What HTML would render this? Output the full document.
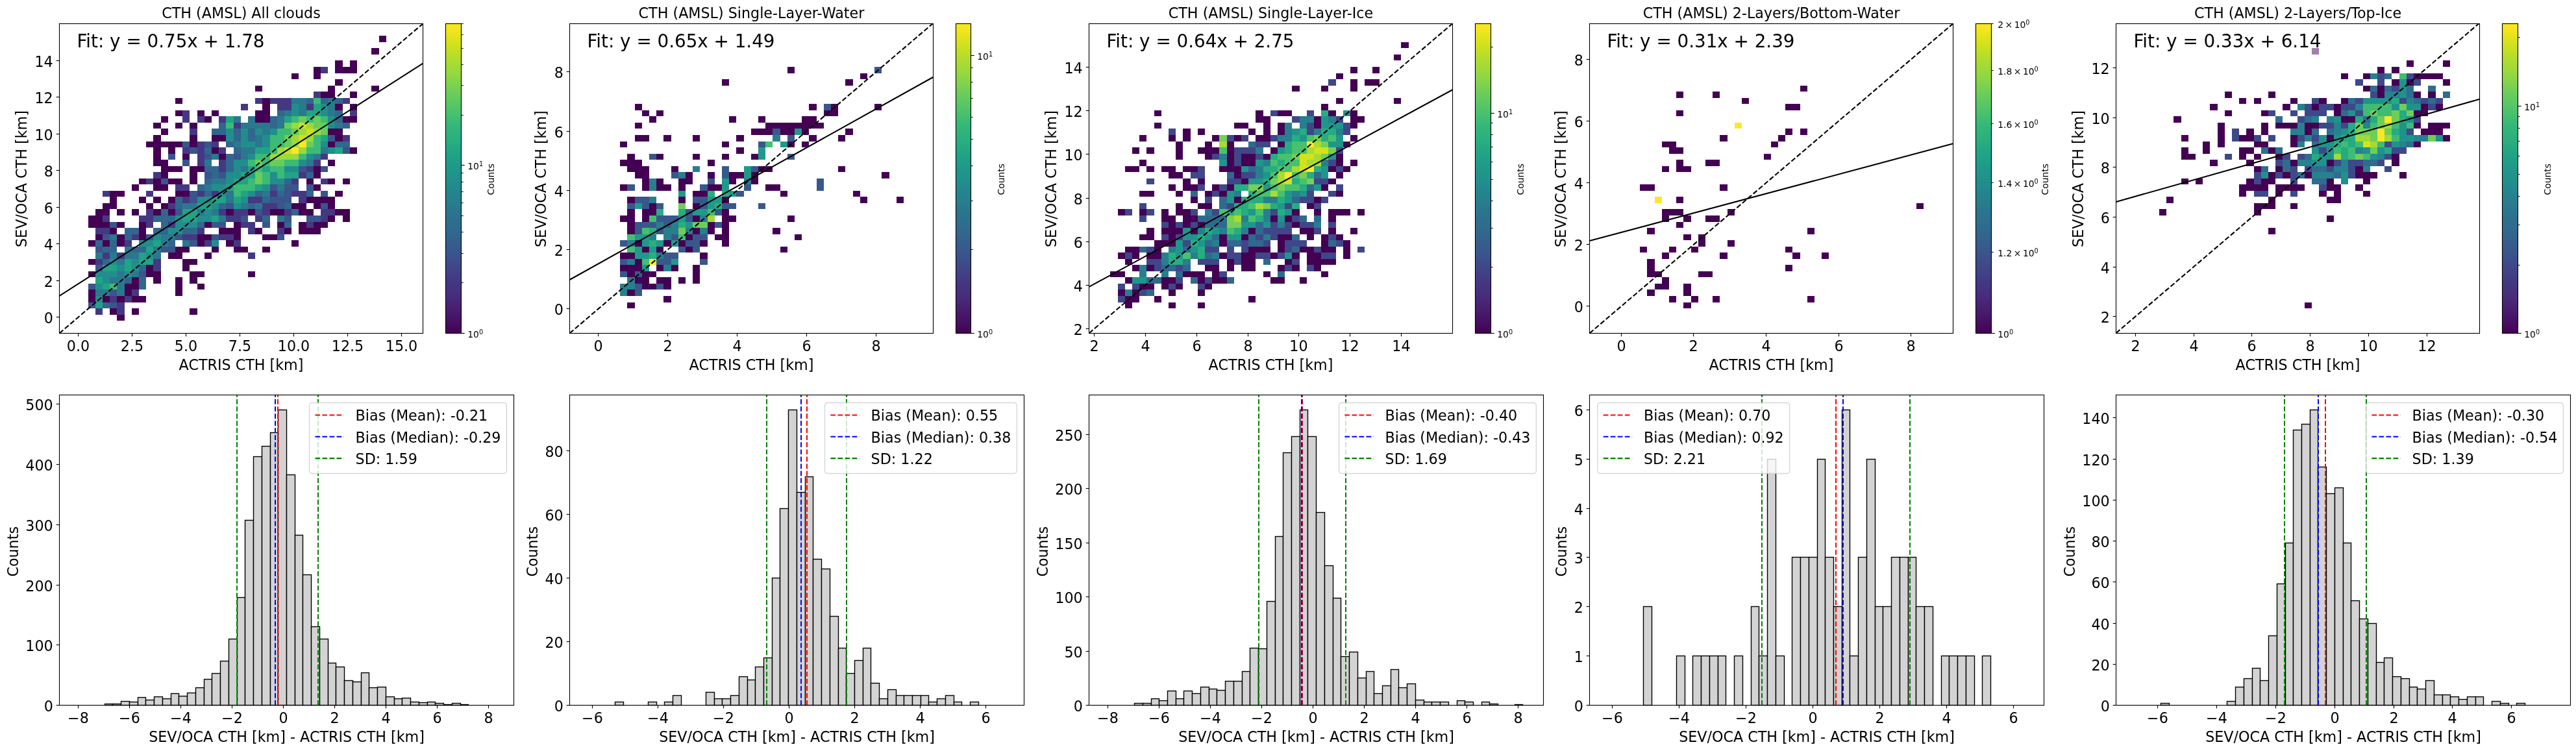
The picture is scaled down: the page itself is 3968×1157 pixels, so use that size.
<!DOCTYPE html><html><head><meta charset="utf-8"><title>CTH comparison</title><style>html,body{margin:0;padding:0;background:#fff}svg{display:block;will-change:transform}text{font-family:"DejaVu Sans", "Liberation Sans", sans-serif;fill:#000}</style></head><body>
<svg width="3968" height="1157" viewBox="0 0 3968 1157">
<rect width="3968" height="1157" fill="#fff"/>
<g shape-rendering="crispEdges">
<rect x="583.6" y="55.33" width="11.2" height="9.54" fill="#440154"/>
<rect x="572.4" y="74.41" width="11.2" height="9.54" fill="#440154"/>
<rect x="516.4" y="93.49" width="11.2" height="9.54" fill="#440154"/>
<rect x="538.8" y="93.49" width="11.2" height="9.54" fill="#440154"/>
<rect x="482.8" y="103.03" width="11.2" height="9.54" fill="#440154"/>
<rect x="494" y="103.03" width="11.2" height="9.54" fill="#453882"/>
<rect x="516.4" y="103.03" width="33.6" height="9.54" fill="#440154"/>
<rect x="449.2" y="112.57" width="11.2" height="9.54" fill="#440154"/>
<rect x="482.8" y="112.57" width="11.2" height="9.54" fill="#440154"/>
<rect x="516.4" y="122.11" width="11.2" height="9.54" fill="#440154"/>
<rect x="393.2" y="131.65" width="11.2" height="9.54" fill="#440154"/>
<rect x="505.2" y="131.65" width="11.2" height="9.54" fill="#440154"/>
<rect x="572.4" y="131.65" width="11.2" height="9.54" fill="#440154"/>
<rect x="482.8" y="141.19" width="11.2" height="9.54" fill="#453882"/>
<rect x="494" y="141.19" width="22.4" height="9.54" fill="#440154"/>
<rect x="538.8" y="141.19" width="11.2" height="9.54" fill="#440154"/>
<rect x="270" y="150.73" width="11.2" height="9.54" fill="#440154"/>
<rect x="393.2" y="150.73" width="11.2" height="9.54" fill="#453882"/>
<rect x="404.4" y="150.73" width="11.2" height="9.54" fill="#440154"/>
<rect x="415.6" y="150.73" width="33.6" height="9.54" fill="#453882"/>
<rect x="449.2" y="150.73" width="22.4" height="9.54" fill="#2a788e"/>
<rect x="471.6" y="150.73" width="11.2" height="9.54" fill="#31668e"/>
<rect x="482.8" y="150.73" width="11.2" height="9.54" fill="#3bbb75"/>
<rect x="494" y="150.73" width="11.2" height="9.54" fill="#31668e"/>
<rect x="505.2" y="150.73" width="11.2" height="9.54" fill="#2a788e"/>
<rect x="516.4" y="150.73" width="11.2" height="9.54" fill="#31668e"/>
<rect x="527.6" y="150.73" width="11.2" height="9.54" fill="#453882"/>
<rect x="370.8" y="160.27" width="11.2" height="9.54" fill="#453882"/>
<rect x="404.4" y="160.27" width="11.2" height="9.54" fill="#440154"/>
<rect x="426.8" y="160.27" width="22.4" height="9.54" fill="#453882"/>
<rect x="449.2" y="160.27" width="11.2" height="9.54" fill="#218e8d"/>
<rect x="460.4" y="160.27" width="11.2" height="9.54" fill="#2a788e"/>
<rect x="471.6" y="160.27" width="11.2" height="9.54" fill="#453882"/>
<rect x="482.8" y="160.27" width="11.2" height="9.54" fill="#20a386"/>
<rect x="494" y="160.27" width="11.2" height="9.54" fill="#218e8d"/>
<rect x="505.2" y="160.27" width="11.2" height="9.54" fill="#2a788e"/>
<rect x="516.4" y="160.27" width="11.2" height="9.54" fill="#440154"/>
<rect x="538.8" y="160.27" width="11.2" height="9.54" fill="#440154"/>
<rect x="270" y="169.81" width="11.2" height="9.54" fill="#440154"/>
<rect x="281.2" y="169.81" width="11.2" height="9.54" fill="#453882"/>
<rect x="303.6" y="169.81" width="11.2" height="9.54" fill="#440154"/>
<rect x="326" y="169.81" width="11.2" height="9.54" fill="#440154"/>
<rect x="393.2" y="169.81" width="22.4" height="9.54" fill="#440154"/>
<rect x="426.8" y="169.81" width="11.2" height="9.54" fill="#31668e"/>
<rect x="438" y="169.81" width="11.2" height="9.54" fill="#2a788e"/>
<rect x="449.2" y="169.81" width="11.2" height="9.54" fill="#218e8d"/>
<rect x="460.4" y="169.81" width="11.2" height="9.54" fill="#2a788e"/>
<rect x="471.6" y="169.81" width="22.4" height="9.54" fill="#20a386"/>
<rect x="494" y="169.81" width="11.2" height="9.54" fill="#218e8d"/>
<rect x="505.2" y="169.81" width="11.2" height="9.54" fill="#2a788e"/>
<rect x="516.4" y="169.81" width="11.2" height="9.54" fill="#31668e"/>
<rect x="538.8" y="169.81" width="11.2" height="9.54" fill="#453882"/>
<rect x="247.6" y="179.35" width="11.2" height="9.54" fill="#440154"/>
<rect x="281.2" y="179.35" width="11.2" height="9.54" fill="#453882"/>
<rect x="303.6" y="179.35" width="11.2" height="9.54" fill="#453882"/>
<rect x="314.8" y="179.35" width="11.2" height="9.54" fill="#440154"/>
<rect x="337.2" y="179.35" width="11.2" height="9.54" fill="#453882"/>
<rect x="348.4" y="179.35" width="11.2" height="9.54" fill="#20a386"/>
<rect x="359.6" y="179.35" width="11.2" height="9.54" fill="#2a788e"/>
<rect x="382" y="179.35" width="11.2" height="9.54" fill="#2a788e"/>
<rect x="393.2" y="179.35" width="22.4" height="9.54" fill="#440154"/>
<rect x="415.6" y="179.35" width="11.2" height="9.54" fill="#31668e"/>
<rect x="426.8" y="179.35" width="11.2" height="9.54" fill="#2a788e"/>
<rect x="438" y="179.35" width="11.2" height="9.54" fill="#20a386"/>
<rect x="449.2" y="179.35" width="11.2" height="9.54" fill="#3bbb75"/>
<rect x="460.4" y="179.35" width="11.2" height="9.54" fill="#69cd5b"/>
<rect x="471.6" y="179.35" width="11.2" height="9.54" fill="#3bbb75"/>
<rect x="482.8" y="179.35" width="11.2" height="9.54" fill="#69cd5b"/>
<rect x="494" y="179.35" width="11.2" height="9.54" fill="#3bbb75"/>
<rect x="505.2" y="179.35" width="11.2" height="9.54" fill="#218e8d"/>
<rect x="516.4" y="179.35" width="11.2" height="9.54" fill="#31668e"/>
<rect x="527.6" y="179.35" width="22.4" height="9.54" fill="#440154"/>
<rect x="236.4" y="188.89" width="11.2" height="9.54" fill="#440154"/>
<rect x="270" y="188.89" width="11.2" height="9.54" fill="#440154"/>
<rect x="292.4" y="188.89" width="11.2" height="9.54" fill="#440154"/>
<rect x="337.2" y="188.89" width="11.2" height="9.54" fill="#31668e"/>
<rect x="348.4" y="188.89" width="11.2" height="9.54" fill="#3bbb75"/>
<rect x="359.6" y="188.89" width="11.2" height="9.54" fill="#453882"/>
<rect x="370.8" y="188.89" width="44.8" height="9.54" fill="#2a788e"/>
<rect x="415.6" y="188.89" width="11.2" height="9.54" fill="#31668e"/>
<rect x="426.8" y="188.89" width="11.2" height="9.54" fill="#2a788e"/>
<rect x="438" y="188.89" width="11.2" height="9.54" fill="#69cd5b"/>
<rect x="449.2" y="188.89" width="11.2" height="9.54" fill="#9bd93c"/>
<rect x="460.4" y="188.89" width="11.2" height="9.54" fill="#cae11f"/>
<rect x="471.6" y="188.89" width="11.2" height="9.54" fill="#9bd93c"/>
<rect x="482.8" y="188.89" width="22.4" height="9.54" fill="#69cd5b"/>
<rect x="505.2" y="188.89" width="11.2" height="9.54" fill="#218e8d"/>
<rect x="516.4" y="188.89" width="11.2" height="9.54" fill="#2a788e"/>
<rect x="527.6" y="188.89" width="11.2" height="9.54" fill="#31668e"/>
<rect x="247.6" y="198.43" width="11.2" height="9.54" fill="#440154"/>
<rect x="292.4" y="198.43" width="11.2" height="9.54" fill="#453882"/>
<rect x="326" y="198.43" width="22.4" height="9.54" fill="#31668e"/>
<rect x="348.4" y="198.43" width="11.2" height="9.54" fill="#218e8d"/>
<rect x="359.6" y="198.43" width="11.2" height="9.54" fill="#31668e"/>
<rect x="370.8" y="198.43" width="11.2" height="9.54" fill="#218e8d"/>
<rect x="382" y="198.43" width="11.2" height="9.54" fill="#31668e"/>
<rect x="393.2" y="198.43" width="11.2" height="9.54" fill="#218e8d"/>
<rect x="404.4" y="198.43" width="11.2" height="9.54" fill="#2a788e"/>
<rect x="415.6" y="198.43" width="11.2" height="9.54" fill="#218e8d"/>
<rect x="426.8" y="198.43" width="22.4" height="9.54" fill="#3bbb75"/>
<rect x="449.2" y="198.43" width="11.2" height="9.54" fill="#69cd5b"/>
<rect x="460.4" y="198.43" width="11.2" height="9.54" fill="#9bd93c"/>
<rect x="471.6" y="198.43" width="11.2" height="9.54" fill="#cae11f"/>
<rect x="482.8" y="198.43" width="11.2" height="9.54" fill="#9bd93c"/>
<rect x="494" y="198.43" width="11.2" height="9.54" fill="#69cd5b"/>
<rect x="505.2" y="198.43" width="22.4" height="9.54" fill="#440154"/>
<rect x="236.4" y="207.97" width="11.2" height="9.54" fill="#440154"/>
<rect x="292.4" y="207.97" width="11.2" height="9.54" fill="#440154"/>
<rect x="326" y="207.97" width="22.4" height="9.54" fill="#440154"/>
<rect x="348.4" y="207.97" width="11.2" height="9.54" fill="#218e8d"/>
<rect x="359.6" y="207.97" width="11.2" height="9.54" fill="#31668e"/>
<rect x="370.8" y="207.97" width="11.2" height="9.54" fill="#218e8d"/>
<rect x="382" y="207.97" width="11.2" height="9.54" fill="#31668e"/>
<rect x="393.2" y="207.97" width="11.2" height="9.54" fill="#2a788e"/>
<rect x="404.4" y="207.97" width="11.2" height="9.54" fill="#218e8d"/>
<rect x="415.6" y="207.97" width="22.4" height="9.54" fill="#3bbb75"/>
<rect x="438" y="207.97" width="11.2" height="9.54" fill="#69cd5b"/>
<rect x="449.2" y="207.97" width="11.2" height="9.54" fill="#9bd93c"/>
<rect x="460.4" y="207.97" width="11.2" height="9.54" fill="#cae11f"/>
<rect x="471.6" y="207.97" width="11.2" height="9.54" fill="#9bd93c"/>
<rect x="482.8" y="207.97" width="11.2" height="9.54" fill="#3bbb75"/>
<rect x="494" y="207.97" width="11.2" height="9.54" fill="#20a386"/>
<rect x="505.2" y="207.97" width="11.2" height="9.54" fill="#3a548c"/>
<rect x="516.4" y="207.97" width="11.2" height="9.54" fill="#440154"/>
<rect x="527.6" y="207.97" width="11.2" height="9.54" fill="#453882"/>
<rect x="225.2" y="217.51" width="56" height="9.54" fill="#440154"/>
<rect x="281.2" y="217.51" width="11.2" height="9.54" fill="#3a548c"/>
<rect x="292.4" y="217.51" width="11.2" height="9.54" fill="#440154"/>
<rect x="303.6" y="217.51" width="11.2" height="9.54" fill="#453882"/>
<rect x="314.8" y="217.51" width="11.2" height="9.54" fill="#3a548c"/>
<rect x="326" y="217.51" width="11.2" height="9.54" fill="#453882"/>
<rect x="348.4" y="217.51" width="11.2" height="9.54" fill="#31668e"/>
<rect x="359.6" y="217.51" width="11.2" height="9.54" fill="#2a788e"/>
<rect x="370.8" y="217.51" width="22.4" height="9.54" fill="#218e8d"/>
<rect x="393.2" y="217.51" width="11.2" height="9.54" fill="#2a788e"/>
<rect x="404.4" y="217.51" width="11.2" height="9.54" fill="#218e8d"/>
<rect x="415.6" y="217.51" width="22.4" height="9.54" fill="#3bbb75"/>
<rect x="438" y="217.51" width="11.2" height="9.54" fill="#69cd5b"/>
<rect x="449.2" y="217.51" width="11.2" height="9.54" fill="#9bd93c"/>
<rect x="460.4" y="217.51" width="11.2" height="9.54" fill="#fde725"/>
<rect x="471.6" y="217.51" width="11.2" height="9.54" fill="#69cd5b"/>
<rect x="482.8" y="217.51" width="11.2" height="9.54" fill="#3bbb75"/>
<rect x="494" y="217.51" width="11.2" height="9.54" fill="#218e8d"/>
<rect x="505.2" y="217.51" width="11.2" height="9.54" fill="#440154"/>
<rect x="516.4" y="217.51" width="22.4" height="9.54" fill="#31668e"/>
<rect x="236.4" y="227.05" width="11.2" height="9.54" fill="#440154"/>
<rect x="258.8" y="227.05" width="11.2" height="9.54" fill="#440154"/>
<rect x="281.2" y="227.05" width="11.2" height="9.54" fill="#453882"/>
<rect x="292.4" y="227.05" width="11.2" height="9.54" fill="#3a548c"/>
<rect x="303.6" y="227.05" width="11.2" height="9.54" fill="#453882"/>
<rect x="314.8" y="227.05" width="11.2" height="9.54" fill="#31668e"/>
<rect x="326" y="227.05" width="11.2" height="9.54" fill="#440154"/>
<rect x="337.2" y="227.05" width="11.2" height="9.54" fill="#453882"/>
<rect x="359.6" y="227.05" width="11.2" height="9.54" fill="#31668e"/>
<rect x="370.8" y="227.05" width="22.4" height="9.54" fill="#2a788e"/>
<rect x="393.2" y="227.05" width="22.4" height="9.54" fill="#20a386"/>
<rect x="415.6" y="227.05" width="11.2" height="9.54" fill="#3bbb75"/>
<rect x="426.8" y="227.05" width="11.2" height="9.54" fill="#9bd93c"/>
<rect x="438" y="227.05" width="11.2" height="9.54" fill="#cae11f"/>
<rect x="449.2" y="227.05" width="11.2" height="9.54" fill="#fde725"/>
<rect x="460.4" y="227.05" width="11.2" height="9.54" fill="#9bd93c"/>
<rect x="471.6" y="227.05" width="22.4" height="9.54" fill="#3bbb75"/>
<rect x="494" y="227.05" width="11.2" height="9.54" fill="#2a788e"/>
<rect x="505.2" y="227.05" width="11.2" height="9.54" fill="#218e8d"/>
<rect x="516.4" y="227.05" width="11.2" height="9.54" fill="#20a386"/>
<rect x="527.6" y="227.05" width="11.2" height="9.54" fill="#3a548c"/>
<rect x="538.8" y="227.05" width="11.2" height="9.54" fill="#440154"/>
<rect x="236.4" y="236.59" width="11.2" height="9.54" fill="#440154"/>
<rect x="258.8" y="236.59" width="11.2" height="9.54" fill="#3a548c"/>
<rect x="281.2" y="236.59" width="11.2" height="9.54" fill="#440154"/>
<rect x="303.6" y="236.59" width="11.2" height="9.54" fill="#453882"/>
<rect x="314.8" y="236.59" width="11.2" height="9.54" fill="#3a548c"/>
<rect x="326" y="236.59" width="11.2" height="9.54" fill="#2a788e"/>
<rect x="337.2" y="236.59" width="11.2" height="9.54" fill="#440154"/>
<rect x="348.4" y="236.59" width="11.2" height="9.54" fill="#31668e"/>
<rect x="359.6" y="236.59" width="11.2" height="9.54" fill="#3a548c"/>
<rect x="370.8" y="236.59" width="11.2" height="9.54" fill="#2a788e"/>
<rect x="382" y="236.59" width="11.2" height="9.54" fill="#218e8d"/>
<rect x="393.2" y="236.59" width="22.4" height="9.54" fill="#3bbb75"/>
<rect x="415.6" y="236.59" width="44.8" height="9.54" fill="#9bd93c"/>
<rect x="460.4" y="236.59" width="11.2" height="9.54" fill="#3bbb75"/>
<rect x="471.6" y="236.59" width="11.2" height="9.54" fill="#218e8d"/>
<rect x="482.8" y="236.59" width="11.2" height="9.54" fill="#2a788e"/>
<rect x="494" y="236.59" width="11.2" height="9.54" fill="#453882"/>
<rect x="236.4" y="246.13" width="22.4" height="9.54" fill="#440154"/>
<rect x="281.2" y="246.13" width="11.2" height="9.54" fill="#3a548c"/>
<rect x="303.6" y="246.13" width="11.2" height="9.54" fill="#453882"/>
<rect x="314.8" y="246.13" width="11.2" height="9.54" fill="#2a788e"/>
<rect x="337.2" y="246.13" width="11.2" height="9.54" fill="#453882"/>
<rect x="348.4" y="246.13" width="11.2" height="9.54" fill="#31668e"/>
<rect x="359.6" y="246.13" width="22.4" height="9.54" fill="#218e8d"/>
<rect x="382" y="246.13" width="11.2" height="9.54" fill="#3bbb75"/>
<rect x="393.2" y="246.13" width="11.2" height="9.54" fill="#69cd5b"/>
<rect x="404.4" y="246.13" width="11.2" height="9.54" fill="#3bbb75"/>
<rect x="415.6" y="246.13" width="22.4" height="9.54" fill="#69cd5b"/>
<rect x="438" y="246.13" width="22.4" height="9.54" fill="#3bbb75"/>
<rect x="460.4" y="246.13" width="11.2" height="9.54" fill="#218e8d"/>
<rect x="471.6" y="246.13" width="11.2" height="9.54" fill="#2a788e"/>
<rect x="482.8" y="246.13" width="11.2" height="9.54" fill="#453882"/>
<rect x="505.2" y="246.13" width="11.2" height="9.54" fill="#440154"/>
<rect x="247.6" y="255.67" width="33.6" height="9.54" fill="#440154"/>
<rect x="292.4" y="255.67" width="22.4" height="9.54" fill="#440154"/>
<rect x="314.8" y="255.67" width="22.4" height="9.54" fill="#31668e"/>
<rect x="337.2" y="255.67" width="11.2" height="9.54" fill="#453882"/>
<rect x="348.4" y="255.67" width="11.2" height="9.54" fill="#31668e"/>
<rect x="359.6" y="255.67" width="11.2" height="9.54" fill="#218e8d"/>
<rect x="370.8" y="255.67" width="11.2" height="9.54" fill="#2a788e"/>
<rect x="382" y="255.67" width="11.2" height="9.54" fill="#20a386"/>
<rect x="393.2" y="255.67" width="11.2" height="9.54" fill="#3bbb75"/>
<rect x="404.4" y="255.67" width="11.2" height="9.54" fill="#20a386"/>
<rect x="415.6" y="255.67" width="22.4" height="9.54" fill="#3bbb75"/>
<rect x="438" y="255.67" width="22.4" height="9.54" fill="#218e8d"/>
<rect x="460.4" y="255.67" width="11.2" height="9.54" fill="#3a548c"/>
<rect x="471.6" y="255.67" width="11.2" height="9.54" fill="#453882"/>
<rect x="482.8" y="255.67" width="11.2" height="9.54" fill="#440154"/>
<rect x="494" y="255.67" width="11.2" height="9.54" fill="#3a548c"/>
<rect x="236.4" y="265.21" width="11.2" height="9.54" fill="#453882"/>
<rect x="247.6" y="265.21" width="11.2" height="9.54" fill="#440154"/>
<rect x="292.4" y="265.21" width="11.2" height="9.54" fill="#440154"/>
<rect x="314.8" y="265.21" width="11.2" height="9.54" fill="#3a548c"/>
<rect x="326" y="265.21" width="11.2" height="9.54" fill="#31668e"/>
<rect x="337.2" y="265.21" width="11.2" height="9.54" fill="#3a548c"/>
<rect x="348.4" y="265.21" width="22.4" height="9.54" fill="#218e8d"/>
<rect x="370.8" y="265.21" width="22.4" height="9.54" fill="#20a386"/>
<rect x="393.2" y="265.21" width="11.2" height="9.54" fill="#69cd5b"/>
<rect x="404.4" y="265.21" width="11.2" height="9.54" fill="#3bbb75"/>
<rect x="415.6" y="265.21" width="11.2" height="9.54" fill="#218e8d"/>
<rect x="426.8" y="265.21" width="11.2" height="9.54" fill="#3bbb75"/>
<rect x="438" y="265.21" width="22.4" height="9.54" fill="#20a386"/>
<rect x="460.4" y="265.21" width="11.2" height="9.54" fill="#453882"/>
<rect x="471.6" y="265.21" width="11.2" height="9.54" fill="#31668e"/>
<rect x="482.8" y="265.21" width="11.2" height="9.54" fill="#440154"/>
<rect x="214" y="274.75" width="11.2" height="9.54" fill="#440154"/>
<rect x="225.2" y="274.75" width="11.2" height="9.54" fill="#453882"/>
<rect x="236.4" y="274.75" width="11.2" height="9.54" fill="#440154"/>
<rect x="247.6" y="274.75" width="11.2" height="9.54" fill="#3a548c"/>
<rect x="258.8" y="274.75" width="22.4" height="9.54" fill="#440154"/>
<rect x="292.4" y="274.75" width="11.2" height="9.54" fill="#440154"/>
<rect x="314.8" y="274.75" width="11.2" height="9.54" fill="#31668e"/>
<rect x="326" y="274.75" width="22.4" height="9.54" fill="#2a788e"/>
<rect x="348.4" y="274.75" width="11.2" height="9.54" fill="#218e8d"/>
<rect x="359.6" y="274.75" width="22.4" height="9.54" fill="#20a386"/>
<rect x="382" y="274.75" width="11.2" height="9.54" fill="#3bbb75"/>
<rect x="393.2" y="274.75" width="11.2" height="9.54" fill="#69cd5b"/>
<rect x="404.4" y="274.75" width="11.2" height="9.54" fill="#3bbb75"/>
<rect x="415.6" y="274.75" width="22.4" height="9.54" fill="#218e8d"/>
<rect x="438" y="274.75" width="11.2" height="9.54" fill="#31668e"/>
<rect x="449.2" y="274.75" width="11.2" height="9.54" fill="#453882"/>
<rect x="471.6" y="274.75" width="11.2" height="9.54" fill="#440154"/>
<rect x="494" y="274.75" width="11.2" height="9.54" fill="#453882"/>
<rect x="505.2" y="274.75" width="11.2" height="9.54" fill="#440154"/>
<rect x="527.6" y="274.75" width="11.2" height="9.54" fill="#440154"/>
<rect x="202.8" y="284.29" width="11.2" height="9.54" fill="#440154"/>
<rect x="236.4" y="284.29" width="22.4" height="9.54" fill="#440154"/>
<rect x="270" y="284.29" width="22.4" height="9.54" fill="#453882"/>
<rect x="303.6" y="284.29" width="11.2" height="9.54" fill="#31668e"/>
<rect x="314.8" y="284.29" width="11.2" height="9.54" fill="#2a788e"/>
<rect x="326" y="284.29" width="22.4" height="9.54" fill="#218e8d"/>
<rect x="348.4" y="284.29" width="11.2" height="9.54" fill="#20a386"/>
<rect x="359.6" y="284.29" width="33.6" height="9.54" fill="#3bbb75"/>
<rect x="393.2" y="284.29" width="11.2" height="9.54" fill="#20a386"/>
<rect x="404.4" y="284.29" width="11.2" height="9.54" fill="#218e8d"/>
<rect x="415.6" y="284.29" width="11.2" height="9.54" fill="#3a548c"/>
<rect x="426.8" y="284.29" width="11.2" height="9.54" fill="#2a788e"/>
<rect x="438" y="284.29" width="22.4" height="9.54" fill="#3a548c"/>
<rect x="471.6" y="284.29" width="11.2" height="9.54" fill="#3a548c"/>
<rect x="482.8" y="284.29" width="11.2" height="9.54" fill="#440154"/>
<rect x="158" y="293.83" width="11.2" height="9.54" fill="#453882"/>
<rect x="169.2" y="293.83" width="22.4" height="9.54" fill="#440154"/>
<rect x="225.2" y="293.83" width="11.2" height="9.54" fill="#453882"/>
<rect x="270" y="293.83" width="22.4" height="9.54" fill="#440154"/>
<rect x="292.4" y="293.83" width="11.2" height="9.54" fill="#3a548c"/>
<rect x="303.6" y="293.83" width="11.2" height="9.54" fill="#453882"/>
<rect x="314.8" y="293.83" width="11.2" height="9.54" fill="#31668e"/>
<rect x="326" y="293.83" width="11.2" height="9.54" fill="#453882"/>
<rect x="337.2" y="293.83" width="11.2" height="9.54" fill="#218e8d"/>
<rect x="348.4" y="293.83" width="11.2" height="9.54" fill="#2a788e"/>
<rect x="359.6" y="293.83" width="11.2" height="9.54" fill="#3bbb75"/>
<rect x="370.8" y="293.83" width="11.2" height="9.54" fill="#20a386"/>
<rect x="382" y="293.83" width="11.2" height="9.54" fill="#218e8d"/>
<rect x="393.2" y="293.83" width="11.2" height="9.54" fill="#31668e"/>
<rect x="404.4" y="293.83" width="11.2" height="9.54" fill="#2a788e"/>
<rect x="415.6" y="293.83" width="11.2" height="9.54" fill="#453882"/>
<rect x="426.8" y="293.83" width="11.2" height="9.54" fill="#31668e"/>
<rect x="438" y="293.83" width="11.2" height="9.54" fill="#3a548c"/>
<rect x="449.2" y="293.83" width="22.4" height="9.54" fill="#453882"/>
<rect x="471.6" y="293.83" width="11.2" height="9.54" fill="#31668e"/>
<rect x="494" y="293.83" width="11.2" height="9.54" fill="#3a548c"/>
<rect x="516.4" y="293.83" width="11.2" height="9.54" fill="#440154"/>
<rect x="169.2" y="303.37" width="11.2" height="9.54" fill="#440154"/>
<rect x="214" y="303.37" width="11.2" height="9.54" fill="#440154"/>
<rect x="236.4" y="303.37" width="11.2" height="9.54" fill="#440154"/>
<rect x="258.8" y="303.37" width="11.2" height="9.54" fill="#440154"/>
<rect x="270" y="303.37" width="11.2" height="9.54" fill="#31668e"/>
<rect x="281.2" y="303.37" width="11.2" height="9.54" fill="#453882"/>
<rect x="292.4" y="303.37" width="11.2" height="9.54" fill="#3a548c"/>
<rect x="303.6" y="303.37" width="22.4" height="9.54" fill="#218e8d"/>
<rect x="326" y="303.37" width="22.4" height="9.54" fill="#20a386"/>
<rect x="348.4" y="303.37" width="11.2" height="9.54" fill="#2a788e"/>
<rect x="359.6" y="303.37" width="11.2" height="9.54" fill="#20a386"/>
<rect x="370.8" y="303.37" width="11.2" height="9.54" fill="#218e8d"/>
<rect x="382" y="303.37" width="22.4" height="9.54" fill="#453882"/>
<rect x="404.4" y="303.37" width="11.2" height="9.54" fill="#31668e"/>
<rect x="415.6" y="303.37" width="33.6" height="9.54" fill="#3a548c"/>
<rect x="460.4" y="303.37" width="11.2" height="9.54" fill="#453882"/>
<rect x="471.6" y="303.37" width="44.8" height="9.54" fill="#440154"/>
<rect x="158" y="312.91" width="22.4" height="9.54" fill="#440154"/>
<rect x="225.2" y="312.91" width="11.2" height="9.54" fill="#440154"/>
<rect x="247.6" y="312.91" width="11.2" height="9.54" fill="#440154"/>
<rect x="258.8" y="312.91" width="11.2" height="9.54" fill="#453882"/>
<rect x="270" y="312.91" width="11.2" height="9.54" fill="#31668e"/>
<rect x="281.2" y="312.91" width="22.4" height="9.54" fill="#2a788e"/>
<rect x="303.6" y="312.91" width="22.4" height="9.54" fill="#20a386"/>
<rect x="326" y="312.91" width="11.2" height="9.54" fill="#218e8d"/>
<rect x="337.2" y="312.91" width="11.2" height="9.54" fill="#31668e"/>
<rect x="348.4" y="312.91" width="11.2" height="9.54" fill="#3a548c"/>
<rect x="359.6" y="312.91" width="11.2" height="9.54" fill="#218e8d"/>
<rect x="370.8" y="312.91" width="11.2" height="9.54" fill="#2a788e"/>
<rect x="382" y="312.91" width="11.2" height="9.54" fill="#31668e"/>
<rect x="393.2" y="312.91" width="11.2" height="9.54" fill="#2a788e"/>
<rect x="404.4" y="312.91" width="22.4" height="9.54" fill="#453882"/>
<rect x="426.8" y="312.91" width="11.2" height="9.54" fill="#3a548c"/>
<rect x="438" y="312.91" width="11.2" height="9.54" fill="#31668e"/>
<rect x="449.2" y="312.91" width="22.4" height="9.54" fill="#440154"/>
<rect x="482.8" y="312.91" width="11.2" height="9.54" fill="#440154"/>
<rect x="494" y="312.91" width="11.2" height="9.54" fill="#3a548c"/>
<rect x="505.2" y="312.91" width="11.2" height="9.54" fill="#440154"/>
<rect x="146.8" y="322.45" width="22.4" height="9.54" fill="#440154"/>
<rect x="180.4" y="322.45" width="11.2" height="9.54" fill="#440154"/>
<rect x="202.8" y="322.45" width="11.2" height="9.54" fill="#440154"/>
<rect x="225.2" y="322.45" width="11.2" height="9.54" fill="#453882"/>
<rect x="236.4" y="322.45" width="11.2" height="9.54" fill="#440154"/>
<rect x="247.6" y="322.45" width="11.2" height="9.54" fill="#31668e"/>
<rect x="258.8" y="322.45" width="11.2" height="9.54" fill="#440154"/>
<rect x="270" y="322.45" width="11.2" height="9.54" fill="#3a548c"/>
<rect x="281.2" y="322.45" width="22.4" height="9.54" fill="#20a386"/>
<rect x="303.6" y="322.45" width="11.2" height="9.54" fill="#2a788e"/>
<rect x="314.8" y="322.45" width="11.2" height="9.54" fill="#218e8d"/>
<rect x="326" y="322.45" width="11.2" height="9.54" fill="#2a788e"/>
<rect x="337.2" y="322.45" width="11.2" height="9.54" fill="#453882"/>
<rect x="348.4" y="322.45" width="11.2" height="9.54" fill="#440154"/>
<rect x="359.6" y="322.45" width="22.4" height="9.54" fill="#453882"/>
<rect x="382" y="322.45" width="11.2" height="9.54" fill="#440154"/>
<rect x="393.2" y="322.45" width="11.2" height="9.54" fill="#3a548c"/>
<rect x="404.4" y="322.45" width="11.2" height="9.54" fill="#453882"/>
<rect x="415.6" y="322.45" width="22.4" height="9.54" fill="#440154"/>
<rect x="438" y="322.45" width="11.2" height="9.54" fill="#453882"/>
<rect x="449.2" y="322.45" width="11.2" height="9.54" fill="#31668e"/>
<rect x="460.4" y="322.45" width="22.4" height="9.54" fill="#440154"/>
<rect x="494" y="322.45" width="22.4" height="9.54" fill="#453882"/>
<rect x="516.4" y="322.45" width="22.4" height="9.54" fill="#440154"/>
<rect x="135.6" y="331.99" width="22.4" height="9.54" fill="#440154"/>
<rect x="158" y="331.99" width="11.2" height="9.54" fill="#453882"/>
<rect x="214" y="331.99" width="22.4" height="9.54" fill="#453882"/>
<rect x="236.4" y="331.99" width="33.6" height="9.54" fill="#31668e"/>
<rect x="270" y="331.99" width="11.2" height="9.54" fill="#218e8d"/>
<rect x="281.2" y="331.99" width="22.4" height="9.54" fill="#20a386"/>
<rect x="303.6" y="331.99" width="22.4" height="9.54" fill="#218e8d"/>
<rect x="326" y="331.99" width="11.2" height="9.54" fill="#20a386"/>
<rect x="337.2" y="331.99" width="11.2" height="9.54" fill="#2a788e"/>
<rect x="348.4" y="331.99" width="22.4" height="9.54" fill="#453882"/>
<rect x="370.8" y="331.99" width="11.2" height="9.54" fill="#3a548c"/>
<rect x="393.2" y="331.99" width="11.2" height="9.54" fill="#453882"/>
<rect x="404.4" y="331.99" width="11.2" height="9.54" fill="#31668e"/>
<rect x="426.8" y="331.99" width="11.2" height="9.54" fill="#2a788e"/>
<rect x="438" y="331.99" width="11.2" height="9.54" fill="#3a548c"/>
<rect x="471.6" y="331.99" width="22.4" height="9.54" fill="#3a548c"/>
<rect x="494" y="331.99" width="11.2" height="9.54" fill="#453882"/>
<rect x="505.2" y="331.99" width="11.2" height="9.54" fill="#440154"/>
<rect x="527.6" y="331.99" width="11.2" height="9.54" fill="#440154"/>
<rect x="135.6" y="341.53" width="33.6" height="9.54" fill="#440154"/>
<rect x="169.2" y="341.53" width="11.2" height="9.54" fill="#3a548c"/>
<rect x="180.4" y="341.53" width="11.2" height="9.54" fill="#440154"/>
<rect x="214" y="341.53" width="11.2" height="9.54" fill="#440154"/>
<rect x="225.2" y="341.53" width="11.2" height="9.54" fill="#453882"/>
<rect x="247.6" y="341.53" width="11.2" height="9.54" fill="#31668e"/>
<rect x="258.8" y="341.53" width="11.2" height="9.54" fill="#453882"/>
<rect x="270" y="341.53" width="33.6" height="9.54" fill="#218e8d"/>
<rect x="303.6" y="341.53" width="11.2" height="9.54" fill="#31668e"/>
<rect x="314.8" y="341.53" width="11.2" height="9.54" fill="#440154"/>
<rect x="326" y="341.53" width="22.4" height="9.54" fill="#3a548c"/>
<rect x="359.6" y="341.53" width="11.2" height="9.54" fill="#440154"/>
<rect x="370.8" y="341.53" width="22.4" height="9.54" fill="#453882"/>
<rect x="404.4" y="341.53" width="11.2" height="9.54" fill="#3a548c"/>
<rect x="426.8" y="341.53" width="11.2" height="9.54" fill="#440154"/>
<rect x="438" y="341.53" width="11.2" height="9.54" fill="#31668e"/>
<rect x="460.4" y="341.53" width="11.2" height="9.54" fill="#440154"/>
<rect x="471.6" y="341.53" width="11.2" height="9.54" fill="#453882"/>
<rect x="482.8" y="341.53" width="22.4" height="9.54" fill="#440154"/>
<rect x="146.8" y="351.07" width="22.4" height="9.54" fill="#453882"/>
<rect x="169.2" y="351.07" width="11.2" height="9.54" fill="#440154"/>
<rect x="191.6" y="351.07" width="22.4" height="9.54" fill="#31668e"/>
<rect x="214" y="351.07" width="11.2" height="9.54" fill="#440154"/>
<rect x="236.4" y="351.07" width="22.4" height="9.54" fill="#31668e"/>
<rect x="258.8" y="351.07" width="22.4" height="9.54" fill="#218e8d"/>
<rect x="281.2" y="351.07" width="22.4" height="9.54" fill="#31668e"/>
<rect x="303.6" y="351.07" width="11.2" height="9.54" fill="#453882"/>
<rect x="337.2" y="351.07" width="33.6" height="9.54" fill="#440154"/>
<rect x="382" y="351.07" width="11.2" height="9.54" fill="#453882"/>
<rect x="393.2" y="351.07" width="11.2" height="9.54" fill="#440154"/>
<rect x="426.8" y="351.07" width="11.2" height="9.54" fill="#453882"/>
<rect x="438" y="351.07" width="11.2" height="9.54" fill="#440154"/>
<rect x="460.4" y="351.07" width="33.6" height="9.54" fill="#440154"/>
<rect x="146.8" y="360.61" width="11.2" height="9.54" fill="#440154"/>
<rect x="158" y="360.61" width="11.2" height="9.54" fill="#3a548c"/>
<rect x="169.2" y="360.61" width="11.2" height="9.54" fill="#2a788e"/>
<rect x="180.4" y="360.61" width="11.2" height="9.54" fill="#440154"/>
<rect x="191.6" y="360.61" width="11.2" height="9.54" fill="#31668e"/>
<rect x="202.8" y="360.61" width="11.2" height="9.54" fill="#453882"/>
<rect x="214" y="360.61" width="11.2" height="9.54" fill="#440154"/>
<rect x="225.2" y="360.61" width="11.2" height="9.54" fill="#3a548c"/>
<rect x="236.4" y="360.61" width="11.2" height="9.54" fill="#218e8d"/>
<rect x="247.6" y="360.61" width="22.4" height="9.54" fill="#2a788e"/>
<rect x="270" y="360.61" width="11.2" height="9.54" fill="#3a548c"/>
<rect x="281.2" y="360.61" width="22.4" height="9.54" fill="#453882"/>
<rect x="303.6" y="360.61" width="22.4" height="9.54" fill="#440154"/>
<rect x="326" y="360.61" width="11.2" height="9.54" fill="#3a548c"/>
<rect x="337.2" y="360.61" width="22.4" height="9.54" fill="#453882"/>
<rect x="359.6" y="360.61" width="11.2" height="9.54" fill="#440154"/>
<rect x="404.4" y="360.61" width="22.4" height="9.54" fill="#440154"/>
<rect x="426.8" y="360.61" width="11.2" height="9.54" fill="#3a548c"/>
<rect x="135.6" y="370.15" width="11.2" height="9.54" fill="#440154"/>
<rect x="146.8" y="370.15" width="11.2" height="9.54" fill="#31668e"/>
<rect x="158" y="370.15" width="11.2" height="9.54" fill="#440154"/>
<rect x="169.2" y="370.15" width="11.2" height="9.54" fill="#31668e"/>
<rect x="180.4" y="370.15" width="11.2" height="9.54" fill="#440154"/>
<rect x="191.6" y="370.15" width="11.2" height="9.54" fill="#453882"/>
<rect x="214" y="370.15" width="22.4" height="9.54" fill="#218e8d"/>
<rect x="236.4" y="370.15" width="11.2" height="9.54" fill="#20a386"/>
<rect x="247.6" y="370.15" width="11.2" height="9.54" fill="#2a788e"/>
<rect x="258.8" y="370.15" width="11.2" height="9.54" fill="#31668e"/>
<rect x="281.2" y="370.15" width="11.2" height="9.54" fill="#2a788e"/>
<rect x="292.4" y="370.15" width="11.2" height="9.54" fill="#3a548c"/>
<rect x="303.6" y="370.15" width="11.2" height="9.54" fill="#440154"/>
<rect x="314.8" y="370.15" width="11.2" height="9.54" fill="#453882"/>
<rect x="326" y="370.15" width="11.2" height="9.54" fill="#218e8d"/>
<rect x="348.4" y="370.15" width="11.2" height="9.54" fill="#440154"/>
<rect x="359.6" y="370.15" width="11.2" height="9.54" fill="#453882"/>
<rect x="449.2" y="370.15" width="11.2" height="9.54" fill="#440154"/>
<rect x="146.8" y="379.69" width="11.2" height="9.54" fill="#3a548c"/>
<rect x="158" y="379.69" width="22.4" height="9.54" fill="#31668e"/>
<rect x="191.6" y="379.69" width="11.2" height="9.54" fill="#2a788e"/>
<rect x="202.8" y="379.69" width="22.4" height="9.54" fill="#31668e"/>
<rect x="225.2" y="379.69" width="11.2" height="9.54" fill="#20a386"/>
<rect x="236.4" y="379.69" width="11.2" height="9.54" fill="#2a788e"/>
<rect x="247.6" y="379.69" width="22.4" height="9.54" fill="#3a548c"/>
<rect x="270" y="379.69" width="22.4" height="9.54" fill="#440154"/>
<rect x="326" y="379.69" width="11.2" height="9.54" fill="#440154"/>
<rect x="359.6" y="379.69" width="22.4" height="9.54" fill="#440154"/>
<rect x="404.4" y="379.69" width="11.2" height="9.54" fill="#440154"/>
<rect x="146.8" y="389.23" width="11.2" height="9.54" fill="#2a788e"/>
<rect x="158" y="389.23" width="11.2" height="9.54" fill="#453882"/>
<rect x="169.2" y="389.23" width="11.2" height="9.54" fill="#2a788e"/>
<rect x="180.4" y="389.23" width="11.2" height="9.54" fill="#453882"/>
<rect x="191.6" y="389.23" width="22.4" height="9.54" fill="#2a788e"/>
<rect x="214" y="389.23" width="11.2" height="9.54" fill="#20a386"/>
<rect x="225.2" y="389.23" width="11.2" height="9.54" fill="#218e8d"/>
<rect x="236.4" y="389.23" width="11.2" height="9.54" fill="#2a788e"/>
<rect x="258.8" y="389.23" width="22.4" height="9.54" fill="#440154"/>
<rect x="314.8" y="389.23" width="11.2" height="9.54" fill="#440154"/>
<rect x="382" y="389.23" width="11.2" height="9.54" fill="#453882"/>
<rect x="135.6" y="398.77" width="11.2" height="9.54" fill="#440154"/>
<rect x="146.8" y="398.77" width="11.2" height="9.54" fill="#453882"/>
<rect x="158" y="398.77" width="11.2" height="9.54" fill="#31668e"/>
<rect x="169.2" y="398.77" width="11.2" height="9.54" fill="#218e8d"/>
<rect x="180.4" y="398.77" width="11.2" height="9.54" fill="#2a788e"/>
<rect x="191.6" y="398.77" width="11.2" height="9.54" fill="#20a386"/>
<rect x="202.8" y="398.77" width="11.2" height="9.54" fill="#218e8d"/>
<rect x="214" y="398.77" width="22.4" height="9.54" fill="#20a386"/>
<rect x="236.4" y="398.77" width="11.2" height="9.54" fill="#453882"/>
<rect x="281.2" y="398.77" width="22.4" height="9.54" fill="#440154"/>
<rect x="146.8" y="408.31" width="11.2" height="9.54" fill="#3a548c"/>
<rect x="158" y="408.31" width="22.4" height="9.54" fill="#20a386"/>
<rect x="180.4" y="408.31" width="11.2" height="9.54" fill="#218e8d"/>
<rect x="191.6" y="408.31" width="11.2" height="9.54" fill="#20a386"/>
<rect x="202.8" y="408.31" width="11.2" height="9.54" fill="#218e8d"/>
<rect x="214" y="408.31" width="11.2" height="9.54" fill="#31668e"/>
<rect x="225.2" y="408.31" width="11.2" height="9.54" fill="#440154"/>
<rect x="236.4" y="408.31" width="11.2" height="9.54" fill="#453882"/>
<rect x="281.2" y="408.31" width="11.2" height="9.54" fill="#440154"/>
<rect x="135.6" y="417.85" width="11.2" height="9.54" fill="#440154"/>
<rect x="146.8" y="417.85" width="33.6" height="9.54" fill="#218e8d"/>
<rect x="180.4" y="417.85" width="11.2" height="9.54" fill="#2a788e"/>
<rect x="191.6" y="417.85" width="11.2" height="9.54" fill="#218e8d"/>
<rect x="202.8" y="417.85" width="11.2" height="9.54" fill="#2a788e"/>
<rect x="214" y="417.85" width="11.2" height="9.54" fill="#3a548c"/>
<rect x="225.2" y="417.85" width="22.4" height="9.54" fill="#440154"/>
<rect x="292.4" y="417.85" width="22.4" height="9.54" fill="#440154"/>
<rect x="382" y="417.85" width="11.2" height="9.54" fill="#440154"/>
<rect x="146.8" y="427.39" width="11.2" height="9.54" fill="#20a386"/>
<rect x="158" y="427.39" width="11.2" height="9.54" fill="#218e8d"/>
<rect x="169.2" y="427.39" width="22.4" height="9.54" fill="#2a788e"/>
<rect x="191.6" y="427.39" width="11.2" height="9.54" fill="#31668e"/>
<rect x="202.8" y="427.39" width="11.2" height="9.54" fill="#440154"/>
<rect x="214" y="427.39" width="11.2" height="9.54" fill="#31668e"/>
<rect x="236.4" y="427.39" width="11.2" height="9.54" fill="#440154"/>
<rect x="270" y="427.39" width="11.2" height="9.54" fill="#440154"/>
<rect x="292.4" y="427.39" width="11.2" height="9.54" fill="#440154"/>
<rect x="135.6" y="436.93" width="11.2" height="9.54" fill="#3a548c"/>
<rect x="146.8" y="436.93" width="11.2" height="9.54" fill="#218e8d"/>
<rect x="158" y="436.93" width="11.2" height="9.54" fill="#20a386"/>
<rect x="169.2" y="436.93" width="11.2" height="9.54" fill="#3bbb75"/>
<rect x="180.4" y="436.93" width="11.2" height="9.54" fill="#2a788e"/>
<rect x="191.6" y="436.93" width="22.4" height="9.54" fill="#440154"/>
<rect x="214" y="436.93" width="11.2" height="9.54" fill="#31668e"/>
<rect x="270" y="436.93" width="11.2" height="9.54" fill="#440154"/>
<rect x="303.6" y="436.93" width="11.2" height="9.54" fill="#440154"/>
<rect x="135.6" y="446.47" width="11.2" height="9.54" fill="#440154"/>
<rect x="146.8" y="446.47" width="22.4" height="9.54" fill="#2a788e"/>
<rect x="169.2" y="446.47" width="11.2" height="9.54" fill="#3a548c"/>
<rect x="180.4" y="446.47" width="11.2" height="9.54" fill="#2a788e"/>
<rect x="191.6" y="446.47" width="11.2" height="9.54" fill="#440154"/>
<rect x="202.8" y="446.47" width="11.2" height="9.54" fill="#453882"/>
<rect x="270" y="446.47" width="11.2" height="9.54" fill="#440154"/>
<rect x="135.6" y="456.01" width="11.2" height="9.54" fill="#440154"/>
<rect x="146.8" y="456.01" width="11.2" height="9.54" fill="#218e8d"/>
<rect x="158" y="456.01" width="11.2" height="9.54" fill="#440154"/>
<rect x="169.2" y="456.01" width="11.2" height="9.54" fill="#453882"/>
<rect x="180.4" y="456.01" width="11.2" height="9.54" fill="#440154"/>
<rect x="191.6" y="456.01" width="11.2" height="9.54" fill="#453882"/>
<rect x="202.8" y="456.01" width="22.4" height="9.54" fill="#440154"/>
<rect x="135.6" y="465.55" width="11.2" height="9.54" fill="#3a548c"/>
<rect x="146.8" y="465.55" width="11.2" height="9.54" fill="#20a386"/>
<rect x="158" y="465.55" width="11.2" height="9.54" fill="#31668e"/>
<rect x="169.2" y="465.55" width="11.2" height="9.54" fill="#3a548c"/>
<rect x="180.4" y="465.55" width="11.2" height="9.54" fill="#453882"/>
<rect x="146.8" y="475.09" width="11.2" height="9.54" fill="#453882"/>
<rect x="169.2" y="475.09" width="11.2" height="9.54" fill="#440154"/>
<rect x="180.4" y="475.09" width="11.2" height="9.54" fill="#453882"/>
<rect x="202.8" y="475.09" width="11.2" height="9.54" fill="#440154"/>
<rect x="292.4" y="475.09" width="11.2" height="9.54" fill="#440154"/>
<rect x="180.4" y="484.63" width="11.2" height="9.54" fill="#440154"/>
</g>
<clipPath id="c91"><rect x="91.5" y="36.5" width="560" height="477"/></clipPath>
<g clip-path="url(#c91)">
<line x1="91.5" y1="455.79" x2="651.5" y2="97.61" stroke="#000" stroke-width="2.08"/>
<line x1="91.5" y1="513.45" x2="651.5" y2="36.45" stroke="#000" stroke-width="2.08" stroke-dasharray="7.71 3.33"/>
</g>
<rect x="110.1" y="43" width="305.77" height="44.4" fill="#fff" fill-opacity="0.5"/>
<text x="118.4" y="72.7" font-size="27.78" text-anchor="start">Fit: y = 0.75x + 1.78</text>
<rect x="91.5" y="36.5" width="560" height="477" fill="none" stroke="#000" stroke-width="1.11"/>
<line x1="120.5" y1="513.5" x2="120.5" y2="518.36" stroke="#000" stroke-width="1.11"/>
<text x="120.5" y="540.5" font-size="22.22" text-anchor="middle">0.0</text>
<line x1="203.5" y1="513.5" x2="203.5" y2="518.36" stroke="#000" stroke-width="1.11"/>
<text x="203.5" y="540.5" font-size="22.22" text-anchor="middle">2.5</text>
<line x1="286.5" y1="513.5" x2="286.5" y2="518.36" stroke="#000" stroke-width="1.11"/>
<text x="286.5" y="540.5" font-size="22.22" text-anchor="middle">5.0</text>
<line x1="369.5" y1="513.5" x2="369.5" y2="518.36" stroke="#000" stroke-width="1.11"/>
<text x="369.5" y="540.5" font-size="22.22" text-anchor="middle">7.5</text>
<line x1="452.5" y1="513.5" x2="452.5" y2="518.36" stroke="#000" stroke-width="1.11"/>
<text x="452.5" y="540.5" font-size="22.22" text-anchor="middle">10.0</text>
<line x1="535.5" y1="513.5" x2="535.5" y2="518.36" stroke="#000" stroke-width="1.11"/>
<text x="535.5" y="540.5" font-size="22.22" text-anchor="middle">12.5</text>
<line x1="618.5" y1="513.5" x2="618.5" y2="518.36" stroke="#000" stroke-width="1.11"/>
<text x="618.5" y="540.5" font-size="22.22" text-anchor="middle">15.0</text>
<line x1="86.64" y1="488.5" x2="91.5" y2="488.5" stroke="#000" stroke-width="1.11"/>
<text x="81.78" y="497.8" font-size="22.22" text-anchor="end">0</text>
<line x1="86.64" y1="432.5" x2="91.5" y2="432.5" stroke="#000" stroke-width="1.11"/>
<text x="81.78" y="441.8" font-size="22.22" text-anchor="end">2</text>
<line x1="86.64" y1="375.5" x2="91.5" y2="375.5" stroke="#000" stroke-width="1.11"/>
<text x="81.78" y="384.8" font-size="22.22" text-anchor="end">4</text>
<line x1="86.64" y1="319.5" x2="91.5" y2="319.5" stroke="#000" stroke-width="1.11"/>
<text x="81.78" y="328.8" font-size="22.22" text-anchor="end">6</text>
<line x1="86.64" y1="262.5" x2="91.5" y2="262.5" stroke="#000" stroke-width="1.11"/>
<text x="81.78" y="271.8" font-size="22.22" text-anchor="end">8</text>
<line x1="86.64" y1="206.5" x2="91.5" y2="206.5" stroke="#000" stroke-width="1.11"/>
<text x="81.78" y="215.8" font-size="22.22" text-anchor="end">10</text>
<line x1="86.64" y1="149.5" x2="91.5" y2="149.5" stroke="#000" stroke-width="1.11"/>
<text x="81.78" y="158.8" font-size="22.22" text-anchor="end">12</text>
<line x1="86.64" y1="93.5" x2="91.5" y2="93.5" stroke="#000" stroke-width="1.11"/>
<text x="81.78" y="102.8" font-size="22.22" text-anchor="end">14</text>
<text x="371.5" y="27.9" font-size="22.22" text-anchor="middle">CTH (AMSL) All clouds</text>
<text x="371.5" y="569.8" font-size="22.22" text-anchor="middle">ACTRIS CTH [km]</text>
<linearGradient id="g140176185478912" x1="0" y1="0" x2="0" y2="1"><stop offset="0" stop-color="#fde725"/><stop offset="0.04" stop-color="#e5e419"/><stop offset="0.08" stop-color="#c8e020"/><stop offset="0.12" stop-color="#addc30"/><stop offset="0.17" stop-color="#90d743"/><stop offset="0.21" stop-color="#75d054"/><stop offset="0.25" stop-color="#5ec962"/><stop offset="0.29" stop-color="#48c16e"/><stop offset="0.33" stop-color="#35b779"/><stop offset="0.38" stop-color="#28ae80"/><stop offset="0.42" stop-color="#20a486"/><stop offset="0.46" stop-color="#1f9a8a"/><stop offset="0.5" stop-color="#21918c"/><stop offset="0.54" stop-color="#24868e"/><stop offset="0.58" stop-color="#287c8e"/><stop offset="0.62" stop-color="#2c728e"/><stop offset="0.67" stop-color="#31688e"/><stop offset="0.71" stop-color="#365d8d"/><stop offset="0.75" stop-color="#3b528b"/><stop offset="0.79" stop-color="#404688"/><stop offset="0.83" stop-color="#443983"/><stop offset="0.88" stop-color="#472d7b"/><stop offset="0.92" stop-color="#481f70"/><stop offset="0.96" stop-color="#471063"/><stop offset="1" stop-color="#440154"/></linearGradient>
<rect x="686.5" y="36.5" width="24" height="477" fill="url(#g140176185478912)" stroke="#000" stroke-width="1.11"/>
<line x1="710.5" y1="513.5" x2="715.76" y2="513.5" stroke="#000" stroke-width="1.11"/>
<text x="720.22" y="520.1" font-size="13.89" text-anchor="start">10<tspan dy="-5.3" font-size="9.72">0</tspan></text>
<line x1="710.5" y1="254.5" x2="715.76" y2="254.5" stroke="#000" stroke-width="1.11"/>
<text x="720.22" y="261.1" font-size="13.89" text-anchor="start">10<tspan dy="-5.3" font-size="9.72">1</tspan></text>
<line x1="710.5" y1="435.5" x2="713.78" y2="435.5" stroke="#000" stroke-width="0.95"/>
<line x1="710.5" y1="390.5" x2="713.78" y2="390.5" stroke="#000" stroke-width="0.95"/>
<line x1="710.5" y1="357.5" x2="713.78" y2="357.5" stroke="#000" stroke-width="0.95"/>
<line x1="710.5" y1="332.5" x2="713.78" y2="332.5" stroke="#000" stroke-width="0.95"/>
<line x1="710.5" y1="312.5" x2="713.78" y2="312.5" stroke="#000" stroke-width="0.95"/>
<line x1="710.5" y1="295.5" x2="713.78" y2="295.5" stroke="#000" stroke-width="0.95"/>
<line x1="710.5" y1="280.5" x2="713.78" y2="280.5" stroke="#000" stroke-width="0.95"/>
<line x1="710.5" y1="266.5" x2="713.78" y2="266.5" stroke="#000" stroke-width="0.95"/>
<line x1="710.5" y1="177.5" x2="713.78" y2="177.5" stroke="#000" stroke-width="0.95"/>
<line x1="710.5" y1="131.5" x2="713.78" y2="131.5" stroke="#000" stroke-width="0.95"/>
<line x1="710.5" y1="99.5" x2="713.78" y2="99.5" stroke="#000" stroke-width="0.95"/>
<line x1="710.5" y1="74.5" x2="713.78" y2="74.5" stroke="#000" stroke-width="0.95"/>
<line x1="710.5" y1="53.5" x2="713.78" y2="53.5" stroke="#000" stroke-width="0.95"/>
<line x1="710.5" y1="36.5" x2="713.78" y2="36.5" stroke="#000" stroke-width="0.95"/>
<text x="760.8" y="276.3" font-size="13.89" text-anchor="middle" transform="rotate(-90 760.8 276.3)">Counts</text>
<g shape-rendering="crispEdges">
<rect x="1212.8" y="103.03" width="11.2" height="9.54" fill="#440154"/>
<rect x="1347.2" y="103.03" width="11.2" height="9.54" fill="#38588c"/>
<rect x="1324.8" y="112.57" width="11.2" height="9.54" fill="#440154"/>
<rect x="1112" y="122.11" width="11.2" height="9.54" fill="#440154"/>
<rect x="1302.4" y="122.11" width="11.2" height="9.54" fill="#440154"/>
<rect x="977.6" y="160.27" width="11.2" height="9.54" fill="#440154"/>
<rect x="1246.4" y="160.27" width="11.2" height="9.54" fill="#440154"/>
<rect x="1268.8" y="160.27" width="11.2" height="9.54" fill="#38588c"/>
<rect x="1280" y="160.27" width="11.2" height="9.54" fill="#440154"/>
<rect x="1347.2" y="160.27" width="11.2" height="9.54" fill="#440154"/>
<rect x="988.8" y="169.81" width="11.2" height="9.54" fill="#440154"/>
<rect x="1011.2" y="169.81" width="11.2" height="9.54" fill="#440154"/>
<rect x="1268.8" y="169.81" width="22.4" height="9.54" fill="#440154"/>
<rect x="1000" y="179.35" width="11.2" height="9.54" fill="#440154"/>
<rect x="1123.2" y="179.35" width="11.2" height="9.54" fill="#440154"/>
<rect x="1168" y="179.35" width="11.2" height="9.54" fill="#440154"/>
<rect x="1235.2" y="179.35" width="22.4" height="9.54" fill="#440154"/>
<rect x="977.6" y="188.89" width="11.2" height="9.54" fill="#440154"/>
<rect x="1179.2" y="188.89" width="89.6" height="9.54" fill="#440154"/>
<rect x="1156.8" y="198.43" width="33.6" height="9.54" fill="#440154"/>
<rect x="1190.4" y="198.43" width="11.2" height="9.54" fill="#38588c"/>
<rect x="1201.6" y="198.43" width="22.4" height="9.54" fill="#440154"/>
<rect x="1224" y="198.43" width="11.2" height="9.54" fill="#1f9a8a"/>
<rect x="1235.2" y="198.43" width="11.2" height="9.54" fill="#440154"/>
<rect x="1302.4" y="198.43" width="11.2" height="9.54" fill="#440154"/>
<rect x="977.6" y="207.97" width="22.4" height="9.54" fill="#440154"/>
<rect x="1022.4" y="207.97" width="11.2" height="9.54" fill="#440154"/>
<rect x="1067.2" y="207.97" width="11.2" height="9.54" fill="#440154"/>
<rect x="1134.4" y="207.97" width="11.2" height="9.54" fill="#440154"/>
<rect x="1190.4" y="207.97" width="11.2" height="9.54" fill="#277f8e"/>
<rect x="1212.8" y="207.97" width="11.2" height="9.54" fill="#38588c"/>
<rect x="1246.4" y="207.97" width="11.2" height="9.54" fill="#440154"/>
<rect x="1291.2" y="207.97" width="11.2" height="9.54" fill="#440154"/>
<rect x="955.2" y="217.51" width="11.2" height="9.54" fill="#440154"/>
<rect x="1112" y="217.51" width="11.2" height="9.54" fill="#440154"/>
<rect x="1168" y="217.51" width="11.2" height="9.54" fill="#38588c"/>
<rect x="1179.2" y="217.51" width="11.2" height="9.54" fill="#44bf70"/>
<rect x="1201.6" y="217.51" width="11.2" height="9.54" fill="#1f9a8a"/>
<rect x="1212.8" y="217.51" width="11.2" height="9.54" fill="#440154"/>
<rect x="1235.2" y="217.51" width="11.2" height="9.54" fill="#440154"/>
<rect x="1134.4" y="227.05" width="11.2" height="9.54" fill="#440154"/>
<rect x="1168" y="227.05" width="11.2" height="9.54" fill="#1f9a8a"/>
<rect x="966.4" y="236.59" width="11.2" height="9.54" fill="#440154"/>
<rect x="1000" y="236.59" width="11.2" height="9.54" fill="#38588c"/>
<rect x="1011.2" y="236.59" width="11.2" height="9.54" fill="#440154"/>
<rect x="1067.2" y="236.59" width="11.2" height="9.54" fill="#440154"/>
<rect x="1112" y="236.59" width="11.2" height="9.54" fill="#440154"/>
<rect x="1156.8" y="236.59" width="11.2" height="9.54" fill="#440154"/>
<rect x="1168" y="236.59" width="11.2" height="9.54" fill="#1f9a8a"/>
<rect x="1212.8" y="236.59" width="11.2" height="9.54" fill="#38588c"/>
<rect x="955.2" y="246.13" width="33.6" height="9.54" fill="#440154"/>
<rect x="1089.6" y="246.13" width="11.2" height="9.54" fill="#440154"/>
<rect x="966.4" y="255.67" width="33.6" height="9.54" fill="#440154"/>
<rect x="1033.6" y="255.67" width="11.2" height="9.54" fill="#440154"/>
<rect x="1067.2" y="255.67" width="11.2" height="9.54" fill="#277f8e"/>
<rect x="1112" y="255.67" width="11.2" height="9.54" fill="#38588c"/>
<rect x="1145.6" y="255.67" width="11.2" height="9.54" fill="#1f9a8a"/>
<rect x="1156.8" y="255.67" width="11.2" height="9.54" fill="#38588c"/>
<rect x="1168" y="255.67" width="22.4" height="9.54" fill="#440154"/>
<rect x="1291.2" y="255.67" width="11.2" height="9.54" fill="#440154"/>
<rect x="977.6" y="265.21" width="22.4" height="9.54" fill="#440154"/>
<rect x="1033.6" y="265.21" width="11.2" height="9.54" fill="#38588c"/>
<rect x="1044.8" y="265.21" width="11.2" height="9.54" fill="#277f8e"/>
<rect x="1056" y="265.21" width="11.2" height="9.54" fill="#440154"/>
<rect x="1089.6" y="265.21" width="11.2" height="9.54" fill="#440154"/>
<rect x="1112" y="265.21" width="11.2" height="9.54" fill="#38588c"/>
<rect x="1123.2" y="265.21" width="22.4" height="9.54" fill="#440154"/>
<rect x="1145.6" y="265.21" width="11.2" height="9.54" fill="#1f9a8a"/>
<rect x="1156.8" y="265.21" width="11.2" height="9.54" fill="#440154"/>
<rect x="1358.4" y="265.21" width="11.2" height="9.54" fill="#440154"/>
<rect x="988.8" y="274.75" width="11.2" height="9.54" fill="#440154"/>
<rect x="1000" y="274.75" width="11.2" height="9.54" fill="#277f8e"/>
<rect x="1011.2" y="274.75" width="11.2" height="9.54" fill="#440154"/>
<rect x="1044.8" y="274.75" width="22.4" height="9.54" fill="#440154"/>
<rect x="1089.6" y="274.75" width="11.2" height="9.54" fill="#38588c"/>
<rect x="1112" y="274.75" width="11.2" height="9.54" fill="#1f9a8a"/>
<rect x="1123.2" y="274.75" width="11.2" height="9.54" fill="#440154"/>
<rect x="1145.6" y="274.75" width="11.2" height="9.54" fill="#277f8e"/>
<rect x="1156.8" y="274.75" width="11.2" height="9.54" fill="#440154"/>
<rect x="1257.6" y="274.75" width="11.2" height="9.54" fill="#38588c"/>
<rect x="955.2" y="284.29" width="11.2" height="9.54" fill="#440154"/>
<rect x="966.4" y="284.29" width="11.2" height="9.54" fill="#38588c"/>
<rect x="988.8" y="284.29" width="11.2" height="9.54" fill="#440154"/>
<rect x="1000" y="284.29" width="11.2" height="9.54" fill="#277f8e"/>
<rect x="1011.2" y="284.29" width="22.4" height="9.54" fill="#440154"/>
<rect x="1044.8" y="284.29" width="11.2" height="9.54" fill="#440154"/>
<rect x="1078.4" y="284.29" width="11.2" height="9.54" fill="#38588c"/>
<rect x="1089.6" y="284.29" width="22.4" height="9.54" fill="#440154"/>
<rect x="1112" y="284.29" width="11.2" height="9.54" fill="#1f9a8a"/>
<rect x="1145.6" y="284.29" width="11.2" height="9.54" fill="#38588c"/>
<rect x="1179.2" y="284.29" width="22.4" height="9.54" fill="#440154"/>
<rect x="1257.6" y="284.29" width="11.2" height="9.54" fill="#38588c"/>
<rect x="1044.8" y="293.83" width="11.2" height="9.54" fill="#1f9a8a"/>
<rect x="1067.2" y="293.83" width="22.4" height="9.54" fill="#440154"/>
<rect x="1089.6" y="293.83" width="11.2" height="9.54" fill="#28ae80"/>
<rect x="1112" y="293.83" width="11.2" height="9.54" fill="#28ae80"/>
<rect x="1123.2" y="293.83" width="11.2" height="9.54" fill="#1f9a8a"/>
<rect x="1134.4" y="293.83" width="11.2" height="9.54" fill="#38588c"/>
<rect x="1201.6" y="293.83" width="11.2" height="9.54" fill="#440154"/>
<rect x="1313.6" y="293.83" width="11.2" height="9.54" fill="#440154"/>
<rect x="966.4" y="303.37" width="11.2" height="9.54" fill="#440154"/>
<rect x="977.6" y="303.37" width="22.4" height="9.54" fill="#38588c"/>
<rect x="1000" y="303.37" width="11.2" height="9.54" fill="#277f8e"/>
<rect x="1044.8" y="303.37" width="11.2" height="9.54" fill="#440154"/>
<rect x="1067.2" y="303.37" width="22.4" height="9.54" fill="#38588c"/>
<rect x="1089.6" y="303.37" width="22.4" height="9.54" fill="#1f9a8a"/>
<rect x="1112" y="303.37" width="11.2" height="9.54" fill="#440154"/>
<rect x="1324.8" y="303.37" width="11.2" height="9.54" fill="#440154"/>
<rect x="1380.8" y="303.37" width="11.2" height="9.54" fill="#440154"/>
<rect x="966.4" y="312.91" width="11.2" height="9.54" fill="#38588c"/>
<rect x="977.6" y="312.91" width="11.2" height="9.54" fill="#1f9a8a"/>
<rect x="988.8" y="312.91" width="11.2" height="9.54" fill="#38588c"/>
<rect x="1000" y="312.91" width="11.2" height="9.54" fill="#440154"/>
<rect x="1011.2" y="312.91" width="11.2" height="9.54" fill="#38588c"/>
<rect x="1044.8" y="312.91" width="11.2" height="9.54" fill="#6ece58"/>
<rect x="1067.2" y="312.91" width="11.2" height="9.54" fill="#440154"/>
<rect x="1078.4" y="312.91" width="11.2" height="9.54" fill="#38588c"/>
<rect x="1089.6" y="312.91" width="11.2" height="9.54" fill="#1f9a8a"/>
<rect x="1100.8" y="312.91" width="11.2" height="9.54" fill="#28ae80"/>
<rect x="1112" y="312.91" width="22.4" height="9.54" fill="#38588c"/>
<rect x="1168" y="312.91" width="11.2" height="9.54" fill="#38588c"/>
<rect x="966.4" y="322.45" width="11.2" height="9.54" fill="#440154"/>
<rect x="988.8" y="322.45" width="22.4" height="9.54" fill="#440154"/>
<rect x="1011.2" y="322.45" width="11.2" height="9.54" fill="#28ae80"/>
<rect x="1044.8" y="322.45" width="11.2" height="9.54" fill="#28ae80"/>
<rect x="1056" y="322.45" width="11.2" height="9.54" fill="#38588c"/>
<rect x="1067.2" y="322.45" width="22.4" height="9.54" fill="#1f9a8a"/>
<rect x="1089.6" y="322.45" width="11.2" height="9.54" fill="#44bf70"/>
<rect x="1100.8" y="322.45" width="11.2" height="9.54" fill="#38588c"/>
<rect x="1112" y="322.45" width="11.2" height="9.54" fill="#440154"/>
<rect x="955.2" y="331.99" width="22.4" height="9.54" fill="#440154"/>
<rect x="988.8" y="331.99" width="11.2" height="9.54" fill="#440154"/>
<rect x="1000" y="331.99" width="11.2" height="9.54" fill="#44bf70"/>
<rect x="1011.2" y="331.99" width="33.6" height="9.54" fill="#38588c"/>
<rect x="1044.8" y="331.99" width="11.2" height="9.54" fill="#1f9a8a"/>
<rect x="1056" y="331.99" width="11.2" height="9.54" fill="#38588c"/>
<rect x="1067.2" y="331.99" width="11.2" height="9.54" fill="#440154"/>
<rect x="1078.4" y="331.99" width="11.2" height="9.54" fill="#277f8e"/>
<rect x="1089.6" y="331.99" width="11.2" height="9.54" fill="#a2da37"/>
<rect x="1112" y="331.99" width="22.4" height="9.54" fill="#440154"/>
<rect x="1212.8" y="331.99" width="11.2" height="9.54" fill="#440154"/>
<rect x="966.4" y="341.53" width="11.2" height="9.54" fill="#440154"/>
<rect x="977.6" y="341.53" width="33.6" height="9.54" fill="#38588c"/>
<rect x="1011.2" y="341.53" width="11.2" height="9.54" fill="#277f8e"/>
<rect x="1022.4" y="341.53" width="11.2" height="9.54" fill="#38588c"/>
<rect x="1033.6" y="341.53" width="11.2" height="9.54" fill="#277f8e"/>
<rect x="1044.8" y="341.53" width="11.2" height="9.54" fill="#28ae80"/>
<rect x="1056" y="341.53" width="11.2" height="9.54" fill="#1f9a8a"/>
<rect x="1067.2" y="341.53" width="22.4" height="9.54" fill="#6ece58"/>
<rect x="1089.6" y="341.53" width="11.2" height="9.54" fill="#440154"/>
<rect x="1100.8" y="341.53" width="11.2" height="9.54" fill="#38588c"/>
<rect x="1112" y="341.53" width="11.2" height="9.54" fill="#440154"/>
<rect x="966.4" y="351.07" width="11.2" height="9.54" fill="#440154"/>
<rect x="977.6" y="351.07" width="11.2" height="9.54" fill="#38588c"/>
<rect x="988.8" y="351.07" width="11.2" height="9.54" fill="#44bf70"/>
<rect x="1000" y="351.07" width="11.2" height="9.54" fill="#28ae80"/>
<rect x="1011.2" y="351.07" width="11.2" height="9.54" fill="#38588c"/>
<rect x="1022.4" y="351.07" width="22.4" height="9.54" fill="#277f8e"/>
<rect x="1044.8" y="351.07" width="11.2" height="9.54" fill="#6ece58"/>
<rect x="1056" y="351.07" width="11.2" height="9.54" fill="#277f8e"/>
<rect x="1067.2" y="351.07" width="11.2" height="9.54" fill="#440154"/>
<rect x="1078.4" y="351.07" width="11.2" height="9.54" fill="#277f8e"/>
<rect x="1089.6" y="351.07" width="11.2" height="9.54" fill="#440154"/>
<rect x="1112" y="351.07" width="11.2" height="9.54" fill="#440154"/>
<rect x="1190.4" y="351.07" width="11.2" height="9.54" fill="#440154"/>
<rect x="966.4" y="360.61" width="11.2" height="9.54" fill="#44bf70"/>
<rect x="977.6" y="360.61" width="22.4" height="9.54" fill="#1f9a8a"/>
<rect x="1000" y="360.61" width="11.2" height="9.54" fill="#277f8e"/>
<rect x="1022.4" y="360.61" width="11.2" height="9.54" fill="#277f8e"/>
<rect x="1033.6" y="360.61" width="11.2" height="9.54" fill="#38588c"/>
<rect x="1044.8" y="360.61" width="11.2" height="9.54" fill="#44bf70"/>
<rect x="1056" y="360.61" width="11.2" height="9.54" fill="#440154"/>
<rect x="1067.2" y="360.61" width="22.4" height="9.54" fill="#38588c"/>
<rect x="1100.8" y="360.61" width="22.4" height="9.54" fill="#440154"/>
<rect x="1224" y="360.61" width="11.2" height="9.54" fill="#440154"/>
<rect x="955.2" y="370.15" width="11.2" height="9.54" fill="#38588c"/>
<rect x="966.4" y="370.15" width="11.2" height="9.54" fill="#277f8e"/>
<rect x="977.6" y="370.15" width="11.2" height="9.54" fill="#440154"/>
<rect x="988.8" y="370.15" width="11.2" height="9.54" fill="#1f9a8a"/>
<rect x="1000" y="370.15" width="11.2" height="9.54" fill="#28ae80"/>
<rect x="1011.2" y="370.15" width="11.2" height="9.54" fill="#1f9a8a"/>
<rect x="1022.4" y="370.15" width="11.2" height="9.54" fill="#440154"/>
<rect x="1033.6" y="370.15" width="11.2" height="9.54" fill="#1f9a8a"/>
<rect x="1044.8" y="370.15" width="11.2" height="9.54" fill="#440154"/>
<rect x="1056" y="370.15" width="22.4" height="9.54" fill="#38588c"/>
<rect x="1078.4" y="370.15" width="11.2" height="9.54" fill="#440154"/>
<rect x="1112" y="370.15" width="11.2" height="9.54" fill="#440154"/>
<rect x="966.4" y="379.69" width="11.2" height="9.54" fill="#44bf70"/>
<rect x="977.6" y="379.69" width="11.2" height="9.54" fill="#1f9a8a"/>
<rect x="988.8" y="379.69" width="11.2" height="9.54" fill="#440154"/>
<rect x="1000" y="379.69" width="11.2" height="9.54" fill="#1f9a8a"/>
<rect x="1011.2" y="379.69" width="11.2" height="9.54" fill="#440154"/>
<rect x="1044.8" y="379.69" width="11.2" height="9.54" fill="#38588c"/>
<rect x="1056" y="379.69" width="11.2" height="9.54" fill="#440154"/>
<rect x="1067.2" y="379.69" width="11.2" height="9.54" fill="#38588c"/>
<rect x="1201.6" y="379.69" width="11.2" height="9.54" fill="#440154"/>
<rect x="955.2" y="389.23" width="22.4" height="9.54" fill="#440154"/>
<rect x="977.6" y="389.23" width="22.4" height="9.54" fill="#1f9a8a"/>
<rect x="1000" y="389.23" width="11.2" height="9.54" fill="#28ae80"/>
<rect x="1011.2" y="389.23" width="11.2" height="9.54" fill="#277f8e"/>
<rect x="1022.4" y="389.23" width="22.4" height="9.54" fill="#38588c"/>
<rect x="1078.4" y="389.23" width="11.2" height="9.54" fill="#440154"/>
<rect x="955.2" y="398.77" width="11.2" height="9.54" fill="#38588c"/>
<rect x="966.4" y="398.77" width="11.2" height="9.54" fill="#277f8e"/>
<rect x="977.6" y="398.77" width="11.2" height="9.54" fill="#440154"/>
<rect x="988.8" y="398.77" width="11.2" height="9.54" fill="#44bf70"/>
<rect x="1000" y="398.77" width="11.2" height="9.54" fill="#fde725"/>
<rect x="1011.2" y="398.77" width="22.4" height="9.54" fill="#38588c"/>
<rect x="1033.6" y="398.77" width="11.2" height="9.54" fill="#1f9a8a"/>
<rect x="1078.4" y="398.77" width="11.2" height="9.54" fill="#38588c"/>
<rect x="955.2" y="408.31" width="33.6" height="9.54" fill="#440154"/>
<rect x="988.8" y="408.31" width="11.2" height="9.54" fill="#1f9a8a"/>
<rect x="1011.2" y="408.31" width="11.2" height="9.54" fill="#440154"/>
<rect x="1022.4" y="408.31" width="11.2" height="9.54" fill="#277f8e"/>
<rect x="1033.6" y="408.31" width="11.2" height="9.54" fill="#440154"/>
<rect x="1067.2" y="408.31" width="11.2" height="9.54" fill="#440154"/>
<rect x="955.2" y="417.85" width="11.2" height="9.54" fill="#38588c"/>
<rect x="966.4" y="417.85" width="11.2" height="9.54" fill="#440154"/>
<rect x="977.6" y="417.85" width="11.2" height="9.54" fill="#38588c"/>
<rect x="988.8" y="417.85" width="22.4" height="9.54" fill="#440154"/>
<rect x="1067.2" y="417.85" width="11.2" height="9.54" fill="#440154"/>
<rect x="966.4" y="427.39" width="11.2" height="9.54" fill="#277f8e"/>
<rect x="977.6" y="427.39" width="22.4" height="9.54" fill="#440154"/>
<rect x="1011.2" y="427.39" width="22.4" height="9.54" fill="#440154"/>
<rect x="1044.8" y="427.39" width="11.2" height="9.54" fill="#440154"/>
<rect x="1067.2" y="427.39" width="11.2" height="9.54" fill="#440154"/>
<rect x="955.2" y="436.93" width="22.4" height="9.54" fill="#277f8e"/>
<rect x="977.6" y="436.93" width="11.2" height="9.54" fill="#38588c"/>
<rect x="988.8" y="436.93" width="22.4" height="9.54" fill="#440154"/>
<rect x="1011.2" y="436.93" width="11.2" height="9.54" fill="#38588c"/>
<rect x="1022.4" y="436.93" width="11.2" height="9.54" fill="#440154"/>
<rect x="955.2" y="446.47" width="11.2" height="9.54" fill="#277f8e"/>
<rect x="966.4" y="446.47" width="11.2" height="9.54" fill="#440154"/>
<rect x="977.6" y="446.47" width="11.2" height="9.54" fill="#38588c"/>
<rect x="1022.4" y="456.01" width="11.2" height="9.54" fill="#440154"/>
<rect x="966.4" y="465.55" width="11.2" height="9.54" fill="#440154"/>
</g>
<clipPath id="c877"><rect x="877.5" y="36.5" width="560" height="477"/></clipPath>
<g clip-path="url(#c877)">
<line x1="877.5" y1="431.01" x2="1437.5" y2="118.76" stroke="#000" stroke-width="2.08"/>
<line x1="877.5" y1="513.45" x2="1437.5" y2="35.72" stroke="#000" stroke-width="2.08" stroke-dasharray="7.71 3.33"/>
</g>
<rect x="896.1" y="43" width="305.77" height="44.4" fill="#fff" fill-opacity="0.5"/>
<text x="904.4" y="72.7" font-size="27.78" text-anchor="start">Fit: y = 0.65x + 1.49</text>
<rect x="877.5" y="36.5" width="560" height="477" fill="none" stroke="#000" stroke-width="1.11"/>
<line x1="921.5" y1="513.5" x2="921.5" y2="518.36" stroke="#000" stroke-width="1.11"/>
<text x="921.5" y="540.5" font-size="22.22" text-anchor="middle">0</text>
<line x1="1028.5" y1="513.5" x2="1028.5" y2="518.36" stroke="#000" stroke-width="1.11"/>
<text x="1028.5" y="540.5" font-size="22.22" text-anchor="middle">2</text>
<line x1="1135.5" y1="513.5" x2="1135.5" y2="518.36" stroke="#000" stroke-width="1.11"/>
<text x="1135.5" y="540.5" font-size="22.22" text-anchor="middle">4</text>
<line x1="1242.5" y1="513.5" x2="1242.5" y2="518.36" stroke="#000" stroke-width="1.11"/>
<text x="1242.5" y="540.5" font-size="22.22" text-anchor="middle">6</text>
<line x1="1349.5" y1="513.5" x2="1349.5" y2="518.36" stroke="#000" stroke-width="1.11"/>
<text x="1349.5" y="540.5" font-size="22.22" text-anchor="middle">8</text>
<line x1="872.64" y1="475.5" x2="877.5" y2="475.5" stroke="#000" stroke-width="1.11"/>
<text x="867.78" y="484.8" font-size="22.22" text-anchor="end">0</text>
<line x1="872.64" y1="384.5" x2="877.5" y2="384.5" stroke="#000" stroke-width="1.11"/>
<text x="867.78" y="393.8" font-size="22.22" text-anchor="end">2</text>
<line x1="872.64" y1="293.5" x2="877.5" y2="293.5" stroke="#000" stroke-width="1.11"/>
<text x="867.78" y="302.8" font-size="22.22" text-anchor="end">4</text>
<line x1="872.64" y1="202.5" x2="877.5" y2="202.5" stroke="#000" stroke-width="1.11"/>
<text x="867.78" y="211.8" font-size="22.22" text-anchor="end">6</text>
<line x1="872.64" y1="110.5" x2="877.5" y2="110.5" stroke="#000" stroke-width="1.11"/>
<text x="867.78" y="119.8" font-size="22.22" text-anchor="end">8</text>
<text x="1157.5" y="27.9" font-size="22.22" text-anchor="middle">CTH (AMSL) Single-Layer-Water</text>
<text x="1157.5" y="569.8" font-size="22.22" text-anchor="middle">ACTRIS CTH [km]</text>
<linearGradient id="g140176185478976" x1="0" y1="0" x2="0" y2="1"><stop offset="0" stop-color="#fde725"/><stop offset="0.04" stop-color="#e5e419"/><stop offset="0.08" stop-color="#c8e020"/><stop offset="0.12" stop-color="#addc30"/><stop offset="0.17" stop-color="#90d743"/><stop offset="0.21" stop-color="#75d054"/><stop offset="0.25" stop-color="#5ec962"/><stop offset="0.29" stop-color="#48c16e"/><stop offset="0.33" stop-color="#35b779"/><stop offset="0.38" stop-color="#28ae80"/><stop offset="0.42" stop-color="#20a486"/><stop offset="0.46" stop-color="#1f9a8a"/><stop offset="0.5" stop-color="#21918c"/><stop offset="0.54" stop-color="#24868e"/><stop offset="0.58" stop-color="#287c8e"/><stop offset="0.62" stop-color="#2c728e"/><stop offset="0.67" stop-color="#31688e"/><stop offset="0.71" stop-color="#365d8d"/><stop offset="0.75" stop-color="#3b528b"/><stop offset="0.79" stop-color="#404688"/><stop offset="0.83" stop-color="#443983"/><stop offset="0.88" stop-color="#472d7b"/><stop offset="0.92" stop-color="#481f70"/><stop offset="0.96" stop-color="#471063"/><stop offset="1" stop-color="#440154"/></linearGradient>
<rect x="1472.5" y="36.5" width="23" height="477" fill="url(#g140176185478976)" stroke="#000" stroke-width="1.11"/>
<line x1="1495.5" y1="513.5" x2="1500.76" y2="513.5" stroke="#000" stroke-width="1.11"/>
<text x="1505.22" y="520.1" font-size="13.89" text-anchor="start">10<tspan dy="-5.3" font-size="9.72">0</tspan></text>
<line x1="1495.5" y1="85.5" x2="1500.76" y2="85.5" stroke="#000" stroke-width="1.11"/>
<text x="1505.22" y="92.1" font-size="13.89" text-anchor="start">10<tspan dy="-5.3" font-size="9.72">1</tspan></text>
<line x1="1495.5" y1="384.5" x2="1498.78" y2="384.5" stroke="#000" stroke-width="0.95"/>
<line x1="1495.5" y1="309.5" x2="1498.78" y2="309.5" stroke="#000" stroke-width="0.95"/>
<line x1="1495.5" y1="255.5" x2="1498.78" y2="255.5" stroke="#000" stroke-width="0.95"/>
<line x1="1495.5" y1="214.5" x2="1498.78" y2="214.5" stroke="#000" stroke-width="0.95"/>
<line x1="1495.5" y1="180.5" x2="1498.78" y2="180.5" stroke="#000" stroke-width="0.95"/>
<line x1="1495.5" y1="151.5" x2="1498.78" y2="151.5" stroke="#000" stroke-width="0.95"/>
<line x1="1495.5" y1="126.5" x2="1498.78" y2="126.5" stroke="#000" stroke-width="0.95"/>
<line x1="1495.5" y1="104.5" x2="1498.78" y2="104.5" stroke="#000" stroke-width="0.95"/>
<text x="1546.8" y="276.3" font-size="13.89" text-anchor="middle" transform="rotate(-90 1546.8 276.3)">Counts</text>
<g shape-rendering="crispEdges">
<rect x="2158.4" y="64.87" width="11.2" height="9.54" fill="#440154"/>
<rect x="2147.2" y="83.95" width="11.2" height="9.54" fill="#440154"/>
<rect x="2080" y="103.03" width="11.2" height="9.54" fill="#440154"/>
<rect x="2113.6" y="103.03" width="11.2" height="9.54" fill="#440154"/>
<rect x="2057.6" y="112.57" width="11.2" height="9.54" fill="#440154"/>
<rect x="2046.4" y="122.11" width="11.2" height="9.54" fill="#3f4788"/>
<rect x="2080" y="122.11" width="11.2" height="9.54" fill="#440154"/>
<rect x="2102.4" y="122.11" width="22.4" height="9.54" fill="#440154"/>
<rect x="1990.4" y="131.65" width="11.2" height="9.54" fill="#440154"/>
<rect x="2035.2" y="131.65" width="11.2" height="9.54" fill="#440154"/>
<rect x="2080" y="131.65" width="11.2" height="9.54" fill="#440154"/>
<rect x="2057.6" y="150.73" width="11.2" height="9.54" fill="#440154"/>
<rect x="2147.2" y="150.73" width="11.2" height="9.54" fill="#440154"/>
<rect x="2035.2" y="160.27" width="11.2" height="9.54" fill="#440154"/>
<rect x="1777.6" y="169.81" width="11.2" height="9.54" fill="#440154"/>
<rect x="1934.4" y="169.81" width="11.2" height="9.54" fill="#440154"/>
<rect x="1956.8" y="169.81" width="11.2" height="9.54" fill="#3f4788"/>
<rect x="1968" y="169.81" width="22.4" height="9.54" fill="#440154"/>
<rect x="2012.8" y="169.81" width="11.2" height="9.54" fill="#3f4788"/>
<rect x="2035.2" y="169.81" width="11.2" height="9.54" fill="#26ad81"/>
<rect x="2046.4" y="169.81" width="11.2" height="9.54" fill="#440154"/>
<rect x="2068.8" y="169.81" width="11.2" height="9.54" fill="#1f968b"/>
<rect x="2080" y="169.81" width="11.2" height="9.54" fill="#440154"/>
<rect x="1934.4" y="179.35" width="22.4" height="9.54" fill="#440154"/>
<rect x="1990.4" y="179.35" width="11.2" height="9.54" fill="#3f4788"/>
<rect x="2001.6" y="179.35" width="22.4" height="9.54" fill="#277f8e"/>
<rect x="2024" y="179.35" width="11.2" height="9.54" fill="#440154"/>
<rect x="2035.2" y="179.35" width="11.2" height="9.54" fill="#1f968b"/>
<rect x="2046.4" y="179.35" width="11.2" height="9.54" fill="#277f8e"/>
<rect x="2057.6" y="179.35" width="11.2" height="9.54" fill="#3f4788"/>
<rect x="2080" y="179.35" width="22.4" height="9.54" fill="#440154"/>
<rect x="1777.6" y="188.89" width="11.2" height="9.54" fill="#440154"/>
<rect x="1900.8" y="188.89" width="22.4" height="9.54" fill="#440154"/>
<rect x="1945.6" y="188.89" width="11.2" height="9.54" fill="#440154"/>
<rect x="1968" y="188.89" width="11.2" height="9.54" fill="#440154"/>
<rect x="1979.2" y="188.89" width="11.2" height="9.54" fill="#277f8e"/>
<rect x="2001.6" y="188.89" width="11.2" height="9.54" fill="#277f8e"/>
<rect x="2012.8" y="188.89" width="11.2" height="9.54" fill="#3f4788"/>
<rect x="2024" y="188.89" width="11.2" height="9.54" fill="#440154"/>
<rect x="2035.2" y="188.89" width="33.6" height="9.54" fill="#1f968b"/>
<rect x="2068.8" y="188.89" width="11.2" height="9.54" fill="#3f4788"/>
<rect x="2080" y="188.89" width="11.2" height="9.54" fill="#440154"/>
<rect x="1800" y="198.43" width="11.2" height="9.54" fill="#3f4788"/>
<rect x="1822.4" y="198.43" width="11.2" height="9.54" fill="#440154"/>
<rect x="1844.8" y="198.43" width="11.2" height="9.54" fill="#440154"/>
<rect x="1923.2" y="198.43" width="11.2" height="9.54" fill="#440154"/>
<rect x="1945.6" y="198.43" width="11.2" height="9.54" fill="#440154"/>
<rect x="1968" y="198.43" width="11.2" height="9.54" fill="#440154"/>
<rect x="1979.2" y="198.43" width="11.2" height="9.54" fill="#277f8e"/>
<rect x="1990.4" y="198.43" width="11.2" height="9.54" fill="#1f968b"/>
<rect x="2001.6" y="198.43" width="11.2" height="9.54" fill="#26ad81"/>
<rect x="2012.8" y="198.43" width="11.2" height="9.54" fill="#3f4788"/>
<rect x="2024" y="198.43" width="11.2" height="9.54" fill="#277f8e"/>
<rect x="2035.2" y="198.43" width="22.4" height="9.54" fill="#26ad81"/>
<rect x="2057.6" y="198.43" width="11.2" height="9.54" fill="#277f8e"/>
<rect x="2068.8" y="198.43" width="11.2" height="9.54" fill="#3f4788"/>
<rect x="1755.2" y="207.97" width="11.2" height="9.54" fill="#440154"/>
<rect x="1800" y="207.97" width="11.2" height="9.54" fill="#440154"/>
<rect x="1822.4" y="207.97" width="11.2" height="9.54" fill="#440154"/>
<rect x="1867.2" y="207.97" width="11.2" height="9.54" fill="#440154"/>
<rect x="1878.4" y="207.97" width="11.2" height="9.54" fill="#75d054"/>
<rect x="1889.6" y="207.97" width="11.2" height="9.54" fill="#3f4788"/>
<rect x="1900.8" y="207.97" width="11.2" height="9.54" fill="#440154"/>
<rect x="1912" y="207.97" width="11.2" height="9.54" fill="#3f4788"/>
<rect x="1934.4" y="207.97" width="22.4" height="9.54" fill="#440154"/>
<rect x="1956.8" y="207.97" width="11.2" height="9.54" fill="#3f4788"/>
<rect x="1968" y="207.97" width="22.4" height="9.54" fill="#277f8e"/>
<rect x="1990.4" y="207.97" width="11.2" height="9.54" fill="#26ad81"/>
<rect x="2001.6" y="207.97" width="11.2" height="9.54" fill="#1f968b"/>
<rect x="2012.8" y="207.97" width="11.2" height="9.54" fill="#48c16e"/>
<rect x="2024" y="207.97" width="11.2" height="9.54" fill="#75d054"/>
<rect x="2035.2" y="207.97" width="11.2" height="9.54" fill="#26ad81"/>
<rect x="2046.4" y="207.97" width="11.2" height="9.54" fill="#48c16e"/>
<rect x="2057.6" y="207.97" width="11.2" height="9.54" fill="#1f968b"/>
<rect x="2080" y="207.97" width="11.2" height="9.54" fill="#440154"/>
<rect x="1811.2" y="217.51" width="11.2" height="9.54" fill="#440154"/>
<rect x="1856" y="217.51" width="11.2" height="9.54" fill="#440154"/>
<rect x="1878.4" y="217.51" width="11.2" height="9.54" fill="#a8db34"/>
<rect x="1889.6" y="217.51" width="11.2" height="9.54" fill="#440154"/>
<rect x="1923.2" y="217.51" width="11.2" height="9.54" fill="#30698e"/>
<rect x="1934.4" y="217.51" width="22.4" height="9.54" fill="#3f4788"/>
<rect x="1968" y="217.51" width="11.2" height="9.54" fill="#440154"/>
<rect x="1979.2" y="217.51" width="11.2" height="9.54" fill="#26ad81"/>
<rect x="1990.4" y="217.51" width="22.4" height="9.54" fill="#48c16e"/>
<rect x="2012.8" y="217.51" width="11.2" height="9.54" fill="#fde725"/>
<rect x="2024" y="217.51" width="11.2" height="9.54" fill="#a8db34"/>
<rect x="2035.2" y="217.51" width="11.2" height="9.54" fill="#75d054"/>
<rect x="2046.4" y="217.51" width="22.4" height="9.54" fill="#1f968b"/>
<rect x="2068.8" y="217.51" width="11.2" height="9.54" fill="#440154"/>
<rect x="1744" y="227.05" width="11.2" height="9.54" fill="#440154"/>
<rect x="1766.4" y="227.05" width="11.2" height="9.54" fill="#440154"/>
<rect x="1811.2" y="227.05" width="11.2" height="9.54" fill="#440154"/>
<rect x="1844.8" y="227.05" width="33.6" height="9.54" fill="#440154"/>
<rect x="1878.4" y="227.05" width="11.2" height="9.54" fill="#48c16e"/>
<rect x="1889.6" y="227.05" width="11.2" height="9.54" fill="#440154"/>
<rect x="1900.8" y="227.05" width="33.6" height="9.54" fill="#3f4788"/>
<rect x="1934.4" y="227.05" width="11.2" height="9.54" fill="#277f8e"/>
<rect x="1956.8" y="227.05" width="11.2" height="9.54" fill="#440154"/>
<rect x="1968" y="227.05" width="11.2" height="9.54" fill="#1f968b"/>
<rect x="1979.2" y="227.05" width="11.2" height="9.54" fill="#26ad81"/>
<rect x="1990.4" y="227.05" width="22.4" height="9.54" fill="#48c16e"/>
<rect x="2012.8" y="227.05" width="11.2" height="9.54" fill="#a8db34"/>
<rect x="2024" y="227.05" width="22.4" height="9.54" fill="#d2e21b"/>
<rect x="2046.4" y="227.05" width="11.2" height="9.54" fill="#75d054"/>
<rect x="2057.6" y="227.05" width="11.2" height="9.54" fill="#3f4788"/>
<rect x="1811.2" y="236.59" width="11.2" height="9.54" fill="#440154"/>
<rect x="1856" y="236.59" width="11.2" height="9.54" fill="#440154"/>
<rect x="1867.2" y="236.59" width="11.2" height="9.54" fill="#3f4788"/>
<rect x="1878.4" y="236.59" width="11.2" height="9.54" fill="#277f8e"/>
<rect x="1889.6" y="236.59" width="11.2" height="9.54" fill="#440154"/>
<rect x="1900.8" y="236.59" width="11.2" height="9.54" fill="#3f4788"/>
<rect x="1912" y="236.59" width="22.4" height="9.54" fill="#440154"/>
<rect x="1934.4" y="236.59" width="11.2" height="9.54" fill="#3f4788"/>
<rect x="1945.6" y="236.59" width="11.2" height="9.54" fill="#440154"/>
<rect x="1956.8" y="236.59" width="11.2" height="9.54" fill="#26ad81"/>
<rect x="1968" y="236.59" width="22.4" height="9.54" fill="#48c16e"/>
<rect x="1990.4" y="236.59" width="11.2" height="9.54" fill="#75d054"/>
<rect x="2001.6" y="236.59" width="22.4" height="9.54" fill="#d2e21b"/>
<rect x="2024" y="236.59" width="11.2" height="9.54" fill="#a8db34"/>
<rect x="2035.2" y="236.59" width="11.2" height="9.54" fill="#75d054"/>
<rect x="2046.4" y="236.59" width="11.2" height="9.54" fill="#1f968b"/>
<rect x="2057.6" y="236.59" width="11.2" height="9.54" fill="#440154"/>
<rect x="1755.2" y="246.13" width="11.2" height="9.54" fill="#440154"/>
<rect x="1878.4" y="246.13" width="11.2" height="9.54" fill="#1f968b"/>
<rect x="1889.6" y="246.13" width="11.2" height="9.54" fill="#440154"/>
<rect x="1900.8" y="246.13" width="11.2" height="9.54" fill="#3f4788"/>
<rect x="1912" y="246.13" width="22.4" height="9.54" fill="#440154"/>
<rect x="1934.4" y="246.13" width="11.2" height="9.54" fill="#1f968b"/>
<rect x="1945.6" y="246.13" width="11.2" height="9.54" fill="#277f8e"/>
<rect x="1956.8" y="246.13" width="11.2" height="9.54" fill="#48c16e"/>
<rect x="1968" y="246.13" width="11.2" height="9.54" fill="#26ad81"/>
<rect x="1979.2" y="246.13" width="22.4" height="9.54" fill="#48c16e"/>
<rect x="2001.6" y="246.13" width="11.2" height="9.54" fill="#d2e21b"/>
<rect x="2012.8" y="246.13" width="22.4" height="9.54" fill="#a8db34"/>
<rect x="2035.2" y="246.13" width="11.2" height="9.54" fill="#277f8e"/>
<rect x="2046.4" y="246.13" width="11.2" height="9.54" fill="#3f4788"/>
<rect x="2057.6" y="246.13" width="11.2" height="9.54" fill="#440154"/>
<rect x="2080" y="246.13" width="11.2" height="9.54" fill="#440154"/>
<rect x="1732.8" y="255.67" width="22.4" height="9.54" fill="#440154"/>
<rect x="1766.4" y="255.67" width="11.2" height="9.54" fill="#440154"/>
<rect x="1788.8" y="255.67" width="22.4" height="9.54" fill="#440154"/>
<rect x="1822.4" y="255.67" width="22.4" height="9.54" fill="#440154"/>
<rect x="1844.8" y="255.67" width="11.2" height="9.54" fill="#3f4788"/>
<rect x="1878.4" y="255.67" width="33.6" height="9.54" fill="#440154"/>
<rect x="1912" y="255.67" width="11.2" height="9.54" fill="#1f968b"/>
<rect x="1923.2" y="255.67" width="11.2" height="9.54" fill="#30698e"/>
<rect x="1934.4" y="255.67" width="11.2" height="9.54" fill="#277f8e"/>
<rect x="1945.6" y="255.67" width="22.4" height="9.54" fill="#26ad81"/>
<rect x="1968" y="255.67" width="22.4" height="9.54" fill="#48c16e"/>
<rect x="1990.4" y="255.67" width="11.2" height="9.54" fill="#a8db34"/>
<rect x="2001.6" y="255.67" width="11.2" height="9.54" fill="#d2e21b"/>
<rect x="2012.8" y="255.67" width="11.2" height="9.54" fill="#fde725"/>
<rect x="2024" y="255.67" width="11.2" height="9.54" fill="#26ad81"/>
<rect x="2035.2" y="255.67" width="11.2" height="9.54" fill="#1f968b"/>
<rect x="2046.4" y="255.67" width="11.2" height="9.54" fill="#440154"/>
<rect x="2057.6" y="255.67" width="11.2" height="9.54" fill="#3f4788"/>
<rect x="2068.8" y="255.67" width="11.2" height="9.54" fill="#440154"/>
<rect x="1800" y="265.21" width="22.4" height="9.54" fill="#440154"/>
<rect x="1833.6" y="265.21" width="22.4" height="9.54" fill="#3f4788"/>
<rect x="1889.6" y="265.21" width="11.2" height="9.54" fill="#30698e"/>
<rect x="1900.8" y="265.21" width="11.2" height="9.54" fill="#440154"/>
<rect x="1912" y="265.21" width="22.4" height="9.54" fill="#3f4788"/>
<rect x="1934.4" y="265.21" width="11.2" height="9.54" fill="#277f8e"/>
<rect x="1945.6" y="265.21" width="11.2" height="9.54" fill="#1f968b"/>
<rect x="1956.8" y="265.21" width="11.2" height="9.54" fill="#48c16e"/>
<rect x="1968" y="265.21" width="11.2" height="9.54" fill="#a8db34"/>
<rect x="1979.2" y="265.21" width="11.2" height="9.54" fill="#fde725"/>
<rect x="1990.4" y="265.21" width="11.2" height="9.54" fill="#48c16e"/>
<rect x="2001.6" y="265.21" width="11.2" height="9.54" fill="#75d054"/>
<rect x="2012.8" y="265.21" width="11.2" height="9.54" fill="#26ad81"/>
<rect x="2024" y="265.21" width="11.2" height="9.54" fill="#30698e"/>
<rect x="2035.2" y="265.21" width="11.2" height="9.54" fill="#1f968b"/>
<rect x="2057.6" y="265.21" width="11.2" height="9.54" fill="#440154"/>
<rect x="1766.4" y="274.75" width="11.2" height="9.54" fill="#3f4788"/>
<rect x="1822.4" y="274.75" width="11.2" height="9.54" fill="#440154"/>
<rect x="1844.8" y="274.75" width="11.2" height="9.54" fill="#440154"/>
<rect x="1889.6" y="274.75" width="22.4" height="9.54" fill="#3f4788"/>
<rect x="1912" y="274.75" width="11.2" height="9.54" fill="#440154"/>
<rect x="1923.2" y="274.75" width="22.4" height="9.54" fill="#1f968b"/>
<rect x="1945.6" y="274.75" width="11.2" height="9.54" fill="#26ad81"/>
<rect x="1956.8" y="274.75" width="11.2" height="9.54" fill="#75d054"/>
<rect x="1968" y="274.75" width="11.2" height="9.54" fill="#a8db34"/>
<rect x="1979.2" y="274.75" width="11.2" height="9.54" fill="#d2e21b"/>
<rect x="1990.4" y="274.75" width="11.2" height="9.54" fill="#26ad81"/>
<rect x="2001.6" y="274.75" width="11.2" height="9.54" fill="#48c16e"/>
<rect x="2012.8" y="274.75" width="11.2" height="9.54" fill="#75d054"/>
<rect x="2024" y="274.75" width="22.4" height="9.54" fill="#3f4788"/>
<rect x="2046.4" y="274.75" width="11.2" height="9.54" fill="#440154"/>
<rect x="1800" y="284.29" width="11.2" height="9.54" fill="#440154"/>
<rect x="1822.4" y="284.29" width="22.4" height="9.54" fill="#440154"/>
<rect x="1844.8" y="284.29" width="11.2" height="9.54" fill="#3f4788"/>
<rect x="1867.2" y="284.29" width="11.2" height="9.54" fill="#440154"/>
<rect x="1878.4" y="284.29" width="11.2" height="9.54" fill="#3f4788"/>
<rect x="1889.6" y="284.29" width="11.2" height="9.54" fill="#440154"/>
<rect x="1900.8" y="284.29" width="22.4" height="9.54" fill="#26ad81"/>
<rect x="1923.2" y="284.29" width="22.4" height="9.54" fill="#75d054"/>
<rect x="1945.6" y="284.29" width="11.2" height="9.54" fill="#1f968b"/>
<rect x="1956.8" y="284.29" width="11.2" height="9.54" fill="#48c16e"/>
<rect x="1968" y="284.29" width="11.2" height="9.54" fill="#75d054"/>
<rect x="1979.2" y="284.29" width="22.4" height="9.54" fill="#48c16e"/>
<rect x="2001.6" y="284.29" width="11.2" height="9.54" fill="#26ad81"/>
<rect x="2012.8" y="284.29" width="11.2" height="9.54" fill="#30698e"/>
<rect x="2024" y="284.29" width="11.2" height="9.54" fill="#1f968b"/>
<rect x="2035.2" y="284.29" width="11.2" height="9.54" fill="#440154"/>
<rect x="2057.6" y="284.29" width="11.2" height="9.54" fill="#3f4788"/>
<rect x="1755.2" y="293.83" width="22.4" height="9.54" fill="#440154"/>
<rect x="1811.2" y="293.83" width="11.2" height="9.54" fill="#440154"/>
<rect x="1833.6" y="293.83" width="11.2" height="9.54" fill="#30698e"/>
<rect x="1856" y="293.83" width="11.2" height="9.54" fill="#440154"/>
<rect x="1867.2" y="293.83" width="11.2" height="9.54" fill="#3f4788"/>
<rect x="1878.4" y="293.83" width="11.2" height="9.54" fill="#440154"/>
<rect x="1889.6" y="293.83" width="11.2" height="9.54" fill="#1f968b"/>
<rect x="1900.8" y="293.83" width="11.2" height="9.54" fill="#277f8e"/>
<rect x="1923.2" y="293.83" width="11.2" height="9.54" fill="#26ad81"/>
<rect x="1934.4" y="293.83" width="22.4" height="9.54" fill="#48c16e"/>
<rect x="1956.8" y="293.83" width="11.2" height="9.54" fill="#a8db34"/>
<rect x="1968" y="293.83" width="11.2" height="9.54" fill="#48c16e"/>
<rect x="1979.2" y="293.83" width="11.2" height="9.54" fill="#1f968b"/>
<rect x="1990.4" y="293.83" width="11.2" height="9.54" fill="#277f8e"/>
<rect x="2001.6" y="293.83" width="11.2" height="9.54" fill="#1f968b"/>
<rect x="2012.8" y="293.83" width="11.2" height="9.54" fill="#3f4788"/>
<rect x="2046.4" y="293.83" width="11.2" height="9.54" fill="#3f4788"/>
<rect x="2057.6" y="293.83" width="11.2" height="9.54" fill="#440154"/>
<rect x="1833.6" y="303.37" width="11.2" height="9.54" fill="#440154"/>
<rect x="1856" y="303.37" width="11.2" height="9.54" fill="#3f4788"/>
<rect x="1878.4" y="303.37" width="11.2" height="9.54" fill="#30698e"/>
<rect x="1889.6" y="303.37" width="11.2" height="9.54" fill="#1f968b"/>
<rect x="1900.8" y="303.37" width="11.2" height="9.54" fill="#440154"/>
<rect x="1912" y="303.37" width="33.6" height="9.54" fill="#26ad81"/>
<rect x="1945.6" y="303.37" width="22.4" height="9.54" fill="#277f8e"/>
<rect x="1968" y="303.37" width="11.2" height="9.54" fill="#26ad81"/>
<rect x="1979.2" y="303.37" width="11.2" height="9.54" fill="#1f968b"/>
<rect x="1990.4" y="303.37" width="11.2" height="9.54" fill="#30698e"/>
<rect x="2001.6" y="303.37" width="22.4" height="9.54" fill="#3f4788"/>
<rect x="2024" y="303.37" width="11.2" height="9.54" fill="#440154"/>
<rect x="2035.2" y="303.37" width="11.2" height="9.54" fill="#3f4788"/>
<rect x="1755.2" y="312.91" width="11.2" height="9.54" fill="#3f4788"/>
<rect x="1811.2" y="312.91" width="11.2" height="9.54" fill="#440154"/>
<rect x="1844.8" y="312.91" width="22.4" height="9.54" fill="#440154"/>
<rect x="1878.4" y="312.91" width="11.2" height="9.54" fill="#30698e"/>
<rect x="1889.6" y="312.91" width="11.2" height="9.54" fill="#3f4788"/>
<rect x="1900.8" y="312.91" width="22.4" height="9.54" fill="#26ad81"/>
<rect x="1923.2" y="312.91" width="11.2" height="9.54" fill="#48c16e"/>
<rect x="1934.4" y="312.91" width="11.2" height="9.54" fill="#a8db34"/>
<rect x="1945.6" y="312.91" width="11.2" height="9.54" fill="#75d054"/>
<rect x="1956.8" y="312.91" width="11.2" height="9.54" fill="#26ad81"/>
<rect x="1968" y="312.91" width="11.2" height="9.54" fill="#1f968b"/>
<rect x="1979.2" y="312.91" width="11.2" height="9.54" fill="#3f4788"/>
<rect x="1990.4" y="312.91" width="11.2" height="9.54" fill="#26ad81"/>
<rect x="2012.8" y="312.91" width="11.2" height="9.54" fill="#440154"/>
<rect x="2024" y="312.91" width="11.2" height="9.54" fill="#3f4788"/>
<rect x="1721.6" y="322.45" width="11.2" height="9.54" fill="#440154"/>
<rect x="1732.8" y="322.45" width="11.2" height="9.54" fill="#3f4788"/>
<rect x="1755.2" y="322.45" width="11.2" height="9.54" fill="#440154"/>
<rect x="1766.4" y="322.45" width="11.2" height="9.54" fill="#3f4788"/>
<rect x="1788.8" y="322.45" width="11.2" height="9.54" fill="#440154"/>
<rect x="1811.2" y="322.45" width="22.4" height="9.54" fill="#440154"/>
<rect x="1833.6" y="322.45" width="11.2" height="9.54" fill="#3f4788"/>
<rect x="1856" y="322.45" width="11.2" height="9.54" fill="#277f8e"/>
<rect x="1867.2" y="322.45" width="11.2" height="9.54" fill="#3f4788"/>
<rect x="1878.4" y="322.45" width="11.2" height="9.54" fill="#48c16e"/>
<rect x="1889.6" y="322.45" width="11.2" height="9.54" fill="#26ad81"/>
<rect x="1900.8" y="322.45" width="11.2" height="9.54" fill="#48c16e"/>
<rect x="1912" y="322.45" width="11.2" height="9.54" fill="#26ad81"/>
<rect x="1923.2" y="322.45" width="11.2" height="9.54" fill="#1f968b"/>
<rect x="1934.4" y="322.45" width="11.2" height="9.54" fill="#48c16e"/>
<rect x="1945.6" y="322.45" width="11.2" height="9.54" fill="#277f8e"/>
<rect x="1956.8" y="322.45" width="11.2" height="9.54" fill="#3f4788"/>
<rect x="1968" y="322.45" width="11.2" height="9.54" fill="#26ad81"/>
<rect x="1979.2" y="322.45" width="11.2" height="9.54" fill="#1f968b"/>
<rect x="1990.4" y="322.45" width="11.2" height="9.54" fill="#440154"/>
<rect x="2024" y="322.45" width="11.2" height="9.54" fill="#440154"/>
<rect x="2046.4" y="322.45" width="33.6" height="9.54" fill="#440154"/>
<rect x="2091.2" y="322.45" width="11.2" height="9.54" fill="#440154"/>
<rect x="1755.2" y="331.99" width="11.2" height="9.54" fill="#3f4788"/>
<rect x="1788.8" y="331.99" width="22.4" height="9.54" fill="#440154"/>
<rect x="1822.4" y="331.99" width="22.4" height="9.54" fill="#440154"/>
<rect x="1844.8" y="331.99" width="44.8" height="9.54" fill="#30698e"/>
<rect x="1889.6" y="331.99" width="11.2" height="9.54" fill="#75d054"/>
<rect x="1900.8" y="331.99" width="11.2" height="9.54" fill="#a8db34"/>
<rect x="1912" y="331.99" width="11.2" height="9.54" fill="#277f8e"/>
<rect x="1923.2" y="331.99" width="11.2" height="9.54" fill="#48c16e"/>
<rect x="1934.4" y="331.99" width="11.2" height="9.54" fill="#26ad81"/>
<rect x="1945.6" y="331.99" width="11.2" height="9.54" fill="#277f8e"/>
<rect x="1956.8" y="331.99" width="11.2" height="9.54" fill="#440154"/>
<rect x="1968" y="331.99" width="11.2" height="9.54" fill="#1f968b"/>
<rect x="1979.2" y="331.99" width="11.2" height="9.54" fill="#440154"/>
<rect x="1990.4" y="331.99" width="11.2" height="9.54" fill="#3f4788"/>
<rect x="2001.6" y="331.99" width="11.2" height="9.54" fill="#30698e"/>
<rect x="2024" y="331.99" width="11.2" height="9.54" fill="#30698e"/>
<rect x="2046.4" y="331.99" width="11.2" height="9.54" fill="#440154"/>
<rect x="1788.8" y="341.53" width="11.2" height="9.54" fill="#3f4788"/>
<rect x="1800" y="341.53" width="11.2" height="9.54" fill="#440154"/>
<rect x="1811.2" y="341.53" width="11.2" height="9.54" fill="#3f4788"/>
<rect x="1822.4" y="341.53" width="11.2" height="9.54" fill="#440154"/>
<rect x="1833.6" y="341.53" width="11.2" height="9.54" fill="#3f4788"/>
<rect x="1844.8" y="341.53" width="11.2" height="9.54" fill="#440154"/>
<rect x="1856" y="341.53" width="33.6" height="9.54" fill="#30698e"/>
<rect x="1889.6" y="341.53" width="22.4" height="9.54" fill="#75d054"/>
<rect x="1912" y="341.53" width="22.4" height="9.54" fill="#1f968b"/>
<rect x="1934.4" y="341.53" width="11.2" height="9.54" fill="#30698e"/>
<rect x="1945.6" y="341.53" width="11.2" height="9.54" fill="#1f968b"/>
<rect x="1956.8" y="341.53" width="11.2" height="9.54" fill="#3f4788"/>
<rect x="1968" y="341.53" width="11.2" height="9.54" fill="#277f8e"/>
<rect x="1979.2" y="341.53" width="11.2" height="9.54" fill="#3f4788"/>
<rect x="1990.4" y="341.53" width="11.2" height="9.54" fill="#440154"/>
<rect x="2001.6" y="341.53" width="22.4" height="9.54" fill="#3f4788"/>
<rect x="2024" y="341.53" width="11.2" height="9.54" fill="#277f8e"/>
<rect x="2046.4" y="341.53" width="11.2" height="9.54" fill="#3f4788"/>
<rect x="1766.4" y="351.07" width="11.2" height="9.54" fill="#440154"/>
<rect x="1788.8" y="351.07" width="33.6" height="9.54" fill="#440154"/>
<rect x="1822.4" y="351.07" width="11.2" height="9.54" fill="#1f968b"/>
<rect x="1833.6" y="351.07" width="11.2" height="9.54" fill="#440154"/>
<rect x="1844.8" y="351.07" width="11.2" height="9.54" fill="#277f8e"/>
<rect x="1856" y="351.07" width="11.2" height="9.54" fill="#26ad81"/>
<rect x="1867.2" y="351.07" width="11.2" height="9.54" fill="#1f968b"/>
<rect x="1878.4" y="351.07" width="11.2" height="9.54" fill="#277f8e"/>
<rect x="1889.6" y="351.07" width="11.2" height="9.54" fill="#48c16e"/>
<rect x="1900.8" y="351.07" width="11.2" height="9.54" fill="#26ad81"/>
<rect x="1912" y="351.07" width="11.2" height="9.54" fill="#277f8e"/>
<rect x="1923.2" y="351.07" width="11.2" height="9.54" fill="#440154"/>
<rect x="1934.4" y="351.07" width="11.2" height="9.54" fill="#30698e"/>
<rect x="1945.6" y="351.07" width="44.8" height="9.54" fill="#3f4788"/>
<rect x="2001.6" y="351.07" width="22.4" height="9.54" fill="#440154"/>
<rect x="2024" y="351.07" width="11.2" height="9.54" fill="#3f4788"/>
<rect x="2046.4" y="351.07" width="11.2" height="9.54" fill="#440154"/>
<rect x="2080" y="351.07" width="11.2" height="9.54" fill="#440154"/>
<rect x="1755.2" y="360.61" width="22.4" height="9.54" fill="#440154"/>
<rect x="1788.8" y="360.61" width="11.2" height="9.54" fill="#3f4788"/>
<rect x="1800" y="360.61" width="11.2" height="9.54" fill="#440154"/>
<rect x="1811.2" y="360.61" width="11.2" height="9.54" fill="#3f4788"/>
<rect x="1822.4" y="360.61" width="22.4" height="9.54" fill="#1f968b"/>
<rect x="1844.8" y="360.61" width="11.2" height="9.54" fill="#26ad81"/>
<rect x="1856" y="360.61" width="11.2" height="9.54" fill="#1f968b"/>
<rect x="1867.2" y="360.61" width="11.2" height="9.54" fill="#30698e"/>
<rect x="1878.4" y="360.61" width="11.2" height="9.54" fill="#440154"/>
<rect x="1889.6" y="360.61" width="22.4" height="9.54" fill="#1f968b"/>
<rect x="1912" y="360.61" width="11.2" height="9.54" fill="#440154"/>
<rect x="1923.2" y="360.61" width="11.2" height="9.54" fill="#30698e"/>
<rect x="1934.4" y="360.61" width="11.2" height="9.54" fill="#3f4788"/>
<rect x="1945.6" y="360.61" width="11.2" height="9.54" fill="#277f8e"/>
<rect x="1956.8" y="360.61" width="11.2" height="9.54" fill="#3f4788"/>
<rect x="1968" y="360.61" width="22.4" height="9.54" fill="#440154"/>
<rect x="1990.4" y="360.61" width="11.2" height="9.54" fill="#30698e"/>
<rect x="2012.8" y="360.61" width="11.2" height="9.54" fill="#440154"/>
<rect x="2035.2" y="360.61" width="11.2" height="9.54" fill="#440154"/>
<rect x="2046.4" y="360.61" width="11.2" height="9.54" fill="#3f4788"/>
<rect x="2057.6" y="360.61" width="11.2" height="9.54" fill="#440154"/>
<rect x="1777.6" y="370.15" width="33.6" height="9.54" fill="#440154"/>
<rect x="1811.2" y="370.15" width="11.2" height="9.54" fill="#1f968b"/>
<rect x="1822.4" y="370.15" width="11.2" height="9.54" fill="#3f4788"/>
<rect x="1833.6" y="370.15" width="11.2" height="9.54" fill="#26ad81"/>
<rect x="1844.8" y="370.15" width="11.2" height="9.54" fill="#1f968b"/>
<rect x="1856" y="370.15" width="11.2" height="9.54" fill="#30698e"/>
<rect x="1867.2" y="370.15" width="11.2" height="9.54" fill="#277f8e"/>
<rect x="1878.4" y="370.15" width="11.2" height="9.54" fill="#440154"/>
<rect x="1889.6" y="370.15" width="22.4" height="9.54" fill="#30698e"/>
<rect x="1912" y="370.15" width="11.2" height="9.54" fill="#3f4788"/>
<rect x="1923.2" y="370.15" width="22.4" height="9.54" fill="#30698e"/>
<rect x="1945.6" y="370.15" width="11.2" height="9.54" fill="#3f4788"/>
<rect x="1968" y="370.15" width="11.2" height="9.54" fill="#440154"/>
<rect x="1979.2" y="370.15" width="33.6" height="9.54" fill="#3f4788"/>
<rect x="2035.2" y="370.15" width="11.2" height="9.54" fill="#440154"/>
<rect x="2046.4" y="370.15" width="11.2" height="9.54" fill="#30698e"/>
<rect x="2057.6" y="370.15" width="11.2" height="9.54" fill="#3f4788"/>
<rect x="2068.8" y="370.15" width="11.2" height="9.54" fill="#440154"/>
<rect x="1732.8" y="379.69" width="22.4" height="9.54" fill="#440154"/>
<rect x="1755.2" y="379.69" width="11.2" height="9.54" fill="#30698e"/>
<rect x="1766.4" y="379.69" width="11.2" height="9.54" fill="#3f4788"/>
<rect x="1777.6" y="379.69" width="11.2" height="9.54" fill="#440154"/>
<rect x="1800" y="379.69" width="11.2" height="9.54" fill="#277f8e"/>
<rect x="1811.2" y="379.69" width="11.2" height="9.54" fill="#1f968b"/>
<rect x="1822.4" y="379.69" width="11.2" height="9.54" fill="#30698e"/>
<rect x="1833.6" y="379.69" width="11.2" height="9.54" fill="#1f968b"/>
<rect x="1844.8" y="379.69" width="11.2" height="9.54" fill="#26ad81"/>
<rect x="1856" y="379.69" width="22.4" height="9.54" fill="#3f4788"/>
<rect x="1889.6" y="379.69" width="11.2" height="9.54" fill="#3f4788"/>
<rect x="1912" y="379.69" width="11.2" height="9.54" fill="#3f4788"/>
<rect x="1923.2" y="379.69" width="33.6" height="9.54" fill="#440154"/>
<rect x="1968" y="379.69" width="11.2" height="9.54" fill="#440154"/>
<rect x="1979.2" y="379.69" width="11.2" height="9.54" fill="#3f4788"/>
<rect x="1990.4" y="379.69" width="11.2" height="9.54" fill="#30698e"/>
<rect x="2001.6" y="379.69" width="22.4" height="9.54" fill="#440154"/>
<rect x="2024" y="379.69" width="11.2" height="9.54" fill="#3f4788"/>
<rect x="2035.2" y="379.69" width="22.4" height="9.54" fill="#440154"/>
<rect x="2068.8" y="379.69" width="11.2" height="9.54" fill="#440154"/>
<rect x="2091.2" y="379.69" width="11.2" height="9.54" fill="#3f4788"/>
<rect x="1721.6" y="389.23" width="11.2" height="9.54" fill="#440154"/>
<rect x="1732.8" y="389.23" width="11.2" height="9.54" fill="#3f4788"/>
<rect x="1744" y="389.23" width="11.2" height="9.54" fill="#440154"/>
<rect x="1766.4" y="389.23" width="22.4" height="9.54" fill="#440154"/>
<rect x="1788.8" y="389.23" width="11.2" height="9.54" fill="#277f8e"/>
<rect x="1800" y="389.23" width="11.2" height="9.54" fill="#26ad81"/>
<rect x="1811.2" y="389.23" width="11.2" height="9.54" fill="#1f968b"/>
<rect x="1822.4" y="389.23" width="11.2" height="9.54" fill="#48c16e"/>
<rect x="1833.6" y="389.23" width="11.2" height="9.54" fill="#277f8e"/>
<rect x="1844.8" y="389.23" width="11.2" height="9.54" fill="#26ad81"/>
<rect x="1856" y="389.23" width="11.2" height="9.54" fill="#30698e"/>
<rect x="1867.2" y="389.23" width="11.2" height="9.54" fill="#277f8e"/>
<rect x="1878.4" y="389.23" width="11.2" height="9.54" fill="#440154"/>
<rect x="1889.6" y="389.23" width="22.4" height="9.54" fill="#3f4788"/>
<rect x="1912" y="389.23" width="22.4" height="9.54" fill="#440154"/>
<rect x="1934.4" y="389.23" width="22.4" height="9.54" fill="#3f4788"/>
<rect x="1956.8" y="389.23" width="11.2" height="9.54" fill="#440154"/>
<rect x="1968" y="389.23" width="11.2" height="9.54" fill="#3f4788"/>
<rect x="1979.2" y="389.23" width="11.2" height="9.54" fill="#1f968b"/>
<rect x="1990.4" y="389.23" width="11.2" height="9.54" fill="#440154"/>
<rect x="2012.8" y="389.23" width="22.4" height="9.54" fill="#440154"/>
<rect x="2035.2" y="389.23" width="22.4" height="9.54" fill="#3f4788"/>
<rect x="2068.8" y="389.23" width="11.2" height="9.54" fill="#440154"/>
<rect x="1732.8" y="398.77" width="11.2" height="9.54" fill="#440154"/>
<rect x="1766.4" y="398.77" width="22.4" height="9.54" fill="#3f4788"/>
<rect x="1788.8" y="398.77" width="11.2" height="9.54" fill="#277f8e"/>
<rect x="1800" y="398.77" width="22.4" height="9.54" fill="#26ad81"/>
<rect x="1822.4" y="398.77" width="11.2" height="9.54" fill="#277f8e"/>
<rect x="1844.8" y="398.77" width="33.6" height="9.54" fill="#3f4788"/>
<rect x="1889.6" y="398.77" width="11.2" height="9.54" fill="#440154"/>
<rect x="1900.8" y="398.77" width="11.2" height="9.54" fill="#3f4788"/>
<rect x="1912" y="398.77" width="22.4" height="9.54" fill="#440154"/>
<rect x="1945.6" y="398.77" width="11.2" height="9.54" fill="#30698e"/>
<rect x="1979.2" y="398.77" width="11.2" height="9.54" fill="#440154"/>
<rect x="1990.4" y="398.77" width="11.2" height="9.54" fill="#3f4788"/>
<rect x="2012.8" y="398.77" width="44.8" height="9.54" fill="#440154"/>
<rect x="1744" y="408.31" width="11.2" height="9.54" fill="#440154"/>
<rect x="1755.2" y="408.31" width="11.2" height="9.54" fill="#277f8e"/>
<rect x="1766.4" y="408.31" width="11.2" height="9.54" fill="#440154"/>
<rect x="1777.6" y="408.31" width="11.2" height="9.54" fill="#3f4788"/>
<rect x="1788.8" y="408.31" width="22.4" height="9.54" fill="#30698e"/>
<rect x="1811.2" y="408.31" width="11.2" height="9.54" fill="#3f4788"/>
<rect x="1822.4" y="408.31" width="11.2" height="9.54" fill="#30698e"/>
<rect x="1856" y="408.31" width="22.4" height="9.54" fill="#440154"/>
<rect x="1889.6" y="408.31" width="11.2" height="9.54" fill="#440154"/>
<rect x="1912" y="408.31" width="22.4" height="9.54" fill="#440154"/>
<rect x="1968" y="408.31" width="11.2" height="9.54" fill="#440154"/>
<rect x="1979.2" y="408.31" width="11.2" height="9.54" fill="#3f4788"/>
<rect x="1990.4" y="408.31" width="11.2" height="9.54" fill="#440154"/>
<rect x="2012.8" y="408.31" width="11.2" height="9.54" fill="#3f4788"/>
<rect x="2024" y="408.31" width="11.2" height="9.54" fill="#440154"/>
<rect x="1710.4" y="417.85" width="22.4" height="9.54" fill="#440154"/>
<rect x="1755.2" y="417.85" width="11.2" height="9.54" fill="#277f8e"/>
<rect x="1788.8" y="417.85" width="11.2" height="9.54" fill="#277f8e"/>
<rect x="1811.2" y="417.85" width="11.2" height="9.54" fill="#30698e"/>
<rect x="1822.4" y="417.85" width="33.6" height="9.54" fill="#440154"/>
<rect x="1867.2" y="417.85" width="11.2" height="9.54" fill="#440154"/>
<rect x="1878.4" y="417.85" width="11.2" height="9.54" fill="#3f4788"/>
<rect x="1945.6" y="417.85" width="11.2" height="9.54" fill="#440154"/>
<rect x="1968" y="417.85" width="11.2" height="9.54" fill="#30698e"/>
<rect x="2035.2" y="417.85" width="11.2" height="9.54" fill="#440154"/>
<rect x="1732.8" y="427.39" width="11.2" height="9.54" fill="#440154"/>
<rect x="1744" y="427.39" width="22.4" height="9.54" fill="#1f968b"/>
<rect x="1766.4" y="427.39" width="22.4" height="9.54" fill="#30698e"/>
<rect x="1788.8" y="427.39" width="22.4" height="9.54" fill="#440154"/>
<rect x="1811.2" y="427.39" width="11.2" height="9.54" fill="#3f4788"/>
<rect x="1833.6" y="427.39" width="11.2" height="9.54" fill="#30698e"/>
<rect x="1844.8" y="427.39" width="11.2" height="9.54" fill="#440154"/>
<rect x="1856" y="427.39" width="11.2" height="9.54" fill="#3f4788"/>
<rect x="1867.2" y="427.39" width="22.4" height="9.54" fill="#440154"/>
<rect x="1889.6" y="427.39" width="11.2" height="9.54" fill="#30698e"/>
<rect x="1956.8" y="427.39" width="22.4" height="9.54" fill="#440154"/>
<rect x="2001.6" y="427.39" width="11.2" height="9.54" fill="#440154"/>
<rect x="1721.6" y="436.93" width="11.2" height="9.54" fill="#3f4788"/>
<rect x="1744" y="436.93" width="11.2" height="9.54" fill="#3f4788"/>
<rect x="1755.2" y="436.93" width="22.4" height="9.54" fill="#440154"/>
<rect x="1788.8" y="436.93" width="11.2" height="9.54" fill="#440154"/>
<rect x="1800" y="436.93" width="11.2" height="9.54" fill="#3f4788"/>
<rect x="1811.2" y="436.93" width="11.2" height="9.54" fill="#440154"/>
<rect x="1844.8" y="436.93" width="11.2" height="9.54" fill="#3f4788"/>
<rect x="1856" y="436.93" width="11.2" height="9.54" fill="#440154"/>
<rect x="1721.6" y="446.47" width="11.2" height="9.54" fill="#440154"/>
<rect x="1732.8" y="446.47" width="11.2" height="9.54" fill="#277f8e"/>
<rect x="1744" y="446.47" width="11.2" height="9.54" fill="#440154"/>
<rect x="1755.2" y="446.47" width="11.2" height="9.54" fill="#3f4788"/>
<rect x="1766.4" y="446.47" width="11.2" height="9.54" fill="#30698e"/>
<rect x="1800" y="446.47" width="11.2" height="9.54" fill="#440154"/>
<rect x="1844.8" y="446.47" width="11.2" height="9.54" fill="#440154"/>
<rect x="1721.6" y="456.01" width="11.2" height="9.54" fill="#3f4788"/>
<rect x="1732.8" y="456.01" width="22.4" height="9.54" fill="#440154"/>
<rect x="1777.6" y="456.01" width="11.2" height="9.54" fill="#440154"/>
<rect x="1923.2" y="456.01" width="11.2" height="9.54" fill="#440154"/>
<rect x="1732.8" y="465.55" width="11.2" height="9.54" fill="#440154"/>
<rect x="1800" y="465.55" width="11.2" height="9.54" fill="#440154"/>
<rect x="1844.8" y="465.55" width="11.2" height="9.54" fill="#440154"/>
</g>
<clipPath id="c1677"><rect x="1677.5" y="36.5" width="560" height="477"/></clipPath>
<g clip-path="url(#c1677)">
<line x1="1677.5" y1="441.93" x2="2237.5" y2="138.25" stroke="#000" stroke-width="2.08"/>
<line x1="1677.5" y1="513.38" x2="2237.5" y2="36.2" stroke="#000" stroke-width="2.08" stroke-dasharray="7.71 3.33"/>
</g>
<rect x="1696.1" y="43" width="305.77" height="44.4" fill="#fff" fill-opacity="0.5"/>
<text x="1704.4" y="72.7" font-size="27.78" text-anchor="start">Fit: y = 0.64x + 2.75</text>
<rect x="1677.5" y="36.5" width="560" height="477" fill="none" stroke="#000" stroke-width="1.11"/>
<line x1="1685.5" y1="513.5" x2="1685.5" y2="518.36" stroke="#000" stroke-width="1.11"/>
<text x="1685.5" y="540.5" font-size="22.22" text-anchor="middle">2</text>
<line x1="1764.5" y1="513.5" x2="1764.5" y2="518.36" stroke="#000" stroke-width="1.11"/>
<text x="1764.5" y="540.5" font-size="22.22" text-anchor="middle">4</text>
<line x1="1843.5" y1="513.5" x2="1843.5" y2="518.36" stroke="#000" stroke-width="1.11"/>
<text x="1843.5" y="540.5" font-size="22.22" text-anchor="middle">6</text>
<line x1="1922.5" y1="513.5" x2="1922.5" y2="518.36" stroke="#000" stroke-width="1.11"/>
<text x="1922.5" y="540.5" font-size="22.22" text-anchor="middle">8</text>
<line x1="2000.5" y1="513.5" x2="2000.5" y2="518.36" stroke="#000" stroke-width="1.11"/>
<text x="2000.5" y="540.5" font-size="22.22" text-anchor="middle">10</text>
<line x1="2079.5" y1="513.5" x2="2079.5" y2="518.36" stroke="#000" stroke-width="1.11"/>
<text x="2079.5" y="540.5" font-size="22.22" text-anchor="middle">12</text>
<line x1="2158.5" y1="513.5" x2="2158.5" y2="518.36" stroke="#000" stroke-width="1.11"/>
<text x="2158.5" y="540.5" font-size="22.22" text-anchor="middle">14</text>
<line x1="1672.64" y1="506.5" x2="1677.5" y2="506.5" stroke="#000" stroke-width="1.11"/>
<text x="1667.78" y="515.8" font-size="22.22" text-anchor="end">2</text>
<line x1="1672.64" y1="439.5" x2="1677.5" y2="439.5" stroke="#000" stroke-width="1.11"/>
<text x="1667.78" y="448.8" font-size="22.22" text-anchor="end">4</text>
<line x1="1672.64" y1="372.5" x2="1677.5" y2="372.5" stroke="#000" stroke-width="1.11"/>
<text x="1667.78" y="381.8" font-size="22.22" text-anchor="end">6</text>
<line x1="1672.64" y1="305.5" x2="1677.5" y2="305.5" stroke="#000" stroke-width="1.11"/>
<text x="1667.78" y="314.8" font-size="22.22" text-anchor="end">8</text>
<line x1="1672.64" y1="237.5" x2="1677.5" y2="237.5" stroke="#000" stroke-width="1.11"/>
<text x="1667.78" y="246.8" font-size="22.22" text-anchor="end">10</text>
<line x1="1672.64" y1="170.5" x2="1677.5" y2="170.5" stroke="#000" stroke-width="1.11"/>
<text x="1667.78" y="179.8" font-size="22.22" text-anchor="end">12</text>
<line x1="1672.64" y1="103.5" x2="1677.5" y2="103.5" stroke="#000" stroke-width="1.11"/>
<text x="1667.78" y="112.8" font-size="22.22" text-anchor="end">14</text>
<text x="1957.5" y="27.9" font-size="22.22" text-anchor="middle">CTH (AMSL) Single-Layer-Ice</text>
<text x="1957.5" y="569.8" font-size="22.22" text-anchor="middle">ACTRIS CTH [km]</text>
<linearGradient id="g140176185479168" x1="0" y1="0" x2="0" y2="1"><stop offset="0" stop-color="#fde725"/><stop offset="0.04" stop-color="#e5e419"/><stop offset="0.08" stop-color="#c8e020"/><stop offset="0.12" stop-color="#addc30"/><stop offset="0.17" stop-color="#90d743"/><stop offset="0.21" stop-color="#75d054"/><stop offset="0.25" stop-color="#5ec962"/><stop offset="0.29" stop-color="#48c16e"/><stop offset="0.33" stop-color="#35b779"/><stop offset="0.38" stop-color="#28ae80"/><stop offset="0.42" stop-color="#20a486"/><stop offset="0.46" stop-color="#1f9a8a"/><stop offset="0.5" stop-color="#21918c"/><stop offset="0.54" stop-color="#24868e"/><stop offset="0.58" stop-color="#287c8e"/><stop offset="0.62" stop-color="#2c728e"/><stop offset="0.67" stop-color="#31688e"/><stop offset="0.71" stop-color="#365d8d"/><stop offset="0.75" stop-color="#3b528b"/><stop offset="0.79" stop-color="#404688"/><stop offset="0.83" stop-color="#443983"/><stop offset="0.88" stop-color="#472d7b"/><stop offset="0.92" stop-color="#481f70"/><stop offset="0.96" stop-color="#471063"/><stop offset="1" stop-color="#440154"/></linearGradient>
<rect x="2272.5" y="36.5" width="24" height="477" fill="url(#g140176185479168)" stroke="#000" stroke-width="1.11"/>
<line x1="2296.5" y1="513.5" x2="2301.76" y2="513.5" stroke="#000" stroke-width="1.11"/>
<text x="2306.22" y="520.1" font-size="13.89" text-anchor="start">10<tspan dy="-5.3" font-size="9.72">0</tspan></text>
<line x1="2296.5" y1="174.5" x2="2301.76" y2="174.5" stroke="#000" stroke-width="1.11"/>
<text x="2306.22" y="181.1" font-size="13.89" text-anchor="start">10<tspan dy="-5.3" font-size="9.72">1</tspan></text>
<line x1="2296.5" y1="411.5" x2="2299.78" y2="411.5" stroke="#000" stroke-width="0.95"/>
<line x1="2296.5" y1="351.5" x2="2299.78" y2="351.5" stroke="#000" stroke-width="0.95"/>
<line x1="2296.5" y1="309.5" x2="2299.78" y2="309.5" stroke="#000" stroke-width="0.95"/>
<line x1="2296.5" y1="276.5" x2="2299.78" y2="276.5" stroke="#000" stroke-width="0.95"/>
<line x1="2296.5" y1="249.5" x2="2299.78" y2="249.5" stroke="#000" stroke-width="0.95"/>
<line x1="2296.5" y1="226.5" x2="2299.78" y2="226.5" stroke="#000" stroke-width="0.95"/>
<line x1="2296.5" y1="207.5" x2="2299.78" y2="207.5" stroke="#000" stroke-width="0.95"/>
<line x1="2296.5" y1="189.5" x2="2299.78" y2="189.5" stroke="#000" stroke-width="0.95"/>
<line x1="2296.5" y1="72.5" x2="2299.78" y2="72.5" stroke="#000" stroke-width="0.95"/>
<text x="2346.8" y="276.3" font-size="13.89" text-anchor="middle" transform="rotate(-90 2346.8 276.3)">Counts</text>
<g shape-rendering="crispEdges">
<rect x="2772.6" y="131.65" width="11.2" height="9.54" fill="#440154"/>
<rect x="2582.2" y="141.19" width="11.2" height="9.54" fill="#440154"/>
<rect x="2638.2" y="141.19" width="11.2" height="9.54" fill="#440154"/>
<rect x="2683" y="150.73" width="11.2" height="9.54" fill="#440154"/>
<rect x="2750.2" y="160.27" width="22.4" height="9.54" fill="#440154"/>
<rect x="2582.2" y="169.81" width="11.2" height="9.54" fill="#440154"/>
<rect x="2671.8" y="188.89" width="11.2" height="9.54" fill="#fde725"/>
<rect x="2750.2" y="198.43" width="11.2" height="9.54" fill="#440154"/>
<rect x="2772.6" y="198.43" width="11.2" height="9.54" fill="#440154"/>
<rect x="2649.4" y="207.97" width="11.2" height="9.54" fill="#440154"/>
<rect x="2739" y="207.97" width="11.2" height="9.54" fill="#440154"/>
<rect x="2559.8" y="217.51" width="22.4" height="9.54" fill="#440154"/>
<rect x="2727.8" y="217.51" width="11.2" height="9.54" fill="#440154"/>
<rect x="2571" y="227.05" width="22.4" height="9.54" fill="#440154"/>
<rect x="2716.6" y="236.59" width="11.2" height="9.54" fill="#440154"/>
<rect x="2582.2" y="246.13" width="11.2" height="9.54" fill="#440154"/>
<rect x="2627" y="246.13" width="22.4" height="9.54" fill="#440154"/>
<rect x="2559.8" y="255.67" width="11.2" height="9.54" fill="#440154"/>
<rect x="2582.2" y="255.67" width="22.4" height="9.54" fill="#440154"/>
<rect x="2526.2" y="284.29" width="22.4" height="9.54" fill="#440154"/>
<rect x="2649.4" y="284.29" width="11.2" height="9.54" fill="#440154"/>
<rect x="2548.6" y="303.37" width="11.2" height="9.54" fill="#fde725"/>
<rect x="2582.2" y="303.37" width="11.2" height="9.54" fill="#440154"/>
<rect x="2951.8" y="312.91" width="11.2" height="9.54" fill="#440154"/>
<rect x="2559.8" y="322.45" width="33.6" height="9.54" fill="#440154"/>
<rect x="2660.6" y="322.45" width="11.2" height="9.54" fill="#440154"/>
<rect x="2559.8" y="331.99" width="11.2" height="9.54" fill="#440154"/>
<rect x="2593.4" y="331.99" width="11.2" height="9.54" fill="#440154"/>
<rect x="2627" y="331.99" width="22.4" height="9.54" fill="#440154"/>
<rect x="2582.2" y="341.53" width="11.2" height="9.54" fill="#440154"/>
<rect x="2537.4" y="351.07" width="11.2" height="9.54" fill="#440154"/>
<rect x="2783.8" y="351.07" width="11.2" height="9.54" fill="#440154"/>
<rect x="2593.4" y="360.61" width="11.2" height="9.54" fill="#440154"/>
<rect x="2615.8" y="360.61" width="11.2" height="9.54" fill="#440154"/>
<rect x="2615.8" y="370.15" width="11.2" height="9.54" fill="#440154"/>
<rect x="2660.6" y="370.15" width="11.2" height="9.54" fill="#440154"/>
<rect x="2526.2" y="379.69" width="11.2" height="9.54" fill="#440154"/>
<rect x="2571" y="379.69" width="11.2" height="9.54" fill="#440154"/>
<rect x="2604.6" y="379.69" width="11.2" height="9.54" fill="#440154"/>
<rect x="2750.2" y="379.69" width="11.2" height="9.54" fill="#440154"/>
<rect x="2559.8" y="389.23" width="11.2" height="9.54" fill="#440154"/>
<rect x="2649.4" y="389.23" width="11.2" height="9.54" fill="#440154"/>
<rect x="2761.4" y="389.23" width="11.2" height="9.54" fill="#440154"/>
<rect x="2806.2" y="389.23" width="11.2" height="9.54" fill="#440154"/>
<rect x="2537.4" y="398.77" width="11.2" height="9.54" fill="#440154"/>
<rect x="2537.4" y="408.31" width="11.2" height="9.54" fill="#440154"/>
<rect x="2750.2" y="408.31" width="11.2" height="9.54" fill="#440154"/>
<rect x="2537.4" y="417.85" width="22.4" height="9.54" fill="#440154"/>
<rect x="2615.8" y="417.85" width="22.4" height="9.54" fill="#440154"/>
<rect x="2559.8" y="427.39" width="11.2" height="9.54" fill="#440154"/>
<rect x="2548.6" y="436.93" width="22.4" height="9.54" fill="#440154"/>
<rect x="2593.4" y="436.93" width="11.2" height="9.54" fill="#440154"/>
<rect x="2537.4" y="446.47" width="11.2" height="9.54" fill="#440154"/>
<rect x="2593.4" y="446.47" width="11.2" height="9.54" fill="#440154"/>
<rect x="2571" y="456.01" width="11.2" height="9.54" fill="#440154"/>
<rect x="2604.6" y="456.01" width="11.2" height="9.54" fill="#440154"/>
<rect x="2638.2" y="456.01" width="11.2" height="9.54" fill="#440154"/>
<rect x="2783.8" y="456.01" width="11.2" height="9.54" fill="#440154"/>
<rect x="2593.4" y="465.55" width="11.2" height="9.54" fill="#440154"/>
</g>
<clipPath id="c2448"><rect x="2448.5" y="36.5" width="560" height="477"/></clipPath>
<g clip-path="url(#c2448)">
<line x1="2448.5" y1="371.1" x2="3008.5" y2="221.36" stroke="#000" stroke-width="2.08"/>
<line x1="2448.5" y1="513.45" x2="3008.5" y2="36.28" stroke="#000" stroke-width="2.08" stroke-dasharray="7.71 3.33"/>
</g>
<rect x="2467.1" y="43" width="305.77" height="44.4" fill="#fff" fill-opacity="0.5"/>
<text x="2475.4" y="72.7" font-size="27.78" text-anchor="start">Fit: y = 0.31x + 2.39</text>
<rect x="2448.5" y="36.5" width="560" height="477" fill="none" stroke="#000" stroke-width="1.11"/>
<line x1="2497.5" y1="513.5" x2="2497.5" y2="518.36" stroke="#000" stroke-width="1.11"/>
<text x="2497.5" y="540.5" font-size="22.22" text-anchor="middle">0</text>
<line x1="2608.5" y1="513.5" x2="2608.5" y2="518.36" stroke="#000" stroke-width="1.11"/>
<text x="2608.5" y="540.5" font-size="22.22" text-anchor="middle">2</text>
<line x1="2720.5" y1="513.5" x2="2720.5" y2="518.36" stroke="#000" stroke-width="1.11"/>
<text x="2720.5" y="540.5" font-size="22.22" text-anchor="middle">4</text>
<line x1="2832.5" y1="513.5" x2="2832.5" y2="518.36" stroke="#000" stroke-width="1.11"/>
<text x="2832.5" y="540.5" font-size="22.22" text-anchor="middle">6</text>
<line x1="2943.5" y1="513.5" x2="2943.5" y2="518.36" stroke="#000" stroke-width="1.11"/>
<text x="2943.5" y="540.5" font-size="22.22" text-anchor="middle">8</text>
<line x1="2443.64" y1="471.5" x2="2448.5" y2="471.5" stroke="#000" stroke-width="1.11"/>
<text x="2438.78" y="480.8" font-size="22.22" text-anchor="end">0</text>
<line x1="2443.64" y1="376.5" x2="2448.5" y2="376.5" stroke="#000" stroke-width="1.11"/>
<text x="2438.78" y="385.8" font-size="22.22" text-anchor="end">2</text>
<line x1="2443.64" y1="281.5" x2="2448.5" y2="281.5" stroke="#000" stroke-width="1.11"/>
<text x="2438.78" y="290.8" font-size="22.22" text-anchor="end">4</text>
<line x1="2443.64" y1="186.5" x2="2448.5" y2="186.5" stroke="#000" stroke-width="1.11"/>
<text x="2438.78" y="195.8" font-size="22.22" text-anchor="end">6</text>
<line x1="2443.64" y1="91.5" x2="2448.5" y2="91.5" stroke="#000" stroke-width="1.11"/>
<text x="2438.78" y="100.8" font-size="22.22" text-anchor="end">8</text>
<text x="2728.5" y="27.9" font-size="22.22" text-anchor="middle">CTH (AMSL) 2-Layers/Bottom-Water</text>
<text x="2728.5" y="569.8" font-size="22.22" text-anchor="middle">ACTRIS CTH [km]</text>
<linearGradient id="g140176185479232" x1="0" y1="0" x2="0" y2="1"><stop offset="0" stop-color="#fde725"/><stop offset="0.04" stop-color="#e5e419"/><stop offset="0.08" stop-color="#c8e020"/><stop offset="0.12" stop-color="#addc30"/><stop offset="0.17" stop-color="#90d743"/><stop offset="0.21" stop-color="#75d054"/><stop offset="0.25" stop-color="#5ec962"/><stop offset="0.29" stop-color="#48c16e"/><stop offset="0.33" stop-color="#35b779"/><stop offset="0.38" stop-color="#28ae80"/><stop offset="0.42" stop-color="#20a486"/><stop offset="0.46" stop-color="#1f9a8a"/><stop offset="0.5" stop-color="#21918c"/><stop offset="0.54" stop-color="#24868e"/><stop offset="0.58" stop-color="#287c8e"/><stop offset="0.62" stop-color="#2c728e"/><stop offset="0.67" stop-color="#31688e"/><stop offset="0.71" stop-color="#365d8d"/><stop offset="0.75" stop-color="#3b528b"/><stop offset="0.79" stop-color="#404688"/><stop offset="0.83" stop-color="#443983"/><stop offset="0.88" stop-color="#472d7b"/><stop offset="0.92" stop-color="#481f70"/><stop offset="0.96" stop-color="#471063"/><stop offset="1" stop-color="#440154"/></linearGradient>
<rect x="3043.5" y="36.5" width="24" height="477" fill="url(#g140176185479232)" stroke="#000" stroke-width="1.11"/>
<line x1="3067.5" y1="513.5" x2="3072.76" y2="513.5" stroke="#000" stroke-width="1.11"/>
<text x="3077.22" y="520.1" font-size="13.89" text-anchor="start">10<tspan dy="-5.3" font-size="9.72">0</tspan></text>
<line x1="3067.5" y1="36.5" x2="3070.78" y2="36.5" stroke="#000" stroke-width="0.95"/>
<text x="3077.22" y="43.1" font-size="13.89" text-anchor="start">2<tspan dx="2.5" >×</tspan><tspan dx="2.5">10</tspan><tspan dy="-5.3" font-size="9.72">0</tspan></text>
<line x1="3067.5" y1="388.5" x2="3070.78" y2="388.5" stroke="#000" stroke-width="0.95"/>
<text x="3077.22" y="395.1" font-size="13.89" text-anchor="start">1.2<tspan dx="2.5" >×</tspan><tspan dx="2.5">10</tspan><tspan dy="-5.3" font-size="9.72">0</tspan></text>
<line x1="3067.5" y1="281.5" x2="3070.78" y2="281.5" stroke="#000" stroke-width="0.95"/>
<text x="3077.22" y="288.1" font-size="13.89" text-anchor="start">1.4<tspan dx="2.5" >×</tspan><tspan dx="2.5">10</tspan><tspan dy="-5.3" font-size="9.72">0</tspan></text>
<line x1="3067.5" y1="190.5" x2="3070.78" y2="190.5" stroke="#000" stroke-width="0.95"/>
<text x="3077.22" y="197.1" font-size="13.89" text-anchor="start">1.6<tspan dx="2.5" >×</tspan><tspan dx="2.5">10</tspan><tspan dy="-5.3" font-size="9.72">0</tspan></text>
<line x1="3067.5" y1="108.5" x2="3070.78" y2="108.5" stroke="#000" stroke-width="0.95"/>
<text x="3077.22" y="115.1" font-size="13.89" text-anchor="start">1.8<tspan dx="2.5" >×</tspan><tspan dx="2.5">10</tspan><tspan dy="-5.3" font-size="9.72">0</tspan></text>
<text x="3154.8" y="276.3" font-size="13.89" text-anchor="middle" transform="rotate(-90 3154.8 276.3)">Counts</text>
<g shape-rendering="crispEdges">
<rect x="3561.2" y="74.41" width="11.2" height="9.54" fill="#440154"/>
<rect x="3706.8" y="93.49" width="11.2" height="9.54" fill="#440154"/>
<rect x="3762.8" y="93.49" width="11.2" height="9.54" fill="#440154"/>
<rect x="3662" y="103.03" width="11.2" height="9.54" fill="#440154"/>
<rect x="3684.4" y="103.03" width="11.2" height="9.54" fill="#440154"/>
<rect x="3606" y="112.57" width="11.2" height="9.54" fill="#440154"/>
<rect x="3639.6" y="112.57" width="11.2" height="9.54" fill="#440154"/>
<rect x="3650.8" y="112.57" width="11.2" height="9.54" fill="#26828e"/>
<rect x="3662" y="112.57" width="11.2" height="9.54" fill="#3e4989"/>
<rect x="3673.2" y="112.57" width="11.2" height="9.54" fill="#2f6c8e"/>
<rect x="3695.6" y="112.57" width="11.2" height="9.54" fill="#3fbc73"/>
<rect x="3706.8" y="112.57" width="11.2" height="9.54" fill="#3e4989"/>
<rect x="3718" y="112.57" width="44.8" height="9.54" fill="#440154"/>
<rect x="3628.4" y="122.11" width="11.2" height="9.54" fill="#3e4989"/>
<rect x="3662" y="122.11" width="11.2" height="9.54" fill="#3e4989"/>
<rect x="3684.4" y="122.11" width="11.2" height="9.54" fill="#440154"/>
<rect x="3695.6" y="122.11" width="11.2" height="9.54" fill="#20928c"/>
<rect x="3706.8" y="122.11" width="11.2" height="9.54" fill="#440154"/>
<rect x="3718" y="122.11" width="11.2" height="9.54" fill="#3e4989"/>
<rect x="3762.8" y="122.11" width="11.2" height="9.54" fill="#440154"/>
<rect x="3639.6" y="131.65" width="11.2" height="9.54" fill="#440154"/>
<rect x="3650.8" y="131.65" width="11.2" height="9.54" fill="#2f6c8e"/>
<rect x="3662" y="131.65" width="11.2" height="9.54" fill="#440154"/>
<rect x="3673.2" y="131.65" width="11.2" height="9.54" fill="#2f6c8e"/>
<rect x="3684.4" y="131.65" width="11.2" height="9.54" fill="#3e4989"/>
<rect x="3695.6" y="131.65" width="11.2" height="9.54" fill="#20928c"/>
<rect x="3706.8" y="131.65" width="11.2" height="9.54" fill="#2f6c8e"/>
<rect x="3740.4" y="131.65" width="11.2" height="9.54" fill="#2f6c8e"/>
<rect x="3426.8" y="141.19" width="11.2" height="9.54" fill="#440154"/>
<rect x="3494" y="141.19" width="11.2" height="9.54" fill="#440154"/>
<rect x="3650.8" y="141.19" width="11.2" height="9.54" fill="#3e4989"/>
<rect x="3662" y="141.19" width="11.2" height="9.54" fill="#440154"/>
<rect x="3673.2" y="141.19" width="22.4" height="9.54" fill="#26828e"/>
<rect x="3695.6" y="141.19" width="11.2" height="9.54" fill="#20928c"/>
<rect x="3706.8" y="141.19" width="11.2" height="9.54" fill="#2f6c8e"/>
<rect x="3718" y="141.19" width="11.2" height="9.54" fill="#440154"/>
<rect x="3740.4" y="141.19" width="11.2" height="9.54" fill="#440154"/>
<rect x="3762.8" y="141.19" width="11.2" height="9.54" fill="#2f6c8e"/>
<rect x="3449.2" y="150.73" width="11.2" height="9.54" fill="#440154"/>
<rect x="3471.6" y="150.73" width="11.2" height="9.54" fill="#440154"/>
<rect x="3527.6" y="150.73" width="11.2" height="9.54" fill="#440154"/>
<rect x="3561.2" y="150.73" width="11.2" height="9.54" fill="#3e4989"/>
<rect x="3572.4" y="150.73" width="11.2" height="9.54" fill="#440154"/>
<rect x="3606" y="150.73" width="11.2" height="9.54" fill="#440154"/>
<rect x="3617.2" y="150.73" width="11.2" height="9.54" fill="#2f6c8e"/>
<rect x="3628.4" y="150.73" width="11.2" height="9.54" fill="#3e4989"/>
<rect x="3639.6" y="150.73" width="44.8" height="9.54" fill="#20928c"/>
<rect x="3684.4" y="150.73" width="11.2" height="9.54" fill="#25ab82"/>
<rect x="3695.6" y="150.73" width="11.2" height="9.54" fill="#3e4989"/>
<rect x="3706.8" y="150.73" width="11.2" height="9.54" fill="#26828e"/>
<rect x="3718" y="150.73" width="11.2" height="9.54" fill="#2f6c8e"/>
<rect x="3729.2" y="150.73" width="11.2" height="9.54" fill="#3e4989"/>
<rect x="3740.4" y="150.73" width="11.2" height="9.54" fill="#2f6c8e"/>
<rect x="3751.6" y="150.73" width="11.2" height="9.54" fill="#3e4989"/>
<rect x="3404.4" y="160.27" width="11.2" height="9.54" fill="#440154"/>
<rect x="3516.4" y="160.27" width="11.2" height="9.54" fill="#440154"/>
<rect x="3538.8" y="160.27" width="11.2" height="9.54" fill="#26828e"/>
<rect x="3550" y="160.27" width="11.2" height="9.54" fill="#3e4989"/>
<rect x="3561.2" y="160.27" width="11.2" height="9.54" fill="#440154"/>
<rect x="3572.4" y="160.27" width="22.4" height="9.54" fill="#3e4989"/>
<rect x="3594.8" y="160.27" width="11.2" height="9.54" fill="#440154"/>
<rect x="3606" y="160.27" width="22.4" height="9.54" fill="#3e4989"/>
<rect x="3628.4" y="160.27" width="11.2" height="9.54" fill="#26828e"/>
<rect x="3639.6" y="160.27" width="44.8" height="9.54" fill="#3fbc73"/>
<rect x="3684.4" y="160.27" width="11.2" height="9.54" fill="#20928c"/>
<rect x="3695.6" y="160.27" width="11.2" height="9.54" fill="#6ece58"/>
<rect x="3706.8" y="160.27" width="22.4" height="9.54" fill="#20928c"/>
<rect x="3729.2" y="160.27" width="11.2" height="9.54" fill="#440154"/>
<rect x="3740.4" y="160.27" width="11.2" height="9.54" fill="#3e4989"/>
<rect x="3751.6" y="160.27" width="11.2" height="9.54" fill="#440154"/>
<rect x="3426.8" y="169.81" width="11.2" height="9.54" fill="#440154"/>
<rect x="3482.8" y="169.81" width="11.2" height="9.54" fill="#440154"/>
<rect x="3494" y="169.81" width="11.2" height="9.54" fill="#3e4989"/>
<rect x="3527.6" y="169.81" width="11.2" height="9.54" fill="#3e4989"/>
<rect x="3550" y="169.81" width="33.6" height="9.54" fill="#3e4989"/>
<rect x="3594.8" y="169.81" width="11.2" height="9.54" fill="#440154"/>
<rect x="3606" y="169.81" width="11.2" height="9.54" fill="#2f6c8e"/>
<rect x="3617.2" y="169.81" width="11.2" height="9.54" fill="#20928c"/>
<rect x="3628.4" y="169.81" width="11.2" height="9.54" fill="#3e4989"/>
<rect x="3639.6" y="169.81" width="11.2" height="9.54" fill="#3fbc73"/>
<rect x="3650.8" y="169.81" width="11.2" height="9.54" fill="#6ece58"/>
<rect x="3662" y="169.81" width="22.4" height="9.54" fill="#3fbc73"/>
<rect x="3684.4" y="169.81" width="11.2" height="9.54" fill="#6ece58"/>
<rect x="3695.6" y="169.81" width="11.2" height="9.54" fill="#25ab82"/>
<rect x="3706.8" y="169.81" width="11.2" height="9.54" fill="#6ece58"/>
<rect x="3718" y="169.81" width="22.4" height="9.54" fill="#440154"/>
<rect x="3348.4" y="179.35" width="11.2" height="9.54" fill="#440154"/>
<rect x="3505.2" y="179.35" width="11.2" height="9.54" fill="#2f6c8e"/>
<rect x="3538.8" y="179.35" width="11.2" height="9.54" fill="#3e4989"/>
<rect x="3550" y="179.35" width="11.2" height="9.54" fill="#2f6c8e"/>
<rect x="3561.2" y="179.35" width="11.2" height="9.54" fill="#26828e"/>
<rect x="3583.6" y="179.35" width="11.2" height="9.54" fill="#26828e"/>
<rect x="3594.8" y="179.35" width="11.2" height="9.54" fill="#20928c"/>
<rect x="3606" y="179.35" width="22.4" height="9.54" fill="#440154"/>
<rect x="3628.4" y="179.35" width="11.2" height="9.54" fill="#25ab82"/>
<rect x="3639.6" y="179.35" width="11.2" height="9.54" fill="#2f6c8e"/>
<rect x="3650.8" y="179.35" width="11.2" height="9.54" fill="#25ab82"/>
<rect x="3662" y="179.35" width="11.2" height="9.54" fill="#6ece58"/>
<rect x="3673.2" y="179.35" width="11.2" height="9.54" fill="#fde725"/>
<rect x="3684.4" y="179.35" width="11.2" height="9.54" fill="#6ece58"/>
<rect x="3695.6" y="179.35" width="11.2" height="9.54" fill="#25ab82"/>
<rect x="3706.8" y="179.35" width="11.2" height="9.54" fill="#20928c"/>
<rect x="3718" y="179.35" width="11.2" height="9.54" fill="#3e4989"/>
<rect x="3415.6" y="188.89" width="11.2" height="9.54" fill="#440154"/>
<rect x="3482.8" y="188.89" width="11.2" height="9.54" fill="#440154"/>
<rect x="3505.2" y="188.89" width="33.6" height="9.54" fill="#440154"/>
<rect x="3538.8" y="188.89" width="11.2" height="9.54" fill="#26828e"/>
<rect x="3550" y="188.89" width="22.4" height="9.54" fill="#440154"/>
<rect x="3572.4" y="188.89" width="22.4" height="9.54" fill="#3e4989"/>
<rect x="3594.8" y="188.89" width="11.2" height="9.54" fill="#26828e"/>
<rect x="3606" y="188.89" width="11.2" height="9.54" fill="#3e4989"/>
<rect x="3617.2" y="188.89" width="11.2" height="9.54" fill="#25ab82"/>
<rect x="3628.4" y="188.89" width="11.2" height="9.54" fill="#6ece58"/>
<rect x="3639.6" y="188.89" width="11.2" height="9.54" fill="#26828e"/>
<rect x="3650.8" y="188.89" width="11.2" height="9.54" fill="#3fbc73"/>
<rect x="3662" y="188.89" width="11.2" height="9.54" fill="#6ece58"/>
<rect x="3673.2" y="188.89" width="11.2" height="9.54" fill="#a2da37"/>
<rect x="3684.4" y="188.89" width="11.2" height="9.54" fill="#3fbc73"/>
<rect x="3695.6" y="188.89" width="11.2" height="9.54" fill="#20928c"/>
<rect x="3706.8" y="188.89" width="11.2" height="9.54" fill="#3fbc73"/>
<rect x="3718" y="188.89" width="11.2" height="9.54" fill="#440154"/>
<rect x="3740.4" y="188.89" width="33.6" height="9.54" fill="#440154"/>
<rect x="3415.6" y="198.43" width="11.2" height="9.54" fill="#440154"/>
<rect x="3438" y="198.43" width="11.2" height="9.54" fill="#3e4989"/>
<rect x="3460.4" y="198.43" width="11.2" height="9.54" fill="#440154"/>
<rect x="3482.8" y="198.43" width="11.2" height="9.54" fill="#440154"/>
<rect x="3527.6" y="198.43" width="22.4" height="9.54" fill="#26828e"/>
<rect x="3550" y="198.43" width="11.2" height="9.54" fill="#440154"/>
<rect x="3561.2" y="198.43" width="11.2" height="9.54" fill="#2f6c8e"/>
<rect x="3583.6" y="198.43" width="11.2" height="9.54" fill="#2f6c8e"/>
<rect x="3594.8" y="198.43" width="11.2" height="9.54" fill="#26828e"/>
<rect x="3606" y="198.43" width="11.2" height="9.54" fill="#20928c"/>
<rect x="3617.2" y="198.43" width="11.2" height="9.54" fill="#25ab82"/>
<rect x="3628.4" y="198.43" width="33.6" height="9.54" fill="#6ece58"/>
<rect x="3662" y="198.43" width="11.2" height="9.54" fill="#fde725"/>
<rect x="3673.2" y="198.43" width="11.2" height="9.54" fill="#6ece58"/>
<rect x="3684.4" y="198.43" width="11.2" height="9.54" fill="#25ab82"/>
<rect x="3695.6" y="198.43" width="11.2" height="9.54" fill="#20928c"/>
<rect x="3706.8" y="198.43" width="11.2" height="9.54" fill="#3e4989"/>
<rect x="3729.2" y="198.43" width="33.6" height="9.54" fill="#440154"/>
<rect x="3359.6" y="207.97" width="11.2" height="9.54" fill="#440154"/>
<rect x="3415.6" y="207.97" width="11.2" height="9.54" fill="#440154"/>
<rect x="3438" y="207.97" width="11.2" height="9.54" fill="#3e4989"/>
<rect x="3449.2" y="207.97" width="22.4" height="9.54" fill="#440154"/>
<rect x="3471.6" y="207.97" width="11.2" height="9.54" fill="#3e4989"/>
<rect x="3494" y="207.97" width="11.2" height="9.54" fill="#3e4989"/>
<rect x="3527.6" y="207.97" width="11.2" height="9.54" fill="#440154"/>
<rect x="3538.8" y="207.97" width="11.2" height="9.54" fill="#3e4989"/>
<rect x="3550" y="207.97" width="11.2" height="9.54" fill="#26828e"/>
<rect x="3561.2" y="207.97" width="11.2" height="9.54" fill="#3e4989"/>
<rect x="3572.4" y="207.97" width="11.2" height="9.54" fill="#20928c"/>
<rect x="3583.6" y="207.97" width="11.2" height="9.54" fill="#440154"/>
<rect x="3594.8" y="207.97" width="11.2" height="9.54" fill="#20928c"/>
<rect x="3606" y="207.97" width="22.4" height="9.54" fill="#25ab82"/>
<rect x="3628.4" y="207.97" width="22.4" height="9.54" fill="#a2da37"/>
<rect x="3650.8" y="207.97" width="11.2" height="9.54" fill="#6ece58"/>
<rect x="3662" y="207.97" width="11.2" height="9.54" fill="#fde725"/>
<rect x="3673.2" y="207.97" width="11.2" height="9.54" fill="#a2da37"/>
<rect x="3684.4" y="207.97" width="11.2" height="9.54" fill="#3fbc73"/>
<rect x="3695.6" y="207.97" width="22.4" height="9.54" fill="#20928c"/>
<rect x="3718" y="207.97" width="22.4" height="9.54" fill="#26828e"/>
<rect x="3740.4" y="207.97" width="11.2" height="9.54" fill="#6ece58"/>
<rect x="3751.6" y="207.97" width="11.2" height="9.54" fill="#20928c"/>
<rect x="3762.8" y="207.97" width="11.2" height="9.54" fill="#440154"/>
<rect x="3393.2" y="217.51" width="11.2" height="9.54" fill="#440154"/>
<rect x="3415.6" y="217.51" width="11.2" height="9.54" fill="#440154"/>
<rect x="3471.6" y="217.51" width="22.4" height="9.54" fill="#440154"/>
<rect x="3527.6" y="217.51" width="11.2" height="9.54" fill="#440154"/>
<rect x="3538.8" y="217.51" width="11.2" height="9.54" fill="#26828e"/>
<rect x="3561.2" y="217.51" width="11.2" height="9.54" fill="#2f6c8e"/>
<rect x="3572.4" y="217.51" width="22.4" height="9.54" fill="#20928c"/>
<rect x="3594.8" y="217.51" width="11.2" height="9.54" fill="#25ab82"/>
<rect x="3606" y="217.51" width="11.2" height="9.54" fill="#3fbc73"/>
<rect x="3617.2" y="217.51" width="11.2" height="9.54" fill="#25ab82"/>
<rect x="3628.4" y="217.51" width="11.2" height="9.54" fill="#3fbc73"/>
<rect x="3639.6" y="217.51" width="11.2" height="9.54" fill="#d8e219"/>
<rect x="3650.8" y="217.51" width="11.2" height="9.54" fill="#a2da37"/>
<rect x="3662" y="217.51" width="11.2" height="9.54" fill="#3fbc73"/>
<rect x="3673.2" y="217.51" width="11.2" height="9.54" fill="#3e4989"/>
<rect x="3684.4" y="217.51" width="11.2" height="9.54" fill="#20928c"/>
<rect x="3695.6" y="217.51" width="11.2" height="9.54" fill="#26828e"/>
<rect x="3706.8" y="217.51" width="11.2" height="9.54" fill="#2f6c8e"/>
<rect x="3718" y="217.51" width="11.2" height="9.54" fill="#440154"/>
<rect x="3359.6" y="227.05" width="11.2" height="9.54" fill="#440154"/>
<rect x="3393.2" y="227.05" width="11.2" height="9.54" fill="#440154"/>
<rect x="3449.2" y="227.05" width="22.4" height="9.54" fill="#440154"/>
<rect x="3482.8" y="227.05" width="11.2" height="9.54" fill="#2f6c8e"/>
<rect x="3494" y="227.05" width="11.2" height="9.54" fill="#440154"/>
<rect x="3505.2" y="227.05" width="11.2" height="9.54" fill="#2f6c8e"/>
<rect x="3561.2" y="227.05" width="11.2" height="9.54" fill="#20928c"/>
<rect x="3572.4" y="227.05" width="11.2" height="9.54" fill="#3e4989"/>
<rect x="3583.6" y="227.05" width="11.2" height="9.54" fill="#20928c"/>
<rect x="3594.8" y="227.05" width="11.2" height="9.54" fill="#3fbc73"/>
<rect x="3606" y="227.05" width="11.2" height="9.54" fill="#25ab82"/>
<rect x="3617.2" y="227.05" width="11.2" height="9.54" fill="#3fbc73"/>
<rect x="3628.4" y="227.05" width="11.2" height="9.54" fill="#26828e"/>
<rect x="3639.6" y="227.05" width="11.2" height="9.54" fill="#20928c"/>
<rect x="3650.8" y="227.05" width="11.2" height="9.54" fill="#6ece58"/>
<rect x="3662" y="227.05" width="11.2" height="9.54" fill="#20928c"/>
<rect x="3673.2" y="227.05" width="11.2" height="9.54" fill="#25ab82"/>
<rect x="3684.4" y="227.05" width="22.4" height="9.54" fill="#3e4989"/>
<rect x="3359.6" y="236.59" width="22.4" height="9.54" fill="#440154"/>
<rect x="3426.8" y="236.59" width="11.2" height="9.54" fill="#3e4989"/>
<rect x="3449.2" y="236.59" width="11.2" height="9.54" fill="#440154"/>
<rect x="3471.6" y="236.59" width="11.2" height="9.54" fill="#440154"/>
<rect x="3505.2" y="236.59" width="11.2" height="9.54" fill="#440154"/>
<rect x="3516.4" y="236.59" width="11.2" height="9.54" fill="#3e4989"/>
<rect x="3538.8" y="236.59" width="11.2" height="9.54" fill="#3e4989"/>
<rect x="3550" y="236.59" width="11.2" height="9.54" fill="#2f6c8e"/>
<rect x="3561.2" y="236.59" width="11.2" height="9.54" fill="#25ab82"/>
<rect x="3572.4" y="236.59" width="22.4" height="9.54" fill="#20928c"/>
<rect x="3594.8" y="236.59" width="11.2" height="9.54" fill="#a2da37"/>
<rect x="3606" y="236.59" width="11.2" height="9.54" fill="#25ab82"/>
<rect x="3617.2" y="236.59" width="11.2" height="9.54" fill="#3fbc73"/>
<rect x="3628.4" y="236.59" width="11.2" height="9.54" fill="#6ece58"/>
<rect x="3639.6" y="236.59" width="11.2" height="9.54" fill="#3fbc73"/>
<rect x="3650.8" y="236.59" width="11.2" height="9.54" fill="#20928c"/>
<rect x="3662" y="236.59" width="11.2" height="9.54" fill="#26828e"/>
<rect x="3673.2" y="236.59" width="11.2" height="9.54" fill="#3e4989"/>
<rect x="3684.4" y="236.59" width="11.2" height="9.54" fill="#440154"/>
<rect x="3404.4" y="246.13" width="11.2" height="9.54" fill="#440154"/>
<rect x="3460.4" y="246.13" width="11.2" height="9.54" fill="#440154"/>
<rect x="3505.2" y="246.13" width="11.2" height="9.54" fill="#3e4989"/>
<rect x="3516.4" y="246.13" width="11.2" height="9.54" fill="#2f6c8e"/>
<rect x="3527.6" y="246.13" width="11.2" height="9.54" fill="#440154"/>
<rect x="3538.8" y="246.13" width="22.4" height="9.54" fill="#26828e"/>
<rect x="3561.2" y="246.13" width="22.4" height="9.54" fill="#20928c"/>
<rect x="3583.6" y="246.13" width="11.2" height="9.54" fill="#440154"/>
<rect x="3594.8" y="246.13" width="11.2" height="9.54" fill="#3e4989"/>
<rect x="3606" y="246.13" width="11.2" height="9.54" fill="#26828e"/>
<rect x="3617.2" y="246.13" width="22.4" height="9.54" fill="#3e4989"/>
<rect x="3639.6" y="246.13" width="22.4" height="9.54" fill="#2f6c8e"/>
<rect x="3662" y="246.13" width="11.2" height="9.54" fill="#3e4989"/>
<rect x="3684.4" y="246.13" width="11.2" height="9.54" fill="#440154"/>
<rect x="3471.6" y="255.67" width="11.2" height="9.54" fill="#440154"/>
<rect x="3482.8" y="255.67" width="11.2" height="9.54" fill="#2f6c8e"/>
<rect x="3505.2" y="255.67" width="11.2" height="9.54" fill="#440154"/>
<rect x="3516.4" y="255.67" width="11.2" height="9.54" fill="#2f6c8e"/>
<rect x="3527.6" y="255.67" width="11.2" height="9.54" fill="#3e4989"/>
<rect x="3550" y="255.67" width="11.2" height="9.54" fill="#3e4989"/>
<rect x="3561.2" y="255.67" width="22.4" height="9.54" fill="#2f6c8e"/>
<rect x="3583.6" y="255.67" width="11.2" height="9.54" fill="#3e4989"/>
<rect x="3594.8" y="255.67" width="22.4" height="9.54" fill="#26828e"/>
<rect x="3617.2" y="255.67" width="11.2" height="9.54" fill="#3e4989"/>
<rect x="3628.4" y="255.67" width="11.2" height="9.54" fill="#440154"/>
<rect x="3639.6" y="255.67" width="11.2" height="9.54" fill="#26828e"/>
<rect x="3673.2" y="255.67" width="11.2" height="9.54" fill="#3e4989"/>
<rect x="3471.6" y="265.21" width="11.2" height="9.54" fill="#3e4989"/>
<rect x="3482.8" y="265.21" width="11.2" height="9.54" fill="#20928c"/>
<rect x="3494" y="265.21" width="11.2" height="9.54" fill="#440154"/>
<rect x="3505.2" y="265.21" width="11.2" height="9.54" fill="#3e4989"/>
<rect x="3516.4" y="265.21" width="11.2" height="9.54" fill="#440154"/>
<rect x="3527.6" y="265.21" width="11.2" height="9.54" fill="#3e4989"/>
<rect x="3538.8" y="265.21" width="11.2" height="9.54" fill="#2f6c8e"/>
<rect x="3550" y="265.21" width="11.2" height="9.54" fill="#440154"/>
<rect x="3561.2" y="265.21" width="33.6" height="9.54" fill="#26828e"/>
<rect x="3594.8" y="265.21" width="11.2" height="9.54" fill="#2f6c8e"/>
<rect x="3606" y="265.21" width="11.2" height="9.54" fill="#20928c"/>
<rect x="3617.2" y="265.21" width="11.2" height="9.54" fill="#3e4989"/>
<rect x="3628.4" y="265.21" width="33.6" height="9.54" fill="#440154"/>
<rect x="3695.6" y="265.21" width="11.2" height="9.54" fill="#440154"/>
<rect x="3359.6" y="274.75" width="11.2" height="9.54" fill="#440154"/>
<rect x="3382" y="274.75" width="11.2" height="9.54" fill="#440154"/>
<rect x="3460.4" y="274.75" width="11.2" height="9.54" fill="#440154"/>
<rect x="3471.6" y="274.75" width="11.2" height="9.54" fill="#3e4989"/>
<rect x="3482.8" y="274.75" width="22.4" height="9.54" fill="#440154"/>
<rect x="3527.6" y="274.75" width="11.2" height="9.54" fill="#3e4989"/>
<rect x="3561.2" y="274.75" width="22.4" height="9.54" fill="#2f6c8e"/>
<rect x="3583.6" y="274.75" width="11.2" height="9.54" fill="#440154"/>
<rect x="3606" y="274.75" width="11.2" height="9.54" fill="#20928c"/>
<rect x="3639.6" y="274.75" width="11.2" height="9.54" fill="#440154"/>
<rect x="3449.2" y="284.29" width="44.8" height="9.54" fill="#440154"/>
<rect x="3505.2" y="284.29" width="44.8" height="9.54" fill="#440154"/>
<rect x="3572.4" y="284.29" width="11.2" height="9.54" fill="#3e4989"/>
<rect x="3583.6" y="284.29" width="22.4" height="9.54" fill="#440154"/>
<rect x="3628.4" y="284.29" width="11.2" height="9.54" fill="#440154"/>
<rect x="3449.2" y="293.83" width="11.2" height="9.54" fill="#440154"/>
<rect x="3471.6" y="293.83" width="22.4" height="9.54" fill="#3e4989"/>
<rect x="3505.2" y="293.83" width="11.2" height="9.54" fill="#440154"/>
<rect x="3527.6" y="293.83" width="11.2" height="9.54" fill="#3e4989"/>
<rect x="3572.4" y="293.83" width="11.2" height="9.54" fill="#440154"/>
<rect x="3594.8" y="293.83" width="11.2" height="9.54" fill="#440154"/>
<rect x="3639.6" y="293.83" width="11.2" height="9.54" fill="#440154"/>
<rect x="3337.2" y="303.37" width="11.2" height="9.54" fill="#440154"/>
<rect x="3494" y="303.37" width="11.2" height="9.54" fill="#440154"/>
<rect x="3583.6" y="303.37" width="22.4" height="9.54" fill="#440154"/>
<rect x="3471.6" y="312.91" width="33.6" height="9.54" fill="#440154"/>
<rect x="3527.6" y="312.91" width="11.2" height="9.54" fill="#440154"/>
<rect x="3326" y="322.45" width="11.2" height="9.54" fill="#440154"/>
<rect x="3471.6" y="322.45" width="11.2" height="9.54" fill="#440154"/>
<rect x="3583.6" y="331.99" width="11.2" height="9.54" fill="#440154"/>
<rect x="3494" y="351.07" width="11.2" height="9.54" fill="#440154"/>
<rect x="3550" y="465.55" width="11.2" height="9.54" fill="#440154"/>
</g>
<clipPath id="c3259"><rect x="3259.5" y="36.5" width="560" height="477"/></clipPath>
<g clip-path="url(#c3259)">
<line x1="3259.5" y1="311.01" x2="3819.5" y2="152.83" stroke="#000" stroke-width="2.08"/>
<line x1="3259.5" y1="513.13" x2="3819.5" y2="35.32" stroke="#000" stroke-width="2.08" stroke-dasharray="7.71 3.33"/>
</g>
<rect x="3278.1" y="43" width="305.77" height="44.4" fill="#fff" fill-opacity="0.5"/>
<text x="3286.4" y="72.7" font-size="27.78" text-anchor="start">Fit: y = 0.33x + 6.14</text>
<rect x="3259.5" y="36.5" width="560" height="477" fill="none" stroke="#000" stroke-width="1.11"/>
<line x1="3289.5" y1="513.5" x2="3289.5" y2="518.36" stroke="#000" stroke-width="1.11"/>
<text x="3289.5" y="540.5" font-size="22.22" text-anchor="middle">2</text>
<line x1="3379.5" y1="513.5" x2="3379.5" y2="518.36" stroke="#000" stroke-width="1.11"/>
<text x="3379.5" y="540.5" font-size="22.22" text-anchor="middle">4</text>
<line x1="3468.5" y1="513.5" x2="3468.5" y2="518.36" stroke="#000" stroke-width="1.11"/>
<text x="3468.5" y="540.5" font-size="22.22" text-anchor="middle">6</text>
<line x1="3558.5" y1="513.5" x2="3558.5" y2="518.36" stroke="#000" stroke-width="1.11"/>
<text x="3558.5" y="540.5" font-size="22.22" text-anchor="middle">8</text>
<line x1="3648.5" y1="513.5" x2="3648.5" y2="518.36" stroke="#000" stroke-width="1.11"/>
<text x="3648.5" y="540.5" font-size="22.22" text-anchor="middle">10</text>
<line x1="3738.5" y1="513.5" x2="3738.5" y2="518.36" stroke="#000" stroke-width="1.11"/>
<text x="3738.5" y="540.5" font-size="22.22" text-anchor="middle">12</text>
<line x1="3254.64" y1="487.5" x2="3259.5" y2="487.5" stroke="#000" stroke-width="1.11"/>
<text x="3249.78" y="496.8" font-size="22.22" text-anchor="end">2</text>
<line x1="3254.64" y1="411.5" x2="3259.5" y2="411.5" stroke="#000" stroke-width="1.11"/>
<text x="3249.78" y="420.8" font-size="22.22" text-anchor="end">4</text>
<line x1="3254.64" y1="334.5" x2="3259.5" y2="334.5" stroke="#000" stroke-width="1.11"/>
<text x="3249.78" y="343.8" font-size="22.22" text-anchor="end">6</text>
<line x1="3254.64" y1="257.5" x2="3259.5" y2="257.5" stroke="#000" stroke-width="1.11"/>
<text x="3249.78" y="266.8" font-size="22.22" text-anchor="end">8</text>
<line x1="3254.64" y1="181.5" x2="3259.5" y2="181.5" stroke="#000" stroke-width="1.11"/>
<text x="3249.78" y="190.8" font-size="22.22" text-anchor="end">10</text>
<line x1="3254.64" y1="104.5" x2="3259.5" y2="104.5" stroke="#000" stroke-width="1.11"/>
<text x="3249.78" y="113.8" font-size="22.22" text-anchor="end">12</text>
<text x="3539.5" y="27.9" font-size="22.22" text-anchor="middle">CTH (AMSL) 2-Layers/Top-Ice</text>
<text x="3539.5" y="569.8" font-size="22.22" text-anchor="middle">ACTRIS CTH [km]</text>
<linearGradient id="g140176185479360" x1="0" y1="0" x2="0" y2="1"><stop offset="0" stop-color="#fde725"/><stop offset="0.04" stop-color="#e5e419"/><stop offset="0.08" stop-color="#c8e020"/><stop offset="0.12" stop-color="#addc30"/><stop offset="0.17" stop-color="#90d743"/><stop offset="0.21" stop-color="#75d054"/><stop offset="0.25" stop-color="#5ec962"/><stop offset="0.29" stop-color="#48c16e"/><stop offset="0.33" stop-color="#35b779"/><stop offset="0.38" stop-color="#28ae80"/><stop offset="0.42" stop-color="#20a486"/><stop offset="0.46" stop-color="#1f9a8a"/><stop offset="0.5" stop-color="#21918c"/><stop offset="0.54" stop-color="#24868e"/><stop offset="0.58" stop-color="#287c8e"/><stop offset="0.62" stop-color="#2c728e"/><stop offset="0.67" stop-color="#31688e"/><stop offset="0.71" stop-color="#365d8d"/><stop offset="0.75" stop-color="#3b528b"/><stop offset="0.79" stop-color="#404688"/><stop offset="0.83" stop-color="#443983"/><stop offset="0.88" stop-color="#472d7b"/><stop offset="0.92" stop-color="#481f70"/><stop offset="0.96" stop-color="#471063"/><stop offset="1" stop-color="#440154"/></linearGradient>
<rect x="3854.5" y="36.5" width="24" height="477" fill="url(#g140176185479360)" stroke="#000" stroke-width="1.11"/>
<line x1="3878.5" y1="513.5" x2="3883.76" y2="513.5" stroke="#000" stroke-width="1.11"/>
<text x="3888.22" y="520.1" font-size="13.89" text-anchor="start">10<tspan dy="-5.3" font-size="9.72">0</tspan></text>
<line x1="3878.5" y1="163.5" x2="3883.76" y2="163.5" stroke="#000" stroke-width="1.11"/>
<text x="3888.22" y="170.1" font-size="13.89" text-anchor="start">10<tspan dy="-5.3" font-size="9.72">1</tspan></text>
<line x1="3878.5" y1="408.5" x2="3881.78" y2="408.5" stroke="#000" stroke-width="0.95"/>
<line x1="3878.5" y1="346.5" x2="3881.78" y2="346.5" stroke="#000" stroke-width="0.95"/>
<line x1="3878.5" y1="302.5" x2="3881.78" y2="302.5" stroke="#000" stroke-width="0.95"/>
<line x1="3878.5" y1="268.5" x2="3881.78" y2="268.5" stroke="#000" stroke-width="0.95"/>
<line x1="3878.5" y1="240.5" x2="3881.78" y2="240.5" stroke="#000" stroke-width="0.95"/>
<line x1="3878.5" y1="217.5" x2="3881.78" y2="217.5" stroke="#000" stroke-width="0.95"/>
<line x1="3878.5" y1="197.5" x2="3881.78" y2="197.5" stroke="#000" stroke-width="0.95"/>
<line x1="3878.5" y1="179.5" x2="3881.78" y2="179.5" stroke="#000" stroke-width="0.95"/>
<line x1="3878.5" y1="57.5" x2="3881.78" y2="57.5" stroke="#000" stroke-width="0.95"/>
<text x="3928.8" y="276.3" font-size="13.89" text-anchor="middle" transform="rotate(-90 3928.8 276.3)">Counts</text>
<rect x="123.5" y="1086.5" width="12" height="0" fill="#d3d3d3" stroke="#000" stroke-width="1.39" stroke-linejoin="miter"/>
<rect x="135.5" y="1086.5" width="13" height="0" fill="#d3d3d3" stroke="#000" stroke-width="1.39" stroke-linejoin="miter"/>
<rect x="148.5" y="1086.5" width="13" height="0" fill="#d3d3d3" stroke="#000" stroke-width="1.39" stroke-linejoin="miter"/>
<rect x="161.5" y="1084.5" width="12" height="2" fill="#d3d3d3" stroke="#000" stroke-width="1.39" stroke-linejoin="miter"/>
<rect x="173.5" y="1084.5" width="13" height="2" fill="#d3d3d3" stroke="#000" stroke-width="1.39" stroke-linejoin="miter"/>
<rect x="186.5" y="1080.5" width="13" height="6" fill="#d3d3d3" stroke="#000" stroke-width="1.39" stroke-linejoin="miter"/>
<rect x="199.5" y="1081.5" width="13" height="5" fill="#d3d3d3" stroke="#000" stroke-width="1.39" stroke-linejoin="miter"/>
<rect x="212.5" y="1074.5" width="12" height="12" fill="#d3d3d3" stroke="#000" stroke-width="1.39" stroke-linejoin="miter"/>
<rect x="224.5" y="1078.5" width="13" height="8" fill="#d3d3d3" stroke="#000" stroke-width="1.39" stroke-linejoin="miter"/>
<rect x="237.5" y="1073.5" width="13" height="13" fill="#d3d3d3" stroke="#000" stroke-width="1.39" stroke-linejoin="miter"/>
<rect x="250.5" y="1076.5" width="13" height="10" fill="#d3d3d3" stroke="#000" stroke-width="1.39" stroke-linejoin="miter"/>
<rect x="263.5" y="1068.5" width="12" height="18" fill="#d3d3d3" stroke="#000" stroke-width="1.39" stroke-linejoin="miter"/>
<rect x="275.5" y="1072.5" width="13" height="14" fill="#d3d3d3" stroke="#000" stroke-width="1.39" stroke-linejoin="miter"/>
<rect x="288.5" y="1067.5" width="13" height="19" fill="#d3d3d3" stroke="#000" stroke-width="1.39" stroke-linejoin="miter"/>
<rect x="301.5" y="1059.5" width="13" height="27" fill="#d3d3d3" stroke="#000" stroke-width="1.39" stroke-linejoin="miter"/>
<rect x="314.5" y="1046.5" width="12" height="40" fill="#d3d3d3" stroke="#000" stroke-width="1.39" stroke-linejoin="miter"/>
<rect x="326.5" y="1037.5" width="13" height="49" fill="#d3d3d3" stroke="#000" stroke-width="1.39" stroke-linejoin="miter"/>
<rect x="339.5" y="1018.5" width="13" height="68" fill="#d3d3d3" stroke="#000" stroke-width="1.39" stroke-linejoin="miter"/>
<rect x="352.5" y="984.5" width="13" height="102" fill="#d3d3d3" stroke="#000" stroke-width="1.39" stroke-linejoin="miter"/>
<rect x="365.5" y="920.5" width="12" height="166" fill="#d3d3d3" stroke="#000" stroke-width="1.39" stroke-linejoin="miter"/>
<rect x="377.5" y="801.5" width="13" height="285" fill="#d3d3d3" stroke="#000" stroke-width="1.39" stroke-linejoin="miter"/>
<rect x="390.5" y="703.5" width="13" height="383" fill="#d3d3d3" stroke="#000" stroke-width="1.39" stroke-linejoin="miter"/>
<rect x="403.5" y="687.5" width="13" height="399" fill="#d3d3d3" stroke="#000" stroke-width="1.39" stroke-linejoin="miter"/>
<rect x="416.5" y="666.5" width="12" height="420" fill="#d3d3d3" stroke="#000" stroke-width="1.39" stroke-linejoin="miter"/>
<rect x="428.5" y="631.5" width="13" height="455" fill="#d3d3d3" stroke="#000" stroke-width="1.39" stroke-linejoin="miter"/>
<rect x="441.5" y="731.5" width="13" height="355" fill="#d3d3d3" stroke="#000" stroke-width="1.39" stroke-linejoin="miter"/>
<rect x="454.5" y="824.5" width="12" height="262" fill="#d3d3d3" stroke="#000" stroke-width="1.39" stroke-linejoin="miter"/>
<rect x="466.5" y="885.5" width="13" height="201" fill="#d3d3d3" stroke="#000" stroke-width="1.39" stroke-linejoin="miter"/>
<rect x="479.5" y="965.5" width="13" height="121" fill="#d3d3d3" stroke="#000" stroke-width="1.39" stroke-linejoin="miter"/>
<rect x="492.5" y="984.5" width="13" height="102" fill="#d3d3d3" stroke="#000" stroke-width="1.39" stroke-linejoin="miter"/>
<rect x="505.5" y="1021.5" width="12" height="65" fill="#d3d3d3" stroke="#000" stroke-width="1.39" stroke-linejoin="miter"/>
<rect x="517.5" y="1027.5" width="13" height="59" fill="#d3d3d3" stroke="#000" stroke-width="1.39" stroke-linejoin="miter"/>
<rect x="530.5" y="1048.5" width="13" height="38" fill="#d3d3d3" stroke="#000" stroke-width="1.39" stroke-linejoin="miter"/>
<rect x="543.5" y="1050.5" width="13" height="36" fill="#d3d3d3" stroke="#000" stroke-width="1.39" stroke-linejoin="miter"/>
<rect x="556.5" y="1036.5" width="12" height="50" fill="#d3d3d3" stroke="#000" stroke-width="1.39" stroke-linejoin="miter"/>
<rect x="568.5" y="1059.5" width="13" height="27" fill="#d3d3d3" stroke="#000" stroke-width="1.39" stroke-linejoin="miter"/>
<rect x="581.5" y="1058.5" width="13" height="28" fill="#d3d3d3" stroke="#000" stroke-width="1.39" stroke-linejoin="miter"/>
<rect x="594.5" y="1073.5" width="13" height="13" fill="#d3d3d3" stroke="#000" stroke-width="1.39" stroke-linejoin="miter"/>
<rect x="607.5" y="1076.5" width="12" height="10" fill="#d3d3d3" stroke="#000" stroke-width="1.39" stroke-linejoin="miter"/>
<rect x="619.5" y="1075.5" width="13" height="11" fill="#d3d3d3" stroke="#000" stroke-width="1.39" stroke-linejoin="miter"/>
<rect x="632.5" y="1081.5" width="13" height="5" fill="#d3d3d3" stroke="#000" stroke-width="1.39" stroke-linejoin="miter"/>
<rect x="645.5" y="1082.5" width="13" height="4" fill="#d3d3d3" stroke="#000" stroke-width="1.39" stroke-linejoin="miter"/>
<rect x="658.5" y="1081.5" width="12" height="5" fill="#d3d3d3" stroke="#000" stroke-width="1.39" stroke-linejoin="miter"/>
<rect x="670.5" y="1083.5" width="13" height="3" fill="#d3d3d3" stroke="#000" stroke-width="1.39" stroke-linejoin="miter"/>
<rect x="683.5" y="1085.5" width="13" height="1" fill="#d3d3d3" stroke="#000" stroke-width="1.39" stroke-linejoin="miter"/>
<rect x="696.5" y="1083.5" width="13" height="3" fill="#d3d3d3" stroke="#000" stroke-width="1.39" stroke-linejoin="miter"/>
<rect x="709.5" y="1085.5" width="12" height="1" fill="#d3d3d3" stroke="#000" stroke-width="1.39" stroke-linejoin="miter"/>
<rect x="721.5" y="1086.5" width="13" height="0" fill="#d3d3d3" stroke="#000" stroke-width="1.39" stroke-linejoin="miter"/>
<rect x="734.5" y="1086.5" width="13" height="0" fill="#d3d3d3" stroke="#000" stroke-width="1.39" stroke-linejoin="miter"/>
<rect x="747.5" y="1086.5" width="13" height="0" fill="#d3d3d3" stroke="#000" stroke-width="1.39" stroke-linejoin="miter"/>
<line x1="428" y1="1086.5" x2="428" y2="608.5" stroke="#ff0000" stroke-width="2" stroke-dasharray="7.71 3.33"/>
<line x1="424" y1="1086.5" x2="424" y2="608.5" stroke="#0000ff" stroke-width="2" stroke-dasharray="7.71 3.33"/>
<line x1="490" y1="1086.5" x2="490" y2="608.5" stroke="#008000" stroke-width="2" stroke-dasharray="7.71 3.33"/>
<line x1="365" y1="1086.5" x2="365" y2="608.5" stroke="#008000" stroke-width="2" stroke-dasharray="7.71 3.33"/>
<rect x="91.5" y="608.5" width="700" height="478" fill="none" stroke="#000" stroke-width="1.11"/>
<line x1="120.5" y1="1086.5" x2="120.5" y2="1091.36" stroke="#000" stroke-width="1.11"/>
<text x="120.5" y="1113.5" font-size="22.22" text-anchor="middle">−8</text>
<line x1="199.5" y1="1086.5" x2="199.5" y2="1091.36" stroke="#000" stroke-width="1.11"/>
<text x="199.5" y="1113.5" font-size="22.22" text-anchor="middle">−6</text>
<line x1="278.5" y1="1086.5" x2="278.5" y2="1091.36" stroke="#000" stroke-width="1.11"/>
<text x="278.5" y="1113.5" font-size="22.22" text-anchor="middle">−4</text>
<line x1="357.5" y1="1086.5" x2="357.5" y2="1091.36" stroke="#000" stroke-width="1.11"/>
<text x="357.5" y="1113.5" font-size="22.22" text-anchor="middle">−2</text>
<line x1="436.5" y1="1086.5" x2="436.5" y2="1091.36" stroke="#000" stroke-width="1.11"/>
<text x="436.5" y="1113.5" font-size="22.22" text-anchor="middle">0</text>
<line x1="515.5" y1="1086.5" x2="515.5" y2="1091.36" stroke="#000" stroke-width="1.11"/>
<text x="515.5" y="1113.5" font-size="22.22" text-anchor="middle">2</text>
<line x1="594.5" y1="1086.5" x2="594.5" y2="1091.36" stroke="#000" stroke-width="1.11"/>
<text x="594.5" y="1113.5" font-size="22.22" text-anchor="middle">4</text>
<line x1="673.5" y1="1086.5" x2="673.5" y2="1091.36" stroke="#000" stroke-width="1.11"/>
<text x="673.5" y="1113.5" font-size="22.22" text-anchor="middle">6</text>
<line x1="752.5" y1="1086.5" x2="752.5" y2="1091.36" stroke="#000" stroke-width="1.11"/>
<text x="752.5" y="1113.5" font-size="22.22" text-anchor="middle">8</text>
<line x1="86.64" y1="1086.5" x2="91.5" y2="1086.5" stroke="#000" stroke-width="1.11"/>
<text x="81.78" y="1095.8" font-size="22.22" text-anchor="end">0</text>
<line x1="86.64" y1="993.5" x2="91.5" y2="993.5" stroke="#000" stroke-width="1.11"/>
<text x="81.78" y="1002.8" font-size="22.22" text-anchor="end">100</text>
<line x1="86.64" y1="901.5" x2="91.5" y2="901.5" stroke="#000" stroke-width="1.11"/>
<text x="81.78" y="910.8" font-size="22.22" text-anchor="end">200</text>
<line x1="86.64" y1="808.5" x2="91.5" y2="808.5" stroke="#000" stroke-width="1.11"/>
<text x="81.78" y="817.8" font-size="22.22" text-anchor="end">300</text>
<line x1="86.64" y1="715.5" x2="91.5" y2="715.5" stroke="#000" stroke-width="1.11"/>
<text x="81.78" y="724.8" font-size="22.22" text-anchor="end">400</text>
<line x1="86.64" y1="622.5" x2="91.5" y2="622.5" stroke="#000" stroke-width="1.11"/>
<text x="81.78" y="631.8" font-size="22.22" text-anchor="end">500</text>
<text x="441.5" y="1143" font-size="22.22" text-anchor="middle">SEV/OCA CTH [km] - ACTRIS CTH [km]</text>
<rect x="476.49" y="620.5" width="303.89" height="109" rx="4.4" ry="4.4" fill="#fff" fill-opacity="0.8" stroke="#ccc" stroke-opacity="0.8" stroke-width="1.39"/>
<line x1="485.38" y1="639.5" x2="529.83" y2="639.5" stroke="#ff0000" stroke-width="2.08" stroke-dasharray="7.71 3.33"/>
<text x="547.61" y="648.3" font-size="22.22" text-anchor="start">Bias (Mean): -0.21</text>
<line x1="485.38" y1="672.8" x2="529.83" y2="672.8" stroke="#0000ff" stroke-width="2.08" stroke-dasharray="7.71 3.33"/>
<text x="547.61" y="681.6" font-size="22.22" text-anchor="start">Bias (Median): -0.29</text>
<line x1="485.38" y1="706.1" x2="529.83" y2="706.1" stroke="#008000" stroke-width="2.08" stroke-dasharray="7.71 3.33"/>
<text x="547.61" y="714.9" font-size="22.22" text-anchor="start">SD: 1.59</text>
<rect x="909.5" y="1086.5" width="13" height="0" fill="#d3d3d3" stroke="#000" stroke-width="1.39" stroke-linejoin="miter"/>
<rect x="922.5" y="1086.5" width="12" height="0" fill="#d3d3d3" stroke="#000" stroke-width="1.39" stroke-linejoin="miter"/>
<rect x="934.5" y="1086.5" width="13" height="0" fill="#d3d3d3" stroke="#000" stroke-width="1.39" stroke-linejoin="miter"/>
<rect x="947.5" y="1081.5" width="13" height="5" fill="#d3d3d3" stroke="#000" stroke-width="1.39" stroke-linejoin="miter"/>
<rect x="960.5" y="1086.5" width="13" height="0" fill="#d3d3d3" stroke="#000" stroke-width="1.39" stroke-linejoin="miter"/>
<rect x="973.5" y="1086.5" width="12" height="0" fill="#d3d3d3" stroke="#000" stroke-width="1.39" stroke-linejoin="miter"/>
<rect x="985.5" y="1086.5" width="13" height="0" fill="#d3d3d3" stroke="#000" stroke-width="1.39" stroke-linejoin="miter"/>
<rect x="998.5" y="1081.5" width="13" height="5" fill="#d3d3d3" stroke="#000" stroke-width="1.39" stroke-linejoin="miter"/>
<rect x="1011.5" y="1086.5" width="12" height="0" fill="#d3d3d3" stroke="#000" stroke-width="1.39" stroke-linejoin="miter"/>
<rect x="1023.5" y="1081.5" width="13" height="5" fill="#d3d3d3" stroke="#000" stroke-width="1.39" stroke-linejoin="miter"/>
<rect x="1036.5" y="1071.5" width="13" height="15" fill="#d3d3d3" stroke="#000" stroke-width="1.39" stroke-linejoin="miter"/>
<rect x="1049.5" y="1086.5" width="13" height="0" fill="#d3d3d3" stroke="#000" stroke-width="1.39" stroke-linejoin="miter"/>
<rect x="1062.5" y="1086.5" width="12" height="0" fill="#d3d3d3" stroke="#000" stroke-width="1.39" stroke-linejoin="miter"/>
<rect x="1074.5" y="1086.5" width="13" height="0" fill="#d3d3d3" stroke="#000" stroke-width="1.39" stroke-linejoin="miter"/>
<rect x="1087.5" y="1066.5" width="13" height="20" fill="#d3d3d3" stroke="#000" stroke-width="1.39" stroke-linejoin="miter"/>
<rect x="1100.5" y="1076.5" width="12" height="10" fill="#d3d3d3" stroke="#000" stroke-width="1.39" stroke-linejoin="miter"/>
<rect x="1112.5" y="1076.5" width="13" height="10" fill="#d3d3d3" stroke="#000" stroke-width="1.39" stroke-linejoin="miter"/>
<rect x="1125.5" y="1071.5" width="13" height="15" fill="#d3d3d3" stroke="#000" stroke-width="1.39" stroke-linejoin="miter"/>
<rect x="1138.5" y="1042.5" width="13" height="44" fill="#d3d3d3" stroke="#000" stroke-width="1.39" stroke-linejoin="miter"/>
<rect x="1151.5" y="1047.5" width="12" height="39" fill="#d3d3d3" stroke="#000" stroke-width="1.39" stroke-linejoin="miter"/>
<rect x="1163.5" y="1027.5" width="13" height="59" fill="#d3d3d3" stroke="#000" stroke-width="1.39" stroke-linejoin="miter"/>
<rect x="1176.5" y="1013.5" width="13" height="73" fill="#d3d3d3" stroke="#000" stroke-width="1.39" stroke-linejoin="miter"/>
<rect x="1189.5" y="890.5" width="12" height="196" fill="#d3d3d3" stroke="#000" stroke-width="1.39" stroke-linejoin="miter"/>
<rect x="1201.5" y="783.5" width="13" height="303" fill="#d3d3d3" stroke="#000" stroke-width="1.39" stroke-linejoin="miter"/>
<rect x="1214.5" y="631.5" width="13" height="455" fill="#d3d3d3" stroke="#000" stroke-width="1.39" stroke-linejoin="miter"/>
<rect x="1227.5" y="758.5" width="13" height="328" fill="#d3d3d3" stroke="#000" stroke-width="1.39" stroke-linejoin="miter"/>
<rect x="1240.5" y="734.5" width="12" height="352" fill="#d3d3d3" stroke="#000" stroke-width="1.39" stroke-linejoin="miter"/>
<rect x="1252.5" y="861.5" width="13" height="225" fill="#d3d3d3" stroke="#000" stroke-width="1.39" stroke-linejoin="miter"/>
<rect x="1265.5" y="876.5" width="13" height="210" fill="#d3d3d3" stroke="#000" stroke-width="1.39" stroke-linejoin="miter"/>
<rect x="1278.5" y="949.5" width="13" height="137" fill="#d3d3d3" stroke="#000" stroke-width="1.39" stroke-linejoin="miter"/>
<rect x="1291.5" y="998.5" width="12" height="88" fill="#d3d3d3" stroke="#000" stroke-width="1.39" stroke-linejoin="miter"/>
<rect x="1303.5" y="1037.5" width="13" height="49" fill="#d3d3d3" stroke="#000" stroke-width="1.39" stroke-linejoin="miter"/>
<rect x="1316.5" y="1017.5" width="13" height="69" fill="#d3d3d3" stroke="#000" stroke-width="1.39" stroke-linejoin="miter"/>
<rect x="1329.5" y="998.5" width="12" height="88" fill="#d3d3d3" stroke="#000" stroke-width="1.39" stroke-linejoin="miter"/>
<rect x="1341.5" y="1052.5" width="13" height="34" fill="#d3d3d3" stroke="#000" stroke-width="1.39" stroke-linejoin="miter"/>
<rect x="1354.5" y="1076.5" width="13" height="10" fill="#d3d3d3" stroke="#000" stroke-width="1.39" stroke-linejoin="miter"/>
<rect x="1367.5" y="1062.5" width="13" height="24" fill="#d3d3d3" stroke="#000" stroke-width="1.39" stroke-linejoin="miter"/>
<rect x="1380.5" y="1071.5" width="12" height="15" fill="#d3d3d3" stroke="#000" stroke-width="1.39" stroke-linejoin="miter"/>
<rect x="1392.5" y="1071.5" width="13" height="15" fill="#d3d3d3" stroke="#000" stroke-width="1.39" stroke-linejoin="miter"/>
<rect x="1405.5" y="1071.5" width="13" height="15" fill="#d3d3d3" stroke="#000" stroke-width="1.39" stroke-linejoin="miter"/>
<rect x="1418.5" y="1071.5" width="12" height="15" fill="#d3d3d3" stroke="#000" stroke-width="1.39" stroke-linejoin="miter"/>
<rect x="1430.5" y="1081.5" width="13" height="5" fill="#d3d3d3" stroke="#000" stroke-width="1.39" stroke-linejoin="miter"/>
<rect x="1443.5" y="1076.5" width="13" height="10" fill="#d3d3d3" stroke="#000" stroke-width="1.39" stroke-linejoin="miter"/>
<rect x="1456.5" y="1071.5" width="13" height="15" fill="#d3d3d3" stroke="#000" stroke-width="1.39" stroke-linejoin="miter"/>
<rect x="1469.5" y="1081.5" width="12" height="5" fill="#d3d3d3" stroke="#000" stroke-width="1.39" stroke-linejoin="miter"/>
<rect x="1481.5" y="1086.5" width="13" height="0" fill="#d3d3d3" stroke="#000" stroke-width="1.39" stroke-linejoin="miter"/>
<rect x="1494.5" y="1081.5" width="13" height="5" fill="#d3d3d3" stroke="#000" stroke-width="1.39" stroke-linejoin="miter"/>
<rect x="1507.5" y="1086.5" width="12" height="0" fill="#d3d3d3" stroke="#000" stroke-width="1.39" stroke-linejoin="miter"/>
<rect x="1519.5" y="1086.5" width="13" height="0" fill="#d3d3d3" stroke="#000" stroke-width="1.39" stroke-linejoin="miter"/>
<rect x="1532.5" y="1086.5" width="13" height="0" fill="#d3d3d3" stroke="#000" stroke-width="1.39" stroke-linejoin="miter"/>
<line x1="1243" y1="1086.5" x2="1243" y2="608.5" stroke="#ff0000" stroke-width="2" stroke-dasharray="7.71 3.33"/>
<line x1="1234" y1="1086.5" x2="1234" y2="608.5" stroke="#0000ff" stroke-width="2" stroke-dasharray="7.71 3.33"/>
<line x1="1304" y1="1086.5" x2="1304" y2="608.5" stroke="#008000" stroke-width="2" stroke-dasharray="7.71 3.33"/>
<line x1="1181" y1="1086.5" x2="1181" y2="608.5" stroke="#008000" stroke-width="2" stroke-dasharray="7.71 3.33"/>
<rect x="877.5" y="608.5" width="700" height="478" fill="none" stroke="#000" stroke-width="1.11"/>
<line x1="912.5" y1="1086.5" x2="912.5" y2="1091.36" stroke="#000" stroke-width="1.11"/>
<text x="912.5" y="1113.5" font-size="22.22" text-anchor="middle">−6</text>
<line x1="1013.5" y1="1086.5" x2="1013.5" y2="1091.36" stroke="#000" stroke-width="1.11"/>
<text x="1013.5" y="1113.5" font-size="22.22" text-anchor="middle">−4</text>
<line x1="1114.5" y1="1086.5" x2="1114.5" y2="1091.36" stroke="#000" stroke-width="1.11"/>
<text x="1114.5" y="1113.5" font-size="22.22" text-anchor="middle">−2</text>
<line x1="1215.5" y1="1086.5" x2="1215.5" y2="1091.36" stroke="#000" stroke-width="1.11"/>
<text x="1215.5" y="1113.5" font-size="22.22" text-anchor="middle">0</text>
<line x1="1316.5" y1="1086.5" x2="1316.5" y2="1091.36" stroke="#000" stroke-width="1.11"/>
<text x="1316.5" y="1113.5" font-size="22.22" text-anchor="middle">2</text>
<line x1="1417.5" y1="1086.5" x2="1417.5" y2="1091.36" stroke="#000" stroke-width="1.11"/>
<text x="1417.5" y="1113.5" font-size="22.22" text-anchor="middle">4</text>
<line x1="1518.5" y1="1086.5" x2="1518.5" y2="1091.36" stroke="#000" stroke-width="1.11"/>
<text x="1518.5" y="1113.5" font-size="22.22" text-anchor="middle">6</text>
<line x1="872.64" y1="1086.5" x2="877.5" y2="1086.5" stroke="#000" stroke-width="1.11"/>
<text x="867.78" y="1095.8" font-size="22.22" text-anchor="end">0</text>
<line x1="872.64" y1="988.5" x2="877.5" y2="988.5" stroke="#000" stroke-width="1.11"/>
<text x="867.78" y="997.8" font-size="22.22" text-anchor="end">20</text>
<line x1="872.64" y1="890.5" x2="877.5" y2="890.5" stroke="#000" stroke-width="1.11"/>
<text x="867.78" y="899.8" font-size="22.22" text-anchor="end">40</text>
<line x1="872.64" y1="792.5" x2="877.5" y2="792.5" stroke="#000" stroke-width="1.11"/>
<text x="867.78" y="801.8" font-size="22.22" text-anchor="end">60</text>
<line x1="872.64" y1="694.5" x2="877.5" y2="694.5" stroke="#000" stroke-width="1.11"/>
<text x="867.78" y="703.8" font-size="22.22" text-anchor="end">80</text>
<text x="1227.5" y="1143" font-size="22.22" text-anchor="middle">SEV/OCA CTH [km] - ACTRIS CTH [km]</text>
<rect x="1270.51" y="620.5" width="295.88" height="109" rx="4.4" ry="4.4" fill="#fff" fill-opacity="0.8" stroke="#ccc" stroke-opacity="0.8" stroke-width="1.39"/>
<line x1="1279.4" y1="639.5" x2="1323.85" y2="639.5" stroke="#ff0000" stroke-width="2.08" stroke-dasharray="7.71 3.33"/>
<text x="1341.62" y="648.3" font-size="22.22" text-anchor="start">Bias (Mean): 0.55</text>
<line x1="1279.4" y1="672.8" x2="1323.85" y2="672.8" stroke="#0000ff" stroke-width="2.08" stroke-dasharray="7.71 3.33"/>
<text x="1341.62" y="681.6" font-size="22.22" text-anchor="start">Bias (Median): 0.38</text>
<line x1="1279.4" y1="706.1" x2="1323.85" y2="706.1" stroke="#008000" stroke-width="2.08" stroke-dasharray="7.71 3.33"/>
<text x="1341.62" y="714.9" font-size="22.22" text-anchor="start">SD: 1.22</text>
<rect x="1709.5" y="1086.5" width="13" height="0" fill="#d3d3d3" stroke="#000" stroke-width="1.39" stroke-linejoin="miter"/>
<rect x="1722.5" y="1086.5" width="12" height="0" fill="#d3d3d3" stroke="#000" stroke-width="1.39" stroke-linejoin="miter"/>
<rect x="1734.5" y="1086.5" width="13" height="0" fill="#d3d3d3" stroke="#000" stroke-width="1.39" stroke-linejoin="miter"/>
<rect x="1747.5" y="1083.5" width="13" height="3" fill="#d3d3d3" stroke="#000" stroke-width="1.39" stroke-linejoin="miter"/>
<rect x="1760.5" y="1083.5" width="13" height="3" fill="#d3d3d3" stroke="#000" stroke-width="1.39" stroke-linejoin="miter"/>
<rect x="1773.5" y="1076.5" width="12" height="10" fill="#d3d3d3" stroke="#000" stroke-width="1.39" stroke-linejoin="miter"/>
<rect x="1785.5" y="1079.5" width="13" height="7" fill="#d3d3d3" stroke="#000" stroke-width="1.39" stroke-linejoin="miter"/>
<rect x="1798.5" y="1064.5" width="13" height="22" fill="#d3d3d3" stroke="#000" stroke-width="1.39" stroke-linejoin="miter"/>
<rect x="1811.5" y="1076.5" width="12" height="10" fill="#d3d3d3" stroke="#000" stroke-width="1.39" stroke-linejoin="miter"/>
<rect x="1823.5" y="1064.5" width="13" height="22" fill="#d3d3d3" stroke="#000" stroke-width="1.39" stroke-linejoin="miter"/>
<rect x="1836.5" y="1068.5" width="13" height="18" fill="#d3d3d3" stroke="#000" stroke-width="1.39" stroke-linejoin="miter"/>
<rect x="1849.5" y="1058.5" width="13" height="28" fill="#d3d3d3" stroke="#000" stroke-width="1.39" stroke-linejoin="miter"/>
<rect x="1862.5" y="1061.5" width="12" height="25" fill="#d3d3d3" stroke="#000" stroke-width="1.39" stroke-linejoin="miter"/>
<rect x="1874.5" y="1063.5" width="13" height="23" fill="#d3d3d3" stroke="#000" stroke-width="1.39" stroke-linejoin="miter"/>
<rect x="1887.5" y="1049.5" width="13" height="37" fill="#d3d3d3" stroke="#000" stroke-width="1.39" stroke-linejoin="miter"/>
<rect x="1900.5" y="1049.5" width="13" height="37" fill="#d3d3d3" stroke="#000" stroke-width="1.39" stroke-linejoin="miter"/>
<rect x="1913.5" y="1034.5" width="12" height="52" fill="#d3d3d3" stroke="#000" stroke-width="1.39" stroke-linejoin="miter"/>
<rect x="1925.5" y="998.5" width="13" height="88" fill="#d3d3d3" stroke="#000" stroke-width="1.39" stroke-linejoin="miter"/>
<rect x="1938.5" y="999.5" width="13" height="87" fill="#d3d3d3" stroke="#000" stroke-width="1.39" stroke-linejoin="miter"/>
<rect x="1951.5" y="926.5" width="13" height="160" fill="#d3d3d3" stroke="#000" stroke-width="1.39" stroke-linejoin="miter"/>
<rect x="1964.5" y="826.5" width="12" height="260" fill="#d3d3d3" stroke="#000" stroke-width="1.39" stroke-linejoin="miter"/>
<rect x="1976.5" y="697.5" width="13" height="389" fill="#d3d3d3" stroke="#000" stroke-width="1.39" stroke-linejoin="miter"/>
<rect x="1989.5" y="672.5" width="13" height="414" fill="#d3d3d3" stroke="#000" stroke-width="1.39" stroke-linejoin="miter"/>
<rect x="2002.5" y="631.5" width="12" height="455" fill="#d3d3d3" stroke="#000" stroke-width="1.39" stroke-linejoin="miter"/>
<rect x="2014.5" y="672.5" width="13" height="414" fill="#d3d3d3" stroke="#000" stroke-width="1.39" stroke-linejoin="miter"/>
<rect x="2027.5" y="789.5" width="13" height="297" fill="#d3d3d3" stroke="#000" stroke-width="1.39" stroke-linejoin="miter"/>
<rect x="2040.5" y="871.5" width="13" height="215" fill="#d3d3d3" stroke="#000" stroke-width="1.39" stroke-linejoin="miter"/>
<rect x="2053.5" y="921.5" width="12" height="165" fill="#d3d3d3" stroke="#000" stroke-width="1.39" stroke-linejoin="miter"/>
<rect x="2065.5" y="1011.5" width="13" height="75" fill="#d3d3d3" stroke="#000" stroke-width="1.39" stroke-linejoin="miter"/>
<rect x="2078.5" y="1004.5" width="13" height="82" fill="#d3d3d3" stroke="#000" stroke-width="1.39" stroke-linejoin="miter"/>
<rect x="2091.5" y="1044.5" width="13" height="42" fill="#d3d3d3" stroke="#000" stroke-width="1.39" stroke-linejoin="miter"/>
<rect x="2104.5" y="1034.5" width="12" height="52" fill="#d3d3d3" stroke="#000" stroke-width="1.39" stroke-linejoin="miter"/>
<rect x="2116.5" y="1068.5" width="13" height="18" fill="#d3d3d3" stroke="#000" stroke-width="1.39" stroke-linejoin="miter"/>
<rect x="2129.5" y="1056.5" width="13" height="30" fill="#d3d3d3" stroke="#000" stroke-width="1.39" stroke-linejoin="miter"/>
<rect x="2142.5" y="1031.5" width="12" height="55" fill="#d3d3d3" stroke="#000" stroke-width="1.39" stroke-linejoin="miter"/>
<rect x="2154.5" y="1059.5" width="13" height="27" fill="#d3d3d3" stroke="#000" stroke-width="1.39" stroke-linejoin="miter"/>
<rect x="2167.5" y="1053.5" width="13" height="33" fill="#d3d3d3" stroke="#000" stroke-width="1.39" stroke-linejoin="miter"/>
<rect x="2180.5" y="1078.5" width="13" height="8" fill="#d3d3d3" stroke="#000" stroke-width="1.39" stroke-linejoin="miter"/>
<rect x="2193.5" y="1081.5" width="12" height="5" fill="#d3d3d3" stroke="#000" stroke-width="1.39" stroke-linejoin="miter"/>
<rect x="2205.5" y="1081.5" width="13" height="5" fill="#d3d3d3" stroke="#000" stroke-width="1.39" stroke-linejoin="miter"/>
<rect x="2218.5" y="1081.5" width="13" height="5" fill="#d3d3d3" stroke="#000" stroke-width="1.39" stroke-linejoin="miter"/>
<rect x="2231.5" y="1086.5" width="13" height="0" fill="#d3d3d3" stroke="#000" stroke-width="1.39" stroke-linejoin="miter"/>
<rect x="2244.5" y="1079.5" width="12" height="7" fill="#d3d3d3" stroke="#000" stroke-width="1.39" stroke-linejoin="miter"/>
<rect x="2256.5" y="1081.5" width="13" height="5" fill="#d3d3d3" stroke="#000" stroke-width="1.39" stroke-linejoin="miter"/>
<rect x="2269.5" y="1086.5" width="13" height="0" fill="#d3d3d3" stroke="#000" stroke-width="1.39" stroke-linejoin="miter"/>
<rect x="2282.5" y="1081.5" width="12" height="5" fill="#d3d3d3" stroke="#000" stroke-width="1.39" stroke-linejoin="miter"/>
<rect x="2294.5" y="1084.5" width="13" height="2" fill="#d3d3d3" stroke="#000" stroke-width="1.39" stroke-linejoin="miter"/>
<rect x="2307.5" y="1086.5" width="13" height="0" fill="#d3d3d3" stroke="#000" stroke-width="1.39" stroke-linejoin="miter"/>
<rect x="2320.5" y="1086.5" width="13" height="0" fill="#d3d3d3" stroke="#000" stroke-width="1.39" stroke-linejoin="miter"/>
<rect x="2333.5" y="1085.5" width="12" height="1" fill="#d3d3d3" stroke="#000" stroke-width="1.39" stroke-linejoin="miter"/>
<line x1="2006" y1="1086.5" x2="2006" y2="608.5" stroke="#ff0000" stroke-width="2" stroke-dasharray="7.71 3.33"/>
<line x1="2005" y1="1086.5" x2="2005" y2="608.5" stroke="#0000ff" stroke-width="2" stroke-dasharray="7.71 3.33"/>
<line x1="2073" y1="1086.5" x2="2073" y2="608.5" stroke="#008000" stroke-width="2" stroke-dasharray="7.71 3.33"/>
<line x1="1939" y1="1086.5" x2="1939" y2="608.5" stroke="#008000" stroke-width="2" stroke-dasharray="7.71 3.33"/>
<rect x="1677.5" y="608.5" width="700" height="478" fill="none" stroke="#000" stroke-width="1.11"/>
<line x1="1706.5" y1="1086.5" x2="1706.5" y2="1091.36" stroke="#000" stroke-width="1.11"/>
<text x="1706.5" y="1113.5" font-size="22.22" text-anchor="middle">−8</text>
<line x1="1785.5" y1="1086.5" x2="1785.5" y2="1091.36" stroke="#000" stroke-width="1.11"/>
<text x="1785.5" y="1113.5" font-size="22.22" text-anchor="middle">−6</text>
<line x1="1864.5" y1="1086.5" x2="1864.5" y2="1091.36" stroke="#000" stroke-width="1.11"/>
<text x="1864.5" y="1113.5" font-size="22.22" text-anchor="middle">−4</text>
<line x1="1943.5" y1="1086.5" x2="1943.5" y2="1091.36" stroke="#000" stroke-width="1.11"/>
<text x="1943.5" y="1113.5" font-size="22.22" text-anchor="middle">−2</text>
<line x1="2022.5" y1="1086.5" x2="2022.5" y2="1091.36" stroke="#000" stroke-width="1.11"/>
<text x="2022.5" y="1113.5" font-size="22.22" text-anchor="middle">0</text>
<line x1="2101.5" y1="1086.5" x2="2101.5" y2="1091.36" stroke="#000" stroke-width="1.11"/>
<text x="2101.5" y="1113.5" font-size="22.22" text-anchor="middle">2</text>
<line x1="2180.5" y1="1086.5" x2="2180.5" y2="1091.36" stroke="#000" stroke-width="1.11"/>
<text x="2180.5" y="1113.5" font-size="22.22" text-anchor="middle">4</text>
<line x1="2259.5" y1="1086.5" x2="2259.5" y2="1091.36" stroke="#000" stroke-width="1.11"/>
<text x="2259.5" y="1113.5" font-size="22.22" text-anchor="middle">6</text>
<line x1="2338.5" y1="1086.5" x2="2338.5" y2="1091.36" stroke="#000" stroke-width="1.11"/>
<text x="2338.5" y="1113.5" font-size="22.22" text-anchor="middle">8</text>
<line x1="1672.64" y1="1086.5" x2="1677.5" y2="1086.5" stroke="#000" stroke-width="1.11"/>
<text x="1667.78" y="1095.8" font-size="22.22" text-anchor="end">0</text>
<line x1="1672.64" y1="1003.5" x2="1677.5" y2="1003.5" stroke="#000" stroke-width="1.11"/>
<text x="1667.78" y="1012.8" font-size="22.22" text-anchor="end">50</text>
<line x1="1672.64" y1="919.5" x2="1677.5" y2="919.5" stroke="#000" stroke-width="1.11"/>
<text x="1667.78" y="928.8" font-size="22.22" text-anchor="end">100</text>
<line x1="1672.64" y1="836.5" x2="1677.5" y2="836.5" stroke="#000" stroke-width="1.11"/>
<text x="1667.78" y="845.8" font-size="22.22" text-anchor="end">150</text>
<line x1="1672.64" y1="752.5" x2="1677.5" y2="752.5" stroke="#000" stroke-width="1.11"/>
<text x="1667.78" y="761.8" font-size="22.22" text-anchor="end">200</text>
<line x1="1672.64" y1="669.5" x2="1677.5" y2="669.5" stroke="#000" stroke-width="1.11"/>
<text x="1667.78" y="678.8" font-size="22.22" text-anchor="end">250</text>
<text x="2027.5" y="1143" font-size="22.22" text-anchor="middle">SEV/OCA CTH [km] - ACTRIS CTH [km]</text>
<rect x="2062.49" y="620.5" width="303.89" height="109" rx="4.4" ry="4.4" fill="#fff" fill-opacity="0.8" stroke="#ccc" stroke-opacity="0.8" stroke-width="1.39"/>
<line x1="2071.38" y1="639.5" x2="2115.83" y2="639.5" stroke="#ff0000" stroke-width="2.08" stroke-dasharray="7.71 3.33"/>
<text x="2133.61" y="648.3" font-size="22.22" text-anchor="start">Bias (Mean): -0.40</text>
<line x1="2071.38" y1="672.8" x2="2115.83" y2="672.8" stroke="#0000ff" stroke-width="2.08" stroke-dasharray="7.71 3.33"/>
<text x="2133.61" y="681.6" font-size="22.22" text-anchor="start">Bias (Median): -0.43</text>
<line x1="2071.38" y1="706.1" x2="2115.83" y2="706.1" stroke="#008000" stroke-width="2.08" stroke-dasharray="7.71 3.33"/>
<text x="2133.61" y="714.9" font-size="22.22" text-anchor="start">SD: 1.69</text>
<rect x="2480.5" y="1086.5" width="13" height="0" fill="#d3d3d3" stroke="#000" stroke-width="1.39" stroke-linejoin="miter"/>
<rect x="2493.5" y="1086.5" width="13" height="0" fill="#d3d3d3" stroke="#000" stroke-width="1.39" stroke-linejoin="miter"/>
<rect x="2506.5" y="1086.5" width="12" height="0" fill="#d3d3d3" stroke="#000" stroke-width="1.39" stroke-linejoin="miter"/>
<rect x="2518.5" y="1086.5" width="13" height="0" fill="#d3d3d3" stroke="#000" stroke-width="1.39" stroke-linejoin="miter"/>
<rect x="2531.5" y="934.5" width="13" height="152" fill="#d3d3d3" stroke="#000" stroke-width="1.39" stroke-linejoin="miter"/>
<rect x="2544.5" y="1086.5" width="13" height="0" fill="#d3d3d3" stroke="#000" stroke-width="1.39" stroke-linejoin="miter"/>
<rect x="2557.5" y="1086.5" width="12" height="0" fill="#d3d3d3" stroke="#000" stroke-width="1.39" stroke-linejoin="miter"/>
<rect x="2569.5" y="1086.5" width="13" height="0" fill="#d3d3d3" stroke="#000" stroke-width="1.39" stroke-linejoin="miter"/>
<rect x="2582.5" y="1010.5" width="13" height="76" fill="#d3d3d3" stroke="#000" stroke-width="1.39" stroke-linejoin="miter"/>
<rect x="2595.5" y="1086.5" width="12" height="0" fill="#d3d3d3" stroke="#000" stroke-width="1.39" stroke-linejoin="miter"/>
<rect x="2607.5" y="1010.5" width="13" height="76" fill="#d3d3d3" stroke="#000" stroke-width="1.39" stroke-linejoin="miter"/>
<rect x="2620.5" y="1010.5" width="13" height="76" fill="#d3d3d3" stroke="#000" stroke-width="1.39" stroke-linejoin="miter"/>
<rect x="2633.5" y="1010.5" width="13" height="76" fill="#d3d3d3" stroke="#000" stroke-width="1.39" stroke-linejoin="miter"/>
<rect x="2646.5" y="1010.5" width="12" height="76" fill="#d3d3d3" stroke="#000" stroke-width="1.39" stroke-linejoin="miter"/>
<rect x="2658.5" y="1086.5" width="13" height="0" fill="#d3d3d3" stroke="#000" stroke-width="1.39" stroke-linejoin="miter"/>
<rect x="2671.5" y="1010.5" width="13" height="76" fill="#d3d3d3" stroke="#000" stroke-width="1.39" stroke-linejoin="miter"/>
<rect x="2684.5" y="1086.5" width="13" height="0" fill="#d3d3d3" stroke="#000" stroke-width="1.39" stroke-linejoin="miter"/>
<rect x="2697.5" y="934.5" width="12" height="152" fill="#d3d3d3" stroke="#000" stroke-width="1.39" stroke-linejoin="miter"/>
<rect x="2709.5" y="1010.5" width="13" height="76" fill="#d3d3d3" stroke="#000" stroke-width="1.39" stroke-linejoin="miter"/>
<rect x="2722.5" y="707.5" width="13" height="379" fill="#d3d3d3" stroke="#000" stroke-width="1.39" stroke-linejoin="miter"/>
<rect x="2735.5" y="1010.5" width="13" height="76" fill="#d3d3d3" stroke="#000" stroke-width="1.39" stroke-linejoin="miter"/>
<rect x="2748.5" y="1086.5" width="12" height="0" fill="#d3d3d3" stroke="#000" stroke-width="1.39" stroke-linejoin="miter"/>
<rect x="2760.5" y="858.5" width="13" height="228" fill="#d3d3d3" stroke="#000" stroke-width="1.39" stroke-linejoin="miter"/>
<rect x="2773.5" y="858.5" width="13" height="228" fill="#d3d3d3" stroke="#000" stroke-width="1.39" stroke-linejoin="miter"/>
<rect x="2786.5" y="858.5" width="13" height="228" fill="#d3d3d3" stroke="#000" stroke-width="1.39" stroke-linejoin="miter"/>
<rect x="2799.5" y="707.5" width="12" height="379" fill="#d3d3d3" stroke="#000" stroke-width="1.39" stroke-linejoin="miter"/>
<rect x="2811.5" y="858.5" width="13" height="228" fill="#d3d3d3" stroke="#000" stroke-width="1.39" stroke-linejoin="miter"/>
<rect x="2824.5" y="934.5" width="13" height="152" fill="#d3d3d3" stroke="#000" stroke-width="1.39" stroke-linejoin="miter"/>
<rect x="2837.5" y="631.5" width="12" height="455" fill="#d3d3d3" stroke="#000" stroke-width="1.39" stroke-linejoin="miter"/>
<rect x="2849.5" y="1010.5" width="13" height="76" fill="#d3d3d3" stroke="#000" stroke-width="1.39" stroke-linejoin="miter"/>
<rect x="2862.5" y="858.5" width="13" height="228" fill="#d3d3d3" stroke="#000" stroke-width="1.39" stroke-linejoin="miter"/>
<rect x="2875.5" y="707.5" width="13" height="379" fill="#d3d3d3" stroke="#000" stroke-width="1.39" stroke-linejoin="miter"/>
<rect x="2888.5" y="934.5" width="12" height="152" fill="#d3d3d3" stroke="#000" stroke-width="1.39" stroke-linejoin="miter"/>
<rect x="2900.5" y="934.5" width="13" height="152" fill="#d3d3d3" stroke="#000" stroke-width="1.39" stroke-linejoin="miter"/>
<rect x="2913.5" y="858.5" width="13" height="228" fill="#d3d3d3" stroke="#000" stroke-width="1.39" stroke-linejoin="miter"/>
<rect x="2926.5" y="858.5" width="13" height="228" fill="#d3d3d3" stroke="#000" stroke-width="1.39" stroke-linejoin="miter"/>
<rect x="2939.5" y="858.5" width="12" height="228" fill="#d3d3d3" stroke="#000" stroke-width="1.39" stroke-linejoin="miter"/>
<rect x="2951.5" y="934.5" width="13" height="152" fill="#d3d3d3" stroke="#000" stroke-width="1.39" stroke-linejoin="miter"/>
<rect x="2964.5" y="934.5" width="13" height="152" fill="#d3d3d3" stroke="#000" stroke-width="1.39" stroke-linejoin="miter"/>
<rect x="2977.5" y="1086.5" width="13" height="0" fill="#d3d3d3" stroke="#000" stroke-width="1.39" stroke-linejoin="miter"/>
<rect x="2990.5" y="1010.5" width="12" height="76" fill="#d3d3d3" stroke="#000" stroke-width="1.39" stroke-linejoin="miter"/>
<rect x="3002.5" y="1010.5" width="13" height="76" fill="#d3d3d3" stroke="#000" stroke-width="1.39" stroke-linejoin="miter"/>
<rect x="3015.5" y="1010.5" width="13" height="76" fill="#d3d3d3" stroke="#000" stroke-width="1.39" stroke-linejoin="miter"/>
<rect x="3028.5" y="1010.5" width="13" height="76" fill="#d3d3d3" stroke="#000" stroke-width="1.39" stroke-linejoin="miter"/>
<rect x="3041.5" y="1086.5" width="12" height="0" fill="#d3d3d3" stroke="#000" stroke-width="1.39" stroke-linejoin="miter"/>
<rect x="3053.5" y="1010.5" width="13" height="76" fill="#d3d3d3" stroke="#000" stroke-width="1.39" stroke-linejoin="miter"/>
<rect x="3066.5" y="1086.5" width="13" height="0" fill="#d3d3d3" stroke="#000" stroke-width="1.39" stroke-linejoin="miter"/>
<rect x="3079.5" y="1086.5" width="12" height="0" fill="#d3d3d3" stroke="#000" stroke-width="1.39" stroke-linejoin="miter"/>
<rect x="3091.5" y="1086.5" width="13" height="0" fill="#d3d3d3" stroke="#000" stroke-width="1.39" stroke-linejoin="miter"/>
<rect x="3104.5" y="1086.5" width="13" height="0" fill="#d3d3d3" stroke="#000" stroke-width="1.39" stroke-linejoin="miter"/>
<line x1="2828" y1="1086.5" x2="2828" y2="608.5" stroke="#ff0000" stroke-width="2" stroke-dasharray="7.71 3.33"/>
<line x1="2839" y1="1086.5" x2="2839" y2="608.5" stroke="#0000ff" stroke-width="2" stroke-dasharray="7.71 3.33"/>
<line x1="2942" y1="1086.5" x2="2942" y2="608.5" stroke="#008000" stroke-width="2" stroke-dasharray="7.71 3.33"/>
<line x1="2714" y1="1086.5" x2="2714" y2="608.5" stroke="#008000" stroke-width="2" stroke-dasharray="7.71 3.33"/>
<rect x="2448.5" y="608.5" width="700" height="478" fill="none" stroke="#000" stroke-width="1.11"/>
<line x1="2483.5" y1="1086.5" x2="2483.5" y2="1091.36" stroke="#000" stroke-width="1.11"/>
<text x="2483.5" y="1113.5" font-size="22.22" text-anchor="middle">−6</text>
<line x1="2586.5" y1="1086.5" x2="2586.5" y2="1091.36" stroke="#000" stroke-width="1.11"/>
<text x="2586.5" y="1113.5" font-size="22.22" text-anchor="middle">−4</text>
<line x1="2689.5" y1="1086.5" x2="2689.5" y2="1091.36" stroke="#000" stroke-width="1.11"/>
<text x="2689.5" y="1113.5" font-size="22.22" text-anchor="middle">−2</text>
<line x1="2792.5" y1="1086.5" x2="2792.5" y2="1091.36" stroke="#000" stroke-width="1.11"/>
<text x="2792.5" y="1113.5" font-size="22.22" text-anchor="middle">0</text>
<line x1="2895.5" y1="1086.5" x2="2895.5" y2="1091.36" stroke="#000" stroke-width="1.11"/>
<text x="2895.5" y="1113.5" font-size="22.22" text-anchor="middle">2</text>
<line x1="2998.5" y1="1086.5" x2="2998.5" y2="1091.36" stroke="#000" stroke-width="1.11"/>
<text x="2998.5" y="1113.5" font-size="22.22" text-anchor="middle">4</text>
<line x1="3101.5" y1="1086.5" x2="3101.5" y2="1091.36" stroke="#000" stroke-width="1.11"/>
<text x="3101.5" y="1113.5" font-size="22.22" text-anchor="middle">6</text>
<line x1="2443.64" y1="1086.5" x2="2448.5" y2="1086.5" stroke="#000" stroke-width="1.11"/>
<text x="2438.78" y="1095.8" font-size="22.22" text-anchor="end">0</text>
<line x1="2443.64" y1="1010.5" x2="2448.5" y2="1010.5" stroke="#000" stroke-width="1.11"/>
<text x="2438.78" y="1019.8" font-size="22.22" text-anchor="end">1</text>
<line x1="2443.64" y1="934.5" x2="2448.5" y2="934.5" stroke="#000" stroke-width="1.11"/>
<text x="2438.78" y="943.8" font-size="22.22" text-anchor="end">2</text>
<line x1="2443.64" y1="858.5" x2="2448.5" y2="858.5" stroke="#000" stroke-width="1.11"/>
<text x="2438.78" y="867.8" font-size="22.22" text-anchor="end">3</text>
<line x1="2443.64" y1="783.5" x2="2448.5" y2="783.5" stroke="#000" stroke-width="1.11"/>
<text x="2438.78" y="792.8" font-size="22.22" text-anchor="end">4</text>
<line x1="2443.64" y1="707.5" x2="2448.5" y2="707.5" stroke="#000" stroke-width="1.11"/>
<text x="2438.78" y="716.8" font-size="22.22" text-anchor="end">5</text>
<line x1="2443.64" y1="631.5" x2="2448.5" y2="631.5" stroke="#000" stroke-width="1.11"/>
<text x="2438.78" y="640.8" font-size="22.22" text-anchor="end">6</text>
<text x="2798.5" y="1143" font-size="22.22" text-anchor="middle">SEV/OCA CTH [km] - ACTRIS CTH [km]</text>
<rect x="2460.81" y="620.5" width="295.88" height="109" rx="4.4" ry="4.4" fill="#fff" fill-opacity="0.8" stroke="#ccc" stroke-opacity="0.8" stroke-width="1.39"/>
<line x1="2469.7" y1="639.5" x2="2514.14" y2="639.5" stroke="#ff0000" stroke-width="2.08" stroke-dasharray="7.71 3.33"/>
<text x="2531.92" y="648.3" font-size="22.22" text-anchor="start">Bias (Mean): 0.70</text>
<line x1="2469.7" y1="672.8" x2="2514.14" y2="672.8" stroke="#0000ff" stroke-width="2.08" stroke-dasharray="7.71 3.33"/>
<text x="2531.92" y="681.6" font-size="22.22" text-anchor="start">Bias (Median): 0.92</text>
<line x1="2469.7" y1="706.1" x2="2514.14" y2="706.1" stroke="#008000" stroke-width="2.08" stroke-dasharray="7.71 3.33"/>
<text x="2531.92" y="714.9" font-size="22.22" text-anchor="start">SD: 2.21</text>
<rect x="3290.5" y="1086.5" width="13" height="0" fill="#d3d3d3" stroke="#000" stroke-width="1.39" stroke-linejoin="miter"/>
<rect x="3303.5" y="1086.5" width="13" height="0" fill="#d3d3d3" stroke="#000" stroke-width="1.39" stroke-linejoin="miter"/>
<rect x="3316.5" y="1086.5" width="12" height="0" fill="#d3d3d3" stroke="#000" stroke-width="1.39" stroke-linejoin="miter"/>
<rect x="3328.5" y="1083.5" width="13" height="3" fill="#d3d3d3" stroke="#000" stroke-width="1.39" stroke-linejoin="miter"/>
<rect x="3341.5" y="1086.5" width="13" height="0" fill="#d3d3d3" stroke="#000" stroke-width="1.39" stroke-linejoin="miter"/>
<rect x="3354.5" y="1086.5" width="13" height="0" fill="#d3d3d3" stroke="#000" stroke-width="1.39" stroke-linejoin="miter"/>
<rect x="3367.5" y="1086.5" width="12" height="0" fill="#d3d3d3" stroke="#000" stroke-width="1.39" stroke-linejoin="miter"/>
<rect x="3379.5" y="1086.5" width="13" height="0" fill="#d3d3d3" stroke="#000" stroke-width="1.39" stroke-linejoin="miter"/>
<rect x="3392.5" y="1086.5" width="13" height="0" fill="#d3d3d3" stroke="#000" stroke-width="1.39" stroke-linejoin="miter"/>
<rect x="3405.5" y="1086.5" width="13" height="0" fill="#d3d3d3" stroke="#000" stroke-width="1.39" stroke-linejoin="miter"/>
<rect x="3418.5" y="1086.5" width="12" height="0" fill="#d3d3d3" stroke="#000" stroke-width="1.39" stroke-linejoin="miter"/>
<rect x="3430.5" y="1080.5" width="13" height="6" fill="#d3d3d3" stroke="#000" stroke-width="1.39" stroke-linejoin="miter"/>
<rect x="3443.5" y="1058.5" width="13" height="28" fill="#d3d3d3" stroke="#000" stroke-width="1.39" stroke-linejoin="miter"/>
<rect x="3456.5" y="1045.5" width="13" height="41" fill="#d3d3d3" stroke="#000" stroke-width="1.39" stroke-linejoin="miter"/>
<rect x="3469.5" y="1029.5" width="12" height="57" fill="#d3d3d3" stroke="#000" stroke-width="1.39" stroke-linejoin="miter"/>
<rect x="3481.5" y="1048.5" width="13" height="38" fill="#d3d3d3" stroke="#000" stroke-width="1.39" stroke-linejoin="miter"/>
<rect x="3494.5" y="979.5" width="13" height="107" fill="#d3d3d3" stroke="#000" stroke-width="1.39" stroke-linejoin="miter"/>
<rect x="3507.5" y="899.5" width="13" height="187" fill="#d3d3d3" stroke="#000" stroke-width="1.39" stroke-linejoin="miter"/>
<rect x="3520.5" y="836.5" width="12" height="250" fill="#d3d3d3" stroke="#000" stroke-width="1.39" stroke-linejoin="miter"/>
<rect x="3532.5" y="662.5" width="13" height="424" fill="#d3d3d3" stroke="#000" stroke-width="1.39" stroke-linejoin="miter"/>
<rect x="3545.5" y="653.5" width="13" height="433" fill="#d3d3d3" stroke="#000" stroke-width="1.39" stroke-linejoin="miter"/>
<rect x="3558.5" y="631.5" width="12" height="455" fill="#d3d3d3" stroke="#000" stroke-width="1.39" stroke-linejoin="miter"/>
<rect x="3570.5" y="719.5" width="13" height="367" fill="#d3d3d3" stroke="#000" stroke-width="1.39" stroke-linejoin="miter"/>
<rect x="3583.5" y="760.5" width="13" height="326" fill="#d3d3d3" stroke="#000" stroke-width="1.39" stroke-linejoin="miter"/>
<rect x="3596.5" y="751.5" width="13" height="335" fill="#d3d3d3" stroke="#000" stroke-width="1.39" stroke-linejoin="miter"/>
<rect x="3609.5" y="836.5" width="12" height="250" fill="#d3d3d3" stroke="#000" stroke-width="1.39" stroke-linejoin="miter"/>
<rect x="3621.5" y="925.5" width="13" height="161" fill="#d3d3d3" stroke="#000" stroke-width="1.39" stroke-linejoin="miter"/>
<rect x="3634.5" y="953.5" width="13" height="133" fill="#d3d3d3" stroke="#000" stroke-width="1.39" stroke-linejoin="miter"/>
<rect x="3647.5" y="960.5" width="13" height="126" fill="#d3d3d3" stroke="#000" stroke-width="1.39" stroke-linejoin="miter"/>
<rect x="3660.5" y="1020.5" width="12" height="66" fill="#d3d3d3" stroke="#000" stroke-width="1.39" stroke-linejoin="miter"/>
<rect x="3672.5" y="1013.5" width="13" height="73" fill="#d3d3d3" stroke="#000" stroke-width="1.39" stroke-linejoin="miter"/>
<rect x="3685.5" y="1042.5" width="13" height="44" fill="#d3d3d3" stroke="#000" stroke-width="1.39" stroke-linejoin="miter"/>
<rect x="3698.5" y="1045.5" width="13" height="41" fill="#d3d3d3" stroke="#000" stroke-width="1.39" stroke-linejoin="miter"/>
<rect x="3711.5" y="1058.5" width="12" height="28" fill="#d3d3d3" stroke="#000" stroke-width="1.39" stroke-linejoin="miter"/>
<rect x="3723.5" y="1061.5" width="13" height="25" fill="#d3d3d3" stroke="#000" stroke-width="1.39" stroke-linejoin="miter"/>
<rect x="3736.5" y="1048.5" width="13" height="38" fill="#d3d3d3" stroke="#000" stroke-width="1.39" stroke-linejoin="miter"/>
<rect x="3749.5" y="1070.5" width="13" height="16" fill="#d3d3d3" stroke="#000" stroke-width="1.39" stroke-linejoin="miter"/>
<rect x="3762.5" y="1070.5" width="12" height="16" fill="#d3d3d3" stroke="#000" stroke-width="1.39" stroke-linejoin="miter"/>
<rect x="3774.5" y="1073.5" width="13" height="13" fill="#d3d3d3" stroke="#000" stroke-width="1.39" stroke-linejoin="miter"/>
<rect x="3787.5" y="1077.5" width="13" height="9" fill="#d3d3d3" stroke="#000" stroke-width="1.39" stroke-linejoin="miter"/>
<rect x="3800.5" y="1073.5" width="13" height="13" fill="#d3d3d3" stroke="#000" stroke-width="1.39" stroke-linejoin="miter"/>
<rect x="3813.5" y="1073.5" width="12" height="13" fill="#d3d3d3" stroke="#000" stroke-width="1.39" stroke-linejoin="miter"/>
<rect x="3825.5" y="1086.5" width="13" height="0" fill="#d3d3d3" stroke="#000" stroke-width="1.39" stroke-linejoin="miter"/>
<rect x="3838.5" y="1080.5" width="13" height="6" fill="#d3d3d3" stroke="#000" stroke-width="1.39" stroke-linejoin="miter"/>
<rect x="3851.5" y="1083.5" width="13" height="3" fill="#d3d3d3" stroke="#000" stroke-width="1.39" stroke-linejoin="miter"/>
<rect x="3864.5" y="1086.5" width="12" height="0" fill="#d3d3d3" stroke="#000" stroke-width="1.39" stroke-linejoin="miter"/>
<rect x="3876.5" y="1083.5" width="13" height="3" fill="#d3d3d3" stroke="#000" stroke-width="1.39" stroke-linejoin="miter"/>
<rect x="3889.5" y="1086.5" width="13" height="0" fill="#d3d3d3" stroke="#000" stroke-width="1.39" stroke-linejoin="miter"/>
<rect x="3902.5" y="1086.5" width="12" height="0" fill="#d3d3d3" stroke="#000" stroke-width="1.39" stroke-linejoin="miter"/>
<rect x="3914.5" y="1086.5" width="13" height="0" fill="#d3d3d3" stroke="#000" stroke-width="1.39" stroke-linejoin="miter"/>
<line x1="3582" y1="1086.5" x2="3582" y2="608.5" stroke="#ff0000" stroke-width="2" stroke-dasharray="7.71 3.33"/>
<line x1="3571" y1="1086.5" x2="3571" y2="608.5" stroke="#0000ff" stroke-width="2" stroke-dasharray="7.71 3.33"/>
<line x1="3645" y1="1086.5" x2="3645" y2="608.5" stroke="#008000" stroke-width="2" stroke-dasharray="7.71 3.33"/>
<line x1="3519" y1="1086.5" x2="3519" y2="608.5" stroke="#008000" stroke-width="2" stroke-dasharray="7.71 3.33"/>
<rect x="3259.5" y="608.5" width="700" height="478" fill="none" stroke="#000" stroke-width="1.11"/>
<line x1="3323.5" y1="1086.5" x2="3323.5" y2="1091.36" stroke="#000" stroke-width="1.11"/>
<text x="3323.5" y="1113.5" font-size="22.22" text-anchor="middle">−6</text>
<line x1="3414.5" y1="1086.5" x2="3414.5" y2="1091.36" stroke="#000" stroke-width="1.11"/>
<text x="3414.5" y="1113.5" font-size="22.22" text-anchor="middle">−4</text>
<line x1="3505.5" y1="1086.5" x2="3505.5" y2="1091.36" stroke="#000" stroke-width="1.11"/>
<text x="3505.5" y="1113.5" font-size="22.22" text-anchor="middle">−2</text>
<line x1="3596.5" y1="1086.5" x2="3596.5" y2="1091.36" stroke="#000" stroke-width="1.11"/>
<text x="3596.5" y="1113.5" font-size="22.22" text-anchor="middle">0</text>
<line x1="3687.5" y1="1086.5" x2="3687.5" y2="1091.36" stroke="#000" stroke-width="1.11"/>
<text x="3687.5" y="1113.5" font-size="22.22" text-anchor="middle">2</text>
<line x1="3777.5" y1="1086.5" x2="3777.5" y2="1091.36" stroke="#000" stroke-width="1.11"/>
<text x="3777.5" y="1113.5" font-size="22.22" text-anchor="middle">4</text>
<line x1="3868.5" y1="1086.5" x2="3868.5" y2="1091.36" stroke="#000" stroke-width="1.11"/>
<text x="3868.5" y="1113.5" font-size="22.22" text-anchor="middle">6</text>
<line x1="3254.64" y1="1086.5" x2="3259.5" y2="1086.5" stroke="#000" stroke-width="1.11"/>
<text x="3249.78" y="1095.8" font-size="22.22" text-anchor="end">0</text>
<line x1="3254.64" y1="1023.5" x2="3259.5" y2="1023.5" stroke="#000" stroke-width="1.11"/>
<text x="3249.78" y="1032.8" font-size="22.22" text-anchor="end">20</text>
<line x1="3254.64" y1="960.5" x2="3259.5" y2="960.5" stroke="#000" stroke-width="1.11"/>
<text x="3249.78" y="969.8" font-size="22.22" text-anchor="end">40</text>
<line x1="3254.64" y1="896.5" x2="3259.5" y2="896.5" stroke="#000" stroke-width="1.11"/>
<text x="3249.78" y="905.8" font-size="22.22" text-anchor="end">60</text>
<line x1="3254.64" y1="833.5" x2="3259.5" y2="833.5" stroke="#000" stroke-width="1.11"/>
<text x="3249.78" y="842.8" font-size="22.22" text-anchor="end">80</text>
<line x1="3254.64" y1="770.5" x2="3259.5" y2="770.5" stroke="#000" stroke-width="1.11"/>
<text x="3249.78" y="779.8" font-size="22.22" text-anchor="end">100</text>
<line x1="3254.64" y1="707.5" x2="3259.5" y2="707.5" stroke="#000" stroke-width="1.11"/>
<text x="3249.78" y="716.8" font-size="22.22" text-anchor="end">120</text>
<line x1="3254.64" y1="643.5" x2="3259.5" y2="643.5" stroke="#000" stroke-width="1.11"/>
<text x="3249.78" y="652.8" font-size="22.22" text-anchor="end">140</text>
<text x="3609.5" y="1143" font-size="22.22" text-anchor="middle">SEV/OCA CTH [km] - ACTRIS CTH [km]</text>
<rect x="3644.49" y="620.5" width="303.89" height="109" rx="4.4" ry="4.4" fill="#fff" fill-opacity="0.8" stroke="#ccc" stroke-opacity="0.8" stroke-width="1.39"/>
<line x1="3653.38" y1="639.5" x2="3697.83" y2="639.5" stroke="#ff0000" stroke-width="2.08" stroke-dasharray="7.71 3.33"/>
<text x="3715.61" y="648.3" font-size="22.22" text-anchor="start">Bias (Mean): -0.30</text>
<line x1="3653.38" y1="672.8" x2="3697.83" y2="672.8" stroke="#0000ff" stroke-width="2.08" stroke-dasharray="7.71 3.33"/>
<text x="3715.61" y="681.6" font-size="22.22" text-anchor="start">Bias (Median): -0.54</text>
<line x1="3653.38" y1="706.1" x2="3697.83" y2="706.1" stroke="#008000" stroke-width="2.08" stroke-dasharray="7.71 3.33"/>
<text x="3715.61" y="714.9" font-size="22.22" text-anchor="start">SD: 1.39</text>
<text x="40.93" y="275.6" font-size="22.22" text-anchor="middle" transform="rotate(-90 40.93 275.6)">SEV/OCA CTH [km]</text>
<text x="841.07" y="275.6" font-size="22.22" text-anchor="middle" transform="rotate(-90 841.07 275.6)">SEV/OCA CTH [km]</text>
<text x="1626.93" y="275.6" font-size="22.22" text-anchor="middle" transform="rotate(-90 1626.93 275.6)">SEV/OCA CTH [km]</text>
<text x="2412.07" y="275.6" font-size="22.22" text-anchor="middle" transform="rotate(-90 2412.07 275.6)">SEV/OCA CTH [km]</text>
<text x="3208.93" y="275.6" font-size="22.22" text-anchor="middle" transform="rotate(-90 3208.93 275.6)">SEV/OCA CTH [km]</text>
<text x="27.6" y="849.8" font-size="22.22" text-anchor="middle" transform="rotate(-90 27.6 849.8)">Counts</text>
<text x="827.73" y="849.8" font-size="22.22" text-anchor="middle" transform="rotate(-90 827.73 849.8)">Counts</text>
<text x="1613.6" y="849.8" font-size="22.22" text-anchor="middle" transform="rotate(-90 1613.6 849.8)">Counts</text>
<text x="2412.87" y="849.8" font-size="22.22" text-anchor="middle" transform="rotate(-90 2412.87 849.8)">Counts</text>
<text x="3195.6" y="849.8" font-size="22.22" text-anchor="middle" transform="rotate(-90 3195.6 849.8)">Counts</text>
</svg></body></html>
